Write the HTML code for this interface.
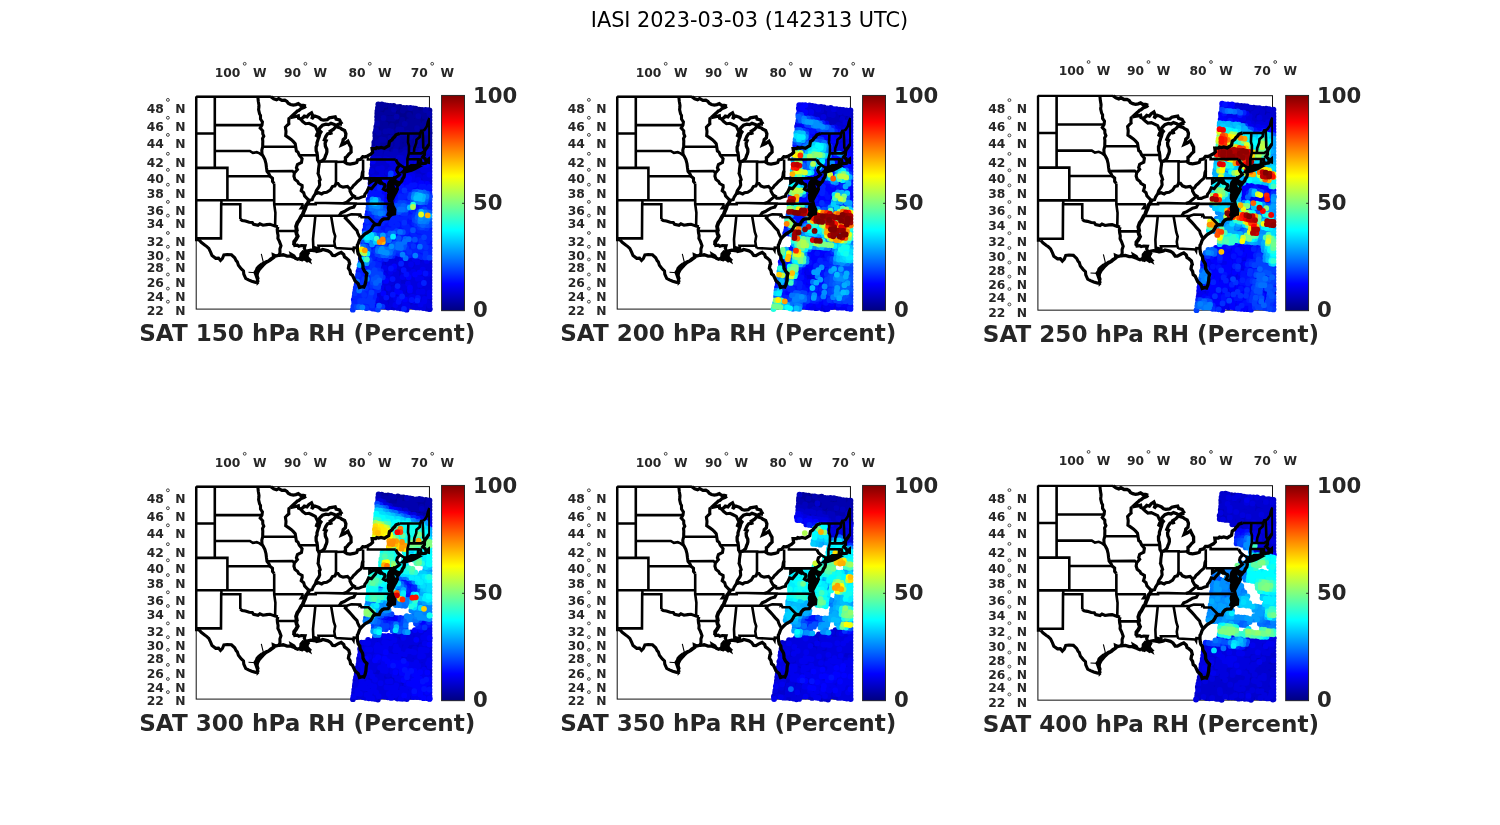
<!DOCTYPE html><html><head><meta charset="utf-8"><title>IASI 2023-03-03</title><style>html,body{margin:0;padding:0;background:#fff}svg{display:block}text{font-family:"DejaVu Sans","Liberation Sans",sans-serif}.b{font-weight:bold;fill:#262626}.d{fill:none;stroke:#262626;stroke-width:.85}</style></head><body>
<svg width="1500" height="825" viewBox="0 0 1500 825">
<defs><linearGradient id="jet" x1="0" y1="1" x2="0" y2="0">
<stop offset="0.0000" stop-color="#000080"/>
<stop offset="0.0312" stop-color="#00009f"/>
<stop offset="0.0625" stop-color="#0000bf"/>
<stop offset="0.0938" stop-color="#0000df"/>
<stop offset="0.1250" stop-color="#0000ff"/>
<stop offset="0.1562" stop-color="#0020ff"/>
<stop offset="0.1875" stop-color="#0040ff"/>
<stop offset="0.2188" stop-color="#0060ff"/>
<stop offset="0.2500" stop-color="#0080ff"/>
<stop offset="0.2812" stop-color="#009fff"/>
<stop offset="0.3125" stop-color="#00bfff"/>
<stop offset="0.3438" stop-color="#00dfff"/>
<stop offset="0.3750" stop-color="#00ffff"/>
<stop offset="0.4062" stop-color="#20ffdf"/>
<stop offset="0.4375" stop-color="#40ffbf"/>
<stop offset="0.4688" stop-color="#60ff9f"/>
<stop offset="0.5000" stop-color="#80ff80"/>
<stop offset="0.5312" stop-color="#9fff60"/>
<stop offset="0.5625" stop-color="#bfff40"/>
<stop offset="0.5938" stop-color="#dfff20"/>
<stop offset="0.6250" stop-color="#ffff00"/>
<stop offset="0.6562" stop-color="#ffdf00"/>
<stop offset="0.6875" stop-color="#ffbf00"/>
<stop offset="0.7188" stop-color="#ff9f00"/>
<stop offset="0.7500" stop-color="#ff8000"/>
<stop offset="0.7812" stop-color="#ff6000"/>
<stop offset="0.8125" stop-color="#ff4000"/>
<stop offset="0.8438" stop-color="#ff2000"/>
<stop offset="0.8750" stop-color="#ff0000"/>
<stop offset="0.9062" stop-color="#df0000"/>
<stop offset="0.9375" stop-color="#bf0000"/>
<stop offset="0.9688" stop-color="#9f0000"/>
<stop offset="1.0000" stop-color="#800000"/>
</linearGradient>
<clipPath id="cpm"><rect x="-1.3" y="-1.3" width="235.1" height="214.1"/></clipPath>
<g id="map" fill="none" stroke="#000" stroke-linejoin="miter" stroke-miterlimit="4" clip-path="url(#cpm)"><path d="M0.0 0.0 74.7 0.0M0.0 0.0 0.0 143.4 3.0 143.4M18.6 0.0 18.6 71.3M0.0 36.9 18.6 36.9M18.6 28.5 65.8 28.5M18.6 54.4 53.6 54.4 56.7 56.3 60.5 55.6 63.4 56.8 65.6 58.5 66.5 58.7M0.0 71.3 31.2 71.3 31.2 103.7M31.2 79.6 73.7 79.6M0.0 103.7 78.0 103.7M25.2 103.7 25.2 107.6 25.0 107.6 24.8 141.8 2.4 141.8 3.0 143.4M25.2 107.6 44.1 107.6 44.1 122.6M81.7 134.4 99.8 134.4M78.9 129.5 79.2 116.1 78.0 107.6 78.0 86.9M78.0 107.6 106.2 107.6 106.5 109.1 104.8 111.5 109.1 111.5M70.8 74.7 96.3 74.5 98.2 76.4M66.5 50.1 99.5 50.1M103.1 58.7 121.0 58.7M124.8 64.9 140.0 64.9 140.0 65.4 148.5 65.2M139.8 65.4 139.8 86.9M166.9 62.9 166.9 81.8M110.3 107.6 119.5 107.6 119.5 106.4 129.2 106.4 147.1 106.8 159.6 106.9 159.6 107.2 196.2 107.2M105.3 119.2 150.6 119.2M118.5 119.2 119.1 120.0 116.8 142.6 117.3 155.0M134.9 119.4 137.6 135.3 139.0 139.6 138.1 144.8 138.7 149.2 139.6 151.4M123.2 154.3 122.3 149.2 138.7 149.2M139.6 151.4 156.3 152.3 157.3 153.9 157.6 151.0 161.1 151.3M150.6 119.2 155.1 117.7 163.7 118.0 163.6 118.8 164.3 118.4 165.3 120.6 172.3 120.7 179.4 127.9M166.9 81.8 196.7 81.8M196.7 81.8 197.9 80.9 199.1 81.2 198.3 83.6 199.5 87.3 201.1 89.3 201.4 92.1 197.3 92.1 196.7 81.8M199.5 62.9 171.7 62.9 171.7 60.6M203.6 68.3 208.7 71.3M210.2 71.3 211.2 69.2 211.2 62.5 212.7 56.5 212.8 49.2 211.8 45.7 212.2 36.8M211.2 62.5 221.9 62.7 224.6 62.8 224.6 64.2 225.7 67.1M222.0 62.8 221.6 68.6M212.7 56.5 225.1 56.8 226.9 55.5 228.2 55.5M217.7 56.7 218.1 51.8 220.0 46.6 220.3 43.1 223.5 40.4 223.8 36.8M228.8 53.5 227.1 50.9 226.8 41.3 226.4 34.2M203.6 36.9 223.8 36.8 225.1 34.2 226.4 34.2 228.2 33.3 230.7 29.7 231.7 25.2 233.2 21.5M233.2 21.5 233.2 48.1M233.2 62.2 233.2 66.0" stroke-width="2.6"/><path d="M44.1 122.6 46.0 123.9 49.2 124.5 53.0 125.7 56.1 125.9 57.4 127.7 61.8 128.7 63.7 127.2 66.8 128.6 70.6 128.0 73.8 127.7 76.9 128.8 78.9 129.5 81.7 130.2M3.0 143.4 5.0 145.7 8.8 148.6 10.1 149.5 12.6 151.8 14.5 155.8 15.8 159.0 19.5 161.7 22.3 161.5 24.3 163.9 26.2 161.9 27.7 158.3 30.9 157.9 35.3 158.2 38.5 161.2 40.0 164.1 41.1 165.2 42.2 168.7 45.1 172.3 47.3 174.4 47.6 177.6 49.5 181.8 52.3 183.2 55.5 184.6 59.3 185.7 62.1 185.3M82.9 158.7 83.8 155.8 83.7 152.5 84.8 149.2 83.2 144.8 81.7 141.8 81.9 138.8 81.3 136.1 81.0 132.9 81.7 130.2M78.0 86.9 76.3 84.9 76.3 81.6 73.8 79.6 72.7 77.2 70.8 74.7 70.3 71.3 69.8 67.1 68.7 62.9 66.5 58.7M66.5 58.7 65.8 57.3 65.6 53.5 66.5 50.1 66.5 47.1 66.6 44.5 66.3 41.9 67.6 39.5 66.6 37.2 66.5 34.2 64.0 31.5 65.8 28.5 66.2 25.3 64.3 22.5 64.3 18.8 63.4 17.4 62.4 13.0 62.7 10.4 62.8 8.9 62.1 4.8 61.6 0.0M93.9 21.1 92.7 21.9 92.5 25.1 92.7 27.2 90.9 28.7 89.2 30.6 89.8 34.7 89.5 39.1 92.7 41.3 95.2 43.1 97.2 45.0 99.0 47.0 99.5 50.1 100.2 54.4 101.7 55.4 103.1 58.7 105.9 62.0 105.3 65.8 101.2 67.9 100.2 71.3 101.2 73.0 98.2 76.4 97.7 79.6 98.7 82.8 101.5 85.0 102.4 86.9 105.9 88.9 106.0 90.7 105.0 94.1 107.5 96.1 108.4 99.3 110.3 101.3 112.7 103.7M97.1 149.2 101.2 148.6 102.7 149.6 105.0 149.0 108.9 149.2 108.1 151.8 109.7 155.0M119.1 97.3 120.1 94.1 122.7 90.3 123.5 88.3 123.1 84.2 124.0 83.0 123.2 80.4 121.8 76.8 122.1 76.1 122.3 72.4 122.6 70.3 123.0 67.6 122.7 64.9M166.9 74.3 166.1 76.3 165.8 79.1 164.9 82.0 161.4 84.9 159.2 87.3 157.3 88.9 155.7 91.3 153.8 92.4 151.3 89.9 146.9 90.5 143.7 89.3 141.8 86.9 139.8 86.9 138.7 89.3 136.2 90.0 134.0 93.6 130.5 95.7 127.3 96.1 125.5 97.3 122.5 96.1 119.1 97.3 116.9 100.5 116.0 103.1 112.7 103.7M147.1 106.8 150.7 105.6 153.2 103.3 155.7 101.3 157.8 99.4 155.7 98.1 153.8 94.5 153.8 92.4M157.8 99.4 159.5 101.7 162.6 101.7 165.2 100.5 168.3 99.7 168.6 97.7 170.5 95.3 172.4 91.3 175.3 92.1 177.3 89.6 179.4 87.3 180.6 84.5 183.8 86.5 184.6 85.1M159.6 106.9 157.6 110.5 153.8 111.5 150.7 113.3 148.1 114.9 145.0 116.1 143.0 119.3M164.5 141.5 163.0 139.6 161.4 136.2 160.8 134.0 157.9 131.0 155.7 128.3 152.9 125.3 150.7 123.0 149.1 121.5 150.6 119.2M173.5 81.8 173.5 86.1 176.5 84.1 180.3 82.7 183.8 82.8 184.6 85.1 186.0 86.9 188.5 88.1 188.9 89.3 187.2 92.5 189.4 93.7 190.9 93.4 193.8 96.5M199.1 81.2 202.0 79.1 203.3 77.9 201.1 75.0 200.5 73.8 201.1 71.3 203.6 68.3 201.4 66.3 199.5 62.9M122.3 36.0 120.7 33.3 119.1 29.7 115.4 27.9 112.8 26.7 109.3 27.1 106.5 24.9 104.6 22.9" stroke-width="3.1"/><path d="M112.7 103.7 111.6 106.8 110.0 108.4 109.1 111.5 107.5 115.0 106.5 118.0 105.3 119.2 103.7 122.3 102.7 124.2 101.2 126.1 99.9 129.9 100.6 133.7 99.8 134.4 100.5 137.4 101.5 139.6 99.9 142.6 98.0 145.1 97.9 148.3 97.1 149.2" stroke-width="3.9"/><path d="M82.9 158.5 79.6 159.4 77.2 158.3 77.5 160.8 74.5 163.0 73.0 164.2 70.2 165.1 68.9 165.9 66.0 167.3M74.7 0.0 77.5 2.1 80.4 3.1 82.5 2.0 85.7 3.8 88.6 3.6 90.7 4.8 92.0 6.7 94.3 7.9 97.1 8.5 99.7 8.0 102.1 7.1 104.4 8.7 107.2 8.7 109.7 9.5M109.7 9.5 108.1 10.8 104.6 12.1 102.5 14.0 101.2 14.4 99.0 16.5 95.8 19.3 93.9 21.1M203.6 36.9 199.8 38.2 198.4 40.2 196.7 41.8 195.8 43.3 193.3 44.9 192.5 49.1 190.0 50.6 188.2 51.7 184.8 50.8 182.5 51.4 180.6 50.9 179.5 51.9 175.9 52.0 176.4 55.7 174.5 57.6 171.3 59.3 169.2 60.2 166.6 60.1 164.5 62.7 161.5 63.4 160.5 65.9 157.7 66.9 153.8 67.5 150.9 67.1 148.0 65.3M148.0 65.3 149.3 64.1 149.2 61.0 150.7 60.0 152.6 57.6 154.9 55.5 154.8 53.3 154.8 50.7 153.4 48.3 151.7 44.7 148.4 47.0 145.4 48.3 146.7 44.9 147.0 43.1 149.2 41.1 149.7 37.2 148.4 33.9 145.8 32.7 144.1 31.3 141.7 30.7 139.9 29.6 137.4 32.6 134.0 34.7 135.2 38.2 134.6 36.0 131.4 37.2 129.7 39.8 128.2 43.3 130.0 44.1 128.9 46.6 129.2 49.6 130.6 52.6 130.7 55.3 130.1 57.6 129.5 58.6 128.4 61.9 126.3 64.0 122.9 65.6 121.4 63.3 121.2 59.3 120.7 55.9 120.0 54.2 119.9 50.4 120.8 48.3 120.8 46.1 122.0 42.4 122.8 40.3 123.7 36.9 125.5 34.2 124.1 35.1 122.6 37.8 119.9 40.3 121.0 37.2 122.3 36.0M145.8 27.5 142.4 27.6 139.9 28.9 138.1 27.8 134.8 26.7 132.3 28.0 129.7 27.5 126.3 28.7 123.7 31.3 121.9 33.9 122.3 36.0M82.9 158.7 87.0 158.2 90.8 159.5 93.9 159.4 95.8 160.1 95.2 157.9 97.7 159.4 99.0 161.5 101.5 162.6 104.0 161.5 105.9 163.0 107.8 161.5 111.0 164.1 113.2 163.0 111.0 160.8 109.1 158.7 111.6 156.5 109.7 155.0 111.6 154.2 114.7 153.6 117.3 153.9 119.1 154.3 119.1 151.4 120.4 151.8 121.0 154.7 123.2 154.3 124.8 153.9 126.4 152.9 129.2 153.6 131.8 154.3 134.3 155.8 136.5 158.9 138.7 159.0 142.5 156.8 145.0 155.8 147.5 157.9 148.3 160.4 150.0 161.5 152.6 163.7 153.5 167.3 152.8 168.3 152.2 171.6 153.8 174.1 154.4 177.3 156.3 178.7 157.6 181.5 158.9 184.3 162.0 187.1 163.3 190.9 166.1 190.1 167.7 190.5 168.9 187.8 169.7 184.3 170.0 180.1 170.7 177.0 168.3 174.4 166.8 171.5 166.7 168.7 166.4 166.6 165.7 165.4 163.9 162.3 163.6 159.5 162.0 157.2 161.4 154.3 161.1 151.3 161.2 148.3 162.0 147.0 163.3 143.3 164.5 141.5 167.1 138.8 168.9 137.2 170.8 136.2 174.3 134.0 175.9 131.4 177.1 129.1 179.4 127.9 183.1 128.0 184.1 125.3 186.1 123.0 187.9 122.3 192.0 122.1 193.5 119.6 195.6 117.9 198.3 117.3 198.6 113.0 196.7 109.4 196.2 107.2 195.4 104.4 193.2 104.1 192.3 101.7 192.4 98.4 193.8 96.5M193.8 96.5 192.9 93.3 192.9 91.0 192.3 88.5 192.9 86.1 194.8 83.6 195.4 84.5 194.0 87.2 194.2 89.3 193.5 92.5 196.1 94.5 197.3 96.5 196.5 100.0 195.4 101.7 196.1 102.5 197.9 98.9 199.8 95.7 201.4 92.1M201.1 89.3 202.4 88.1 202.4 86.1 199.5 84.9 198.3 82.8M202.4 88.1 203.8 86.2 205.5 84.5 206.2 82.5 207.7 80.4 208.2 78.2 208.0 75.9 206.5 75.4 208.3 73.8 208.7 71.3M208.3 73.8 208.0 74.8 210.1 74.9 212.4 74.4 215.3 73.5 218.1 72.4 221.3 70.7 218.8 70.5 216.9 71.7 213.1 71.9 209.6 72.5 210.2 71.3 213.7 70.0 215.0 69.0 218.8 69.0 221.6 68.6 223.8 68.2 224.4 66.3 225.7 67.1 226.3 67.1 229.2 66.7 229.8 65.0 233.2 65.8 233.2 64.6 232.6 62.5 230.1 64.6 228.8 62.0 226.6 60.4 228.2 58.2 228.2 55.5 228.8 53.5 230.7 50.9 232.0 48.8 233.2 47.4M93.9 21.1 96.2 20.6 99.6 19.9 102.1 19.3 102.4 21.5 104.6 22.6 106.8 21.1 108.2 19.5 110.8 20.2 112.7 17.8 115.3 16.2 116.6 19.3 115.5 22.5 116.9 20.6 118.7 19.4 121.4 20.3 122.9 21.1 124.9 22.9 127.2 23.5 131.0 23.1 133.1 21.3 135.9 20.8 139.0 20.2 139.9 22.5 143.3 23.4 144.3 25.2 145.8 27.5M66.0 167.3 62.6 170.0 60.9 171.7 60.2 173.8 58.9 175.8 60.2 179.3 61.3 182.7 61.7 185.7 62.1 185.3M76.6 161.2 74.5 162.4 71.9 164.8 69.7 166.0 66.8 168.7 64.7 171.1 63.0 173.0 61.1 176.7 60.9 179.3 62.0 182.7" stroke-width="3.3"/><path d="M67.1 165.5 65.1 157.2M52.3 175.7 59.9 176.1" stroke-width="1.1"/><path d="M104.0 157.2 106.5 154.3 110.3 155.0 112.7 156.7 111.6 159.4 112.0 161.1 113.5 163.7 114.4 165.9 111.0 163.7 107.2 163.0 104.0 163.7 103.7 160.8 104.0 157.2Z" fill="#000" stroke-width="1.5"/><path d="M192.9 85.3 195.1 84.5 195.7 87.7 197.6 90.1 198.6 92.5 198.3 95.7 196.7 99.7 195.4 102.1 193.2 102.5 192.3 98.9 192.3 96.7 191.0 93.3 191.0 90.7 191.6 88.5 192.9 85.3Z" fill="#000" stroke-width="1.5"/><path d="M192.3 107.6 195.4 107.6 196.4 110.7 196.0 112.0 197.6 115.3 194.8 118.0 192.3 119.6 190.7 118.4 192.0 115.3 191.3 111.5 192.3 107.6Z" fill="#000" stroke-width="1.5"/></g>
</defs>
<text x="749.5" y="26.5" font-size="20.82" text-anchor="middle" fill="#000">IASI 2023-03-03 (142313 UTC)</text>
<g transform="translate(196.20,96.60) scale(1.0000,1.0000)"><rect x="0" y="0" width="233.25" height="212.50" fill="#fff" stroke="#111" stroke-width="1"/></g>
<g transform="translate(196.20,96.60) scale(1.0000)">
<g fill="none" stroke-width="5.8" stroke-linecap="round"><path d="M201.1 13.6h0M200.0 16.8h0M190.9 18.6h0M224.0 32.2h0M194.2 44.1h0" stroke="#000080"/><path d="M191.2 9.1h0M197.5 9.4h0M203.8 10.3h0M222.8 13.1h0M225.8 13.3h0M188.3 11.8h0M191.2 12.6h0M203.7 14.2h0M210.4 14.1h0M213.3 14.4h0M216.6 15.5h0M228.9 17.1h0M184.9 15.2h0M188.3 14.8h0M203.2 16.6h0M206.6 17.6h0M209.4 17.6h0M216.4 18.8h0M225.9 19.2h0M233.3 20.5h0M181.1 17.0h0M194.0 19.1h0M196.6 19.7h0M203.6 19.9h0M206.3 20.0h0M209.6 20.4h0M212.2 20.9h0M218.4 21.4h0M225.0 22.2h0M228.7 23.1h0M184.5 21.5h0M199.3 23.3h0M203.0 22.8h0M209.2 24.4h0M224.7 25.5h0M189.9 24.6h0M193.4 25.7h0M196.3 26.0h0M200.0 26.4h0M202.5 26.1h0M186.9 27.3h0M193.3 28.7h0M199.7 29.3h0M205.1 29.4h0M218.3 31.1h0M227.1 32.4h0M230.1 33.3h0M183.6 30.3h0M199.2 32.0h0M224.2 35.7h0M227.0 35.7h0M233.5 36.3h0M233.3 36.4h0M183.1 33.9h0M201.3 36.0h0M224.1 38.7h0M232.7 39.3h0M185.6 37.2h0M192.5 38.1h0M195.6 37.8h0M210.5 39.7h0M217.2 40.4h0M223.2 41.1h0M233.0 42.2h0M216.4 43.9h0M229.1 45.5h0M182.1 42.9h0M207.0 45.7h0M216.4 46.9h0M233.3 49.0h0M191.3 47.4h0M178.1 48.6h0M184.6 49.8h0M187.8 50.1h0M203.0 51.5h0M193.9 53.7h0" stroke="#00008f"/><path d="M182.1 7.7h0M185.6 7.9h0M188.6 8.6h0M194.3 9.4h0M201.0 10.6h0M207.5 11.4h0M210.5 11.2h0M217.1 11.9h0M219.5 12.1h0M232.4 13.5h0M233.3 13.8h0M181.7 11.3h0M185.0 11.3h0M194.7 12.4h0M206.6 14.0h0M219.6 16.0h0M222.5 16.2h0M225.9 16.4h0M232.5 17.1h0M181.2 14.5h0M190.9 15.6h0M193.7 15.7h0M197.0 15.8h0M213.0 18.4h0M219.0 18.7h0M228.3 19.6h0M231.5 20.2h0M184.4 17.7h0M187.7 18.6h0M215.4 21.4h0M221.7 21.9h0M231.1 23.1h0M180.9 20.2h0M190.0 21.3h0M193.4 21.9h0M197.0 22.1h0M206.1 23.1h0M212.7 24.5h0M215.2 24.6h0M218.2 25.3h0M221.7 25.7h0M228.3 26.7h0M231.4 26.9h0M233.3 27.0h0M181.0 23.5h0M183.9 24.0h0M186.5 24.0h0M205.5 26.4h0M212.4 27.8h0M215.1 28.0h0M218.6 27.8h0M221.6 29.0h0M224.8 29.2h0M227.6 29.0h0M231.1 29.5h0M233.3 30.2h0M183.5 27.7h0M189.4 27.7h0M195.7 29.1h0M202.2 29.6h0M209.0 30.4h0M211.7 31.1h0M214.8 31.4h0M233.3 33.1h0M180.1 30.1h0M186.8 30.8h0M189.5 31.2h0M192.1 31.5h0M195.4 31.4h0M208.3 33.5h0M211.7 33.4h0M214.6 33.9h0M217.4 34.8h0M220.8 34.9h0M186.5 33.7h0M198.1 35.2h0M217.1 38.1h0M220.4 38.0h0M226.4 38.7h0M229.9 39.0h0M233.3 39.7h0M179.0 36.4h0M188.9 37.0h0M198.0 38.1h0M201.7 38.7h0M204.1 39.2h0M208.0 40.0h0M219.7 41.4h0M226.8 42.1h0M229.8 41.9h0M233.3 43.0h0M179.1 39.3h0M182.3 40.3h0M185.2 39.9h0M188.6 40.4h0M191.3 40.6h0M197.7 41.5h0M204.2 42.2h0M207.2 42.4h0M210.2 42.7h0M213.8 43.6h0M226.1 45.4h0M232.5 46.3h0M233.3 45.8h0M179.2 42.9h0M191.6 43.9h0M198.0 45.3h0M203.6 45.4h0M210.1 46.1h0M213.7 47.2h0M220.0 47.3h0M232.0 48.5h0M178.1 45.7h0M184.6 46.3h0M188.0 46.9h0M197.2 47.9h0M203.8 48.9h0M206.2 49.5h0M210.2 49.6h0M213.2 50.2h0M215.7 50.3h0M219.2 51.0h0M222.6 51.3h0M190.2 50.7h0M194.1 50.8h0M197.0 51.3h0M206.1 52.5h0M213.1 53.0h0M228.0 55.1h0" stroke="#00009f"/><path d="M214.1 11.3h0M229.4 13.4h0M197.7 13.0h0M233.3 17.3h0M222.2 19.5h0M200.4 20.1h0M233.3 23.5h0M187.3 21.3h0M208.6 27.2h0M180.9 26.8h0M220.8 31.5h0M202.0 32.9h0M205.2 32.8h0M230.2 36.0h0M179.8 33.6h0M189.2 34.8h0M192.6 34.3h0M195.1 35.0h0M205.1 36.6h0M207.6 36.8h0M211.2 36.6h0M214.6 37.8h0M182.6 36.2h0M214.3 40.5h0M194.4 41.1h0M201.3 41.9h0M220.3 43.9h0M223.3 44.6h0M185.0 42.9h0M187.9 43.3h0M200.9 45.0h0M222.5 47.4h0M225.7 48.2h0M228.9 48.3h0M181.2 45.7h0M194.4 48.0h0M200.9 48.1h0M225.5 51.8h0M231.4 51.7h0M233.3 52.1h0M181.7 49.4h0M199.7 51.8h0M209.2 52.9h0M215.6 53.4h0M219.1 54.0h0M222.1 54.3h0M177.5 51.9h0M181.2 52.7h0M187.3 53.2h0M190.4 53.2h0M197.2 54.8h0M203.3 55.5h0M206.0 55.2h0M180.5 55.3h0M187.3 55.9h0M211.6 58.9h0M228.1 61.6h0M177.7 58.4h0M186.9 59.7h0" stroke="#0000af"/><path d="M228.8 51.9h0M224.7 54.2h0M231.2 55.3h0M184.3 52.6h0M199.3 54.7h0M208.9 56.3h0M212.0 56.3h0M215.1 56.6h0M219.0 56.6h0M222.0 57.3h0M225.2 57.9h0M231.1 57.9h0M233.3 58.4h0M177.6 55.2h0M183.7 55.8h0M190.4 57.1h0M192.9 57.5h0M196.6 57.9h0M199.3 57.7h0M202.5 58.7h0M205.8 58.5h0M208.8 58.7h0M215.5 59.5h0M218.7 59.8h0M221.2 60.5h0M224.2 60.7h0M180.6 58.3h0M183.8 59.1h0M189.6 59.4h0M193.4 59.9h0M196.0 60.5h0M199.0 61.2h0M208.6 62.0h0M211.4 62.2h0M218.0 63.0h0M186.4 62.5h0M211.7 66.0h0M227.5 67.8h0M183.1 65.7h0M214.3 68.7h0M191.7 70.0h0M207.9 71.4h0M229.5 76.9h0M192.6 98.2h0M191.8 101.7h0M199.8 163.3h0M186.0 165.3h0M216.9 171.6h0M229.3 173.5h0M207.9 186.4h0M190.5 197.3h0M217.6 207.4h0M233.3 212.5h0" stroke="#0000bf"/><path d="M233.3 55.2h0M227.7 58.4h0M231.1 61.7h0M233.3 62.1h0M202.8 61.1h0M205.6 61.5h0M221.5 64.1h0M224.2 63.6h0M227.0 63.9h0M230.3 64.3h0M233.3 64.9h0M176.7 61.6h0M180.5 62.2h0M183.1 62.2h0M189.3 62.6h0M195.4 63.8h0M201.7 64.3h0M204.9 64.8h0M208.2 65.7h0M214.0 65.5h0M217.8 66.8h0M223.4 67.0h0M233.0 67.8h0M180.2 65.3h0M186.0 65.9h0M188.7 66.5h0M192.0 67.0h0M198.2 67.1h0M204.4 67.6h0M208.0 68.5h0M217.1 69.5h0M230.3 71.2h0M176.5 67.8h0M179.2 68.4h0M183.0 68.3h0M185.3 68.8h0M188.8 69.5h0M195.4 70.1h0M204.2 70.9h0M211.2 71.9h0M216.9 72.8h0M220.6 72.7h0M223.2 73.1h0M232.5 74.9h0M176.3 71.5h0M179.6 71.2h0M188.7 72.4h0M191.6 72.7h0M197.7 73.5h0M207.2 75.0h0M213.1 75.4h0M219.5 76.1h0M223.4 76.1h0M226.0 77.3h0M179.3 74.4h0M181.8 75.4h0M188.5 75.5h0M200.3 76.9h0M203.9 78.0h0M225.6 79.9h0M175.2 76.9h0M178.1 77.7h0M181.5 78.5h0M187.7 78.4h0M190.6 79.2h0M225.5 83.1h0M228.5 84.1h0M233.3 84.4h0M175.3 80.9h0M190.4 82.8h0M200.1 83.2h0M196.5 86.1h0M192.3 95.7h0M198.5 96.0h0M195.6 99.3h0M198.6 99.3h0M195.1 102.4h0M191.9 105.1h0M195.0 104.9h0M190.9 107.5h0M194.6 111.4h0M221.3 163.1h0M224.7 163.5h0M233.3 164.1h0M209.2 164.1h0M223.9 166.4h0M233.3 167.5h0M189.9 165.2h0M195.7 166.0h0M201.8 166.6h0M217.6 169.1h0M189.0 168.4h0M232.7 173.7h0M185.8 171.0h0M201.2 172.7h0M203.8 173.9h0M210.2 174.1h0M197.0 175.7h0M203.7 176.2h0M225.9 179.5h0M233.3 180.3h0M202.7 180.2h0M228.6 182.9h0M233.3 183.5h0M190.4 181.1h0M206.0 183.1h0M209.1 183.5h0M211.7 183.8h0M221.3 185.0h0M230.7 186.4h0M198.8 185.8h0M205.1 186.4h0M227.3 188.6h0M195.7 188.1h0M198.5 188.9h0M223.4 191.8h0M188.3 190.5h0M195.1 191.2h0M204.1 192.3h0M210.2 193.8h0M188.2 194.0h0M190.8 194.6h0M197.9 194.8h0M210.5 196.8h0M213.2 196.8h0M215.8 197.2h0M222.3 197.8h0M228.5 198.6h0M231.9 199.2h0M200.1 198.5h0M231.8 202.6h0M233.3 202.5h0M180.7 199.3h0M193.1 200.6h0M224.6 204.5h0M233.3 206.0h0M190.2 204.2h0M193.3 204.7h0M215.2 206.4h0M221.0 207.2h0M230.4 208.8h0M179.5 205.9h0M186.1 206.2h0M192.5 207.6h0M214.6 209.5h0M230.3 212.0h0M233.5 212.3h0M195.2 210.5h0M197.8 210.9h0" stroke="#0000cf"/><path d="M214.5 63.3h0M199.0 64.5h0M220.7 66.8h0M233.3 68.0h0M195.6 66.7h0M201.8 67.9h0M220.9 70.0h0M224.0 70.3h0M226.4 70.4h0M232.8 70.9h0M233.3 71.4h0M198.0 70.9h0M201.2 71.1h0M213.6 72.0h0M226.9 73.4h0M229.1 73.7h0M233.3 74.8h0M182.0 72.2h0M185.7 71.6h0M194.5 72.7h0M201.5 73.6h0M204.7 74.1h0M210.8 75.0h0M216.6 76.3h0M231.9 77.3h0M175.5 74.4h0M185.2 75.0h0M191.1 75.5h0M207.5 77.8h0M219.8 79.7h0M222.9 79.8h0M228.8 80.8h0M231.6 80.5h0M233.3 81.1h0M185.2 78.9h0M197.0 79.8h0M200.6 80.4h0M203.8 81.0h0M206.9 80.6h0M219.0 82.2h0M231.7 83.7h0M177.8 80.8h0M184.9 81.1h0M187.4 81.6h0M193.9 83.1h0M196.9 83.4h0M203.5 84.2h0M206.0 84.3h0M219.0 85.8h0M233.3 87.4h0M190.2 85.9h0M193.4 85.9h0M202.8 86.6h0M206.3 87.0h0M192.8 89.4h0M189.3 91.9h0M192.9 91.9h0M196.3 92.8h0M195.5 96.0h0M189.0 101.3h0M198.5 102.1h0M198.0 105.4h0M188.6 107.2h0M194.9 108.1h0M199.4 160.2h0M203.0 160.3h0M205.8 161.0h0M212.4 161.3h0M215.0 162.2h0M228.3 163.5h0M193.0 162.8h0M195.8 163.3h0M202.5 163.7h0M211.5 164.4h0M214.7 165.5h0M217.6 165.1h0M227.6 166.7h0M230.8 166.6h0M192.5 166.0h0M199.3 166.7h0M208.7 167.9h0M211.8 168.2h0M221.2 168.8h0M223.8 169.5h0M226.9 169.8h0M229.7 170.1h0M233.3 170.0h0M233.3 170.3h0M186.0 167.9h0M192.5 168.6h0M195.0 169.4h0M201.9 170.0h0M204.4 170.3h0M207.8 170.4h0M210.5 170.7h0M213.8 171.4h0M219.8 172.2h0M223.7 172.7h0M233.3 173.8h0M191.2 172.4h0M213.7 174.7h0M219.8 175.6h0M226.0 176.4h0M233.3 176.7h0M187.8 174.6h0M191.4 175.5h0M200.1 176.3h0M207.2 176.8h0M216.0 178.5h0M222.4 178.9h0M228.7 180.1h0M231.8 180.0h0M190.4 178.3h0M194.0 178.3h0M196.7 179.5h0M200.3 179.4h0M209.9 180.9h0M215.4 181.3h0M218.8 181.3h0M230.8 183.0h0M199.6 182.9h0M202.2 182.4h0M214.7 184.8h0M218.3 184.6h0M224.1 185.9h0M233.3 186.4h0M192.4 184.8h0M195.5 185.8h0M201.7 186.1h0M214.4 187.3h0M217.5 187.7h0M220.4 188.5h0M230.0 189.8h0M233.3 189.6h0M186.4 187.5h0M189.0 187.5h0M192.3 187.8h0M204.6 189.8h0M207.9 189.8h0M210.9 189.9h0M217.1 191.3h0M220.0 191.5h0M226.4 191.8h0M229.6 192.3h0M232.5 193.2h0M233.3 192.9h0M197.5 191.7h0M207.2 193.3h0M216.5 194.2h0M220.1 194.5h0M228.8 196.1h0M232.5 195.6h0M185.2 194.0h0M194.3 194.8h0M206.6 196.3h0M219.3 197.5h0M225.9 198.7h0M181.7 196.1h0M184.3 196.7h0M194.1 197.9h0M202.9 198.6h0M209.8 199.4h0M212.9 200.6h0M224.7 202.1h0M184.3 199.8h0M187.0 200.4h0M196.6 201.6h0M205.9 202.6h0M231.2 205.9h0M183.1 202.9h0M186.6 204.0h0M196.1 204.9h0M198.7 205.2h0M205.5 206.2h0M211.4 206.3h0M227.4 208.2h0M233.3 209.0h0M183.1 205.9h0M189.2 207.4h0M195.8 207.4h0M201.4 208.8h0M204.8 208.5h0M217.2 210.2h0M220.1 210.8h0M223.4 210.9h0M227.0 211.4h0M188.6 209.9h0M191.9 210.9h0M201.7 211.3h0M204.6 211.8h0M210.4 213.1h0" stroke="#0000df"/><path d="M192.4 63.9h0M230.5 68.3h0M176.7 64.9h0M211.0 68.5h0M233.3 78.1h0M209.9 78.2h0M213.3 79.0h0M216.1 79.3h0M216.3 81.8h0M222.0 83.3h0M181.7 81.5h0M209.6 84.3h0M215.5 85.0h0M221.7 85.5h0M228.0 86.6h0M177.8 84.0h0M183.8 84.9h0M200.2 87.1h0M190.6 88.6h0M196.3 89.8h0M199.6 90.0h0M189.3 95.2h0M189.4 97.6h0M190.9 110.9h0M193.6 114.5h0M196.8 115.3h0M199.9 137.3h0M218.5 162.6h0M230.6 164.3h0M205.6 163.6h0M221.4 165.6h0M214.8 167.9h0M226.6 173.1h0M188.7 171.3h0M197.7 172.7h0M217.0 175.3h0M231.9 177.2h0M194.2 175.5h0M213.4 177.5h0M187.6 178.4h0M206.4 180.5h0M221.6 182.1h0M225.1 182.2h0M192.8 181.5h0M186.8 184.2h0M211.8 187.0h0M223.8 188.3h0M185.3 190.7h0M192.1 191.5h0M200.8 192.2h0M222.5 195.3h0M226.4 195.1h0M233.3 196.1h0M233.3 199.7h0M215.8 200.1h0M218.9 200.8h0M228.4 202.2h0M199.9 202.0h0M212.2 202.9h0M218.3 204.5h0M228.0 204.7h0M180.2 202.4h0M208.5 206.2h0M224.3 207.8h0M199.2 208.4h0M208.5 209.3h0M211.5 209.3h0" stroke="#0000ef"/><path d="M197.8 77.2h0M210.2 81.2h0M213.0 81.6h0M212.5 84.6h0M225.0 86.6h0M231.1 87.4h0M174.3 83.2h0M181.2 83.9h0M187.2 84.9h0M208.7 88.1h0M212.2 88.4h0M221.2 89.2h0M231.0 90.3h0M174.3 86.8h0M202.3 90.4h0M209.2 91.2h0M215.0 91.6h0M218.1 91.6h0M221.1 92.6h0M224.9 92.2h0M227.7 93.3h0M233.3 93.5h0M174.3 90.0h0M186.6 91.3h0M199.1 92.6h0M205.1 93.5h0M211.7 93.9h0M177.5 93.4h0M180.6 94.2h0M186.8 94.1h0M204.9 96.8h0M186.0 97.4h0M201.5 99.0h0M176.0 99.3h0M188.4 104.6h0M219.9 111.6h0M193.4 117.4h0M196.3 117.8h0M212.3 119.9h0M174.4 119.0h0M214.7 123.6h0M211.1 126.0h0M179.4 125.7h0M185.6 130.0h0M191.4 130.5h0M229.1 134.7h0M221.0 146.8h0M198.0 169.7h0M223.1 176.0h0M218.8 178.0h0M212.4 180.6h0M189.9 184.3h0M213.8 191.1h0M213.7 194.1h0M200.9 195.1h0M204.0 196.2h0M187.3 196.8h0M208.7 202.7h0M179.1 209.1h0M179.0 212.2h0" stroke="#0000ff"/><path d="M215.4 88.8h0M218.5 88.5h0M225.0 90.0h0M227.5 90.0h0M233.3 90.3h0M178.0 86.7h0M180.7 87.8h0M184.3 87.6h0M186.6 88.7h0M205.5 90.4h0M211.7 90.9h0M230.3 93.8h0M177.4 90.1h0M180.3 90.7h0M202.3 92.9h0M215.0 94.3h0M174.2 92.7h0M182.9 94.5h0M202.4 96.1h0M208.1 96.7h0M173.7 96.1h0M177.0 96.3h0M180.3 97.0h0M182.8 97.6h0M211.1 101.1h0M173.7 99.1h0M179.6 100.5h0M182.9 100.4h0M185.5 100.3h0M201.8 102.2h0M207.4 103.0h0M211.0 103.3h0M213.9 104.6h0M233.3 106.6h0M172.4 102.8h0M185.2 103.5h0M220.1 107.9h0M223.3 108.3h0M229.3 109.4h0M233.3 109.7h0M223.1 111.2h0M232.3 112.8h0M213.3 113.2h0M218.7 114.1h0M212.9 116.5h0M215.6 117.2h0M171.7 115.2h0M202.3 119.3h0M205.5 119.1h0M187.1 120.4h0M193.1 121.0h0M199.3 121.2h0M211.7 123.2h0M183.5 122.9h0M186.2 123.7h0M192.4 124.3h0M201.7 125.0h0M204.5 125.4h0M214.1 126.8h0M176.8 125.3h0M182.3 126.4h0M188.7 126.7h0M191.9 127.1h0M198.6 127.7h0M204.6 128.6h0M214.4 129.3h0M217.5 130.5h0M232.5 131.6h0M233.3 131.8h0M169.5 128.0h0M176.5 128.7h0M188.9 130.3h0M194.9 130.9h0M201.1 131.2h0M203.9 131.4h0M207.3 131.7h0M219.4 134.0h0M233.3 135.3h0M184.6 132.9h0M188.3 132.9h0M197.8 133.9h0M212.9 136.1h0M219.7 136.6h0M222.4 137.0h0M225.8 137.7h0M168.5 133.8h0M178.4 135.4h0M187.9 136.3h0M206.6 138.3h0M209.9 139.1h0M212.8 139.0h0M215.6 139.5h0M231.8 141.5h0M199.2 141.1h0M233.3 144.6h0M189.9 142.8h0M196.5 143.9h0M217.9 146.6h0M230.0 147.5h0M233.3 148.0h0M214.6 149.3h0M221.0 150.2h0M226.9 150.2h0M233.3 151.3h0M173.7 147.2h0M213.4 151.7h0M229.1 154.5h0M176.3 150.6h0M178.5 151.0h0M222.2 156.7h0M225.5 156.3h0M175.3 153.9h0M209.3 158.6h0M216.1 158.6h0M177.4 157.9h0M180.5 161.1h0M187.1 162.2h0M176.6 163.9h0M180.4 163.9h0M183.3 164.8h0M173.7 166.1h0M172.9 169.3h0M194.7 171.9h0M207.5 173.5h0M229.3 176.9h0M210.2 177.7h0M162.3 174.8h0M165.7 175.2h0M169.1 175.9h0M168.5 178.9h0M196.4 182.5h0M164.9 181.4h0M175.4 192.1h0M179.2 192.9h0M196.6 198.1h0M221.7 201.3h0M161.6 197.6h0M190.1 201.0h0M203.2 202.6h0M215.5 203.4h0M167.8 201.4h0M202.4 205.2h0M157.6 203.0h0" stroke="#0010ff"/><path d="M183.5 91.2h0M233.3 97.1h0M211.1 97.2h0M204.3 99.6h0M208.1 100.2h0M233.1 103.2h0M204.5 103.0h0M233.0 106.7h0M201.3 105.9h0M225.8 109.2h0M232.5 110.0h0M197.3 108.2h0M225.5 111.6h0M233.3 113.1h0M216.4 113.7h0M190.9 114.3h0M199.6 115.7h0M200.1 118.7h0M209.5 119.9h0M214.9 120.4h0M171.1 118.2h0M177.2 119.1h0M190.0 120.8h0M196.0 121.0h0M202.2 122.2h0M205.7 122.5h0M208.3 122.6h0M171.1 121.4h0M173.4 121.8h0M176.9 122.4h0M180.0 122.7h0M189.1 123.8h0M195.3 124.9h0M198.6 124.3h0M218.0 127.0h0M173.5 125.2h0M185.7 126.8h0M194.9 127.0h0M201.2 128.1h0M207.9 129.2h0M210.7 129.8h0M220.5 130.1h0M172.8 127.7h0M182.4 129.5h0M197.9 131.4h0M210.4 132.2h0M213.6 132.9h0M222.9 134.1h0M226.3 134.7h0M232.8 134.7h0M169.5 130.4h0M176.1 131.4h0M181.9 132.7h0M191.6 133.3h0M194.4 133.8h0M210.0 135.7h0M216.8 136.6h0M229.1 137.5h0M232.2 138.7h0M233.3 138.5h0M171.5 134.1h0M175.6 134.9h0M181.8 135.6h0M184.7 136.0h0M191.0 136.3h0M203.6 138.5h0M218.8 139.9h0M222.2 140.8h0M224.8 140.8h0M233.3 141.9h0M205.6 141.2h0M214.9 142.9h0M222.0 143.2h0M227.4 143.7h0M231.1 144.9h0M199.3 143.8h0M205.6 145.1h0M212.2 145.8h0M214.9 145.7h0M224.3 147.4h0M192.7 146.1h0M211.2 148.2h0M233.3 151.1h0M166.8 146.6h0M169.7 146.5h0M179.7 147.7h0M192.3 149.6h0M217.0 152.9h0M220.1 153.4h0M223.6 152.9h0M226.4 153.6h0M232.4 154.5h0M233.3 154.6h0M207.3 154.2h0M210.0 154.7h0M216.1 155.4h0M219.2 156.2h0M232.5 157.9h0M233.3 157.9h0M200.7 156.8h0M203.1 157.4h0M212.4 158.9h0M222.0 159.3h0M225.2 160.5h0M231.2 160.5h0M174.7 156.8h0M196.4 159.3h0M165.3 159.0h0M174.2 160.4h0M176.9 160.7h0M183.3 161.6h0M189.8 162.4h0M204.9 167.1h0M179.8 167.1h0M182.7 168.2h0M166.3 168.7h0M169.7 169.3h0M178.8 170.6h0M182.2 170.7h0M163.2 171.9h0M166.1 172.6h0M169.3 172.5h0M172.6 173.3h0M184.7 174.5h0M164.6 178.3h0M171.5 178.9h0M227.7 186.4h0M161.0 181.7h0M164.4 184.4h0M170.2 186.0h0M173.2 186.3h0M201.4 189.5h0M160.4 188.0h0M169.6 188.2h0M173.1 189.2h0M162.8 191.5h0M172.7 192.5h0M182.3 193.5h0M159.3 193.6h0M169.2 195.0h0M172.2 195.0h0M178.2 196.3h0M205.9 199.9h0M165.6 197.5h0M171.8 198.9h0M178.1 199.5h0M221.1 204.0h0M158.4 199.9h0M161.8 200.5h0M164.6 200.7h0M171.3 202.0h0M177.2 202.4h0M161.5 203.7h0M158.0 206.1h0M161.0 206.7h0M167.3 207.2h0M170.0 208.2h0M173.7 208.5h0M207.8 212.3h0M172.3 211.1h0M176.3 212.0h0" stroke="#0020ff"/><path d="M194.4 79.5h0M208.2 93.9h0M233.7 99.7h0M233.3 103.1h0M210.8 106.5h0M213.3 107.1h0M197.6 111.9h0M206.0 116.4h0M209.4 116.3h0M219.0 117.8h0M174.2 115.4h0M190.0 117.2h0M218.0 120.4h0M208.1 126.1h0M220.4 127.6h0M170.7 124.4h0M223.7 131.0h0M230.1 131.8h0M178.8 129.2h0M172.6 131.4h0M179.3 132.0h0M225.2 144.1h0M227.6 147.1h0M195.8 147.2h0M217.2 149.5h0M229.7 150.6h0M182.7 148.3h0M185.7 148.4h0M210.4 151.5h0M172.3 151.0h0M201.3 154.0h0M203.8 154.3h0M213.0 155.3h0M229.4 156.9h0M178.8 154.4h0M229.0 160.8h0M164.6 161.9h0M176.6 166.8h0M175.8 170.5h0M175.6 173.2h0M181.9 173.8h0M161.8 178.3h0M174.5 179.6h0M186.6 180.7h0M168.1 182.3h0M174.4 182.7h0M167.1 185.4h0M163.9 188.3h0M167.1 187.9h0M175.9 189.3h0M159.6 191.0h0M169.5 191.7h0M165.8 194.4h0M158.7 196.6h0M168.0 198.3h0M174.3 199.1h0M173.8 201.8h0M163.9 204.4h0M167.2 204.0h0M170.6 204.5h0M173.6 205.2h0M176.5 205.6h0M164.1 207.4h0M175.9 208.8h0M186.2 210.0h0M157.2 209.8h0M170.0 211.4h0M156.6 213.1h0" stroke="#0030ff"/><path d="M194.7 76.8h0M218.2 95.4h0M214.9 98.1h0M233.3 100.4h0M213.8 100.8h0M204.0 106.4h0M207.8 106.3h0M172.9 105.8h0M228.4 112.7h0M187.7 110.9h0M222.6 115.2h0M180.7 119.3h0M183.3 120.0h0M218.4 123.5h0M233.3 125.8h0M233.2 128.9h0M233.3 128.7h0M226.0 130.8h0M200.6 134.5h0M227.9 140.7h0M193.9 139.7h0M201.9 144.9h0M188.9 146.1h0M188.3 149.7h0M197.3 153.7h0M196.9 156.4h0M233.3 161.1h0M181.1 157.6h0M184.1 158.7h0M193.8 159.6h0M167.7 159.9h0M171.1 159.6h0M173.4 163.4h0M164.4 165.8h0M178.5 173.6h0M174.8 176.3h0M178.1 176.9h0M181.6 177.6h0M184.3 177.5h0M177.4 180.1h0M183.9 180.6h0M176.6 186.0h0M183.1 186.8h0M179.4 190.0h0M182.1 190.5h0M175.3 195.8h0M160.6 210.4h0M181.8 212.9h0" stroke="#0040ff"/><path d="M221.1 95.0h0M230.8 97.1h0M216.7 104.3h0M229.3 105.6h0M182.0 103.2h0M185.2 106.7h0M200.3 109.2h0M204.0 109.6h0M210.2 110.0h0M172.4 108.6h0M200.0 112.1h0M233.3 116.0h0M172.2 111.7h0M187.8 114.0h0M202.7 115.4h0M222.1 117.7h0M221.2 124.5h0M223.7 127.4h0M230.4 128.6h0M216.8 133.6h0M206.7 135.6h0M180.5 138.8h0M183.8 138.7h0M190.5 139.4h0M202.6 141.5h0M218.7 143.1h0M183.2 142.5h0M167.5 143.8h0M198.4 147.3h0M208.3 148.6h0M207.3 151.0h0M169.4 150.1h0M172.5 153.8h0M180.7 180.8h0M177.5 182.9h0M180.1 183.7h0M166.5 191.0h0" stroke="#0050ff"/><path d="M227.8 95.9h0M229.9 102.6h0M207.2 109.3h0M209.8 113.0h0M231.4 115.9h0M177.8 112.9h0M184.5 113.0h0M178.1 115.6h0M221.4 120.6h0M233.3 122.2h0M226.6 128.4h0M194.1 136.9h0M209.3 142.2h0M177.2 144.6h0M198.5 150.2h0M181.9 152.0h0M195.1 152.7h0M187.0 158.7h0M190.1 158.7h0M183.1 183.7h0M179.7 186.3h0M182.9 209.0h0M162.9 210.2h0" stroke="#0060ff"/><path d="M224.2 95.7h0M226.1 105.5h0M184.3 110.0h0M203.5 112.8h0M206.5 113.1h0M175.4 112.1h0M181.2 112.7h0M180.5 116.0h0M186.7 116.6h0M227.9 121.8h0M230.5 125.0h0M203.8 135.3h0M197.3 136.9h0M168.4 136.7h0M212.6 142.6h0M192.8 143.6h0M208.4 145.2h0M202.0 147.5h0M204.7 147.7h0M223.7 150.1h0M201.8 151.0h0M204.8 151.5h0M166.9 149.9h0M187.9 152.6h0M191.7 152.9h0M181.7 154.4h0M193.8 156.2h0M209.4 161.6h0M160.9 184.7h0M163.0 193.9h0" stroke="#0070ff"/><path d="M218.0 97.9h0M230.2 99.8h0M220.2 104.9h0M223.4 105.6h0M181.8 106.5h0M175.0 108.8h0M228.6 115.8h0M184.2 116.9h0M231.0 122.1h0M224.1 124.6h0M227.8 124.5h0M174.0 144.5h0M206.4 158.1h0M219.1 159.0h0M171.9 175.7h0M170.6 182.5h0M166.2 210.7h0" stroke="#0080ff"/><path d="M217.5 100.9h0M178.8 109.2h0M181.5 109.8h0M228.5 118.8h0M224.5 121.7h0M177.8 138.2h0M175.9 147.8h0M195.1 149.7h0M185.6 152.3h0M184.4 154.7h0M188.0 155.6h0M190.6 156.2h0M170.5 166.6h0" stroke="#008fff"/><path d="M176.3 102.8h0M186.7 138.9h0M167.5 166.0h0" stroke="#009fff"/><path d="M221.0 98.2h0M226.9 99.7h0M226.4 102.6h0M225.0 115.1h0M233.3 119.2h0M167.7 140.5h0M163.4 168.5h0" stroke="#00afff"/><path d="M223.9 99.1h0M220.0 101.6h0M223.2 102.0h0M179.4 103.2h0M176.1 106.0h0M213.6 110.8h0M177.2 141.5h0M170.9 143.4h0" stroke="#00bfff"/><path d="M179.1 106.5h0M171.4 137.6h0M179.7 145.3h0" stroke="#00cfff"/><path d="M175.1 138.4h0M174.2 140.6h0" stroke="#00dfff"/><path d="M196.9 140.1h0M170.7 141.0h0M171.2 157.1h0M167.2 162.7h0" stroke="#00efff"/><path d="M216.9 108.1h0" stroke="#20ffdf"/><path d="M180.4 142.0h0" stroke="#30ffcf"/><path d="M170.7 162.9h0" stroke="#40ffbf"/><path d="M165.0 156.3h0" stroke="#8fff70"/><path d="M216.8 110.4h0M168.3 156.9h0" stroke="#afff50"/><path d="M224.9 117.9h0" stroke="#dfff20"/><path d="M165.6 152.8h0" stroke="#ffef00"/><path d="M186.6 145.5h0" stroke="#ffbf00"/><path d="M231.5 118.7h0" stroke="#ffaf00"/><path d="M168.6 153.7h0" stroke="#ff9f00"/><path d="M183.4 145.5h0" stroke="#ff8f00"/><path d="M186.5 142.7h0" stroke="#ff8000"/></g>
</g>
<g transform="translate(196.20,96.60) scale(1.0000,1.0000)"><use href="#map"/></g>
<rect x="441.6" y="95.4" width="22.9" height="215.3" fill="url(#jet)" stroke="#1a1a1a" stroke-width="0.9"/>
<path d="M464.5 203.3h-2.4" stroke="#1a1a1a" stroke-width="0.9"/>
<text class="b" x="473.0" y="102.8" font-size="21.2">100</text>
<text class="b" x="473.0" y="209.9" font-size="21.2">50</text>
<text class="b" x="473.0" y="317.3" font-size="21.2">0</text>
<text class="b" x="240.4" y="76.7" font-size="12.3" text-anchor="end">100</text>
<circle class="d" cx="244.7" cy="63.8" r="1.4"/>
<text class="b" x="252.9" y="76.7" font-size="12.3">W</text>
<text class="b" x="301.1" y="76.7" font-size="12.3" text-anchor="end">90</text>
<circle class="d" cx="305.4" cy="63.8" r="1.4"/>
<text class="b" x="313.6" y="76.7" font-size="12.3">W</text>
<text class="b" x="365.5" y="76.7" font-size="12.3" text-anchor="end">80</text>
<circle class="d" cx="369.8" cy="63.8" r="1.4"/>
<text class="b" x="378.0" y="76.7" font-size="12.3">W</text>
<text class="b" x="427.9" y="76.7" font-size="12.3" text-anchor="end">70</text>
<circle class="d" cx="432.2" cy="63.8" r="1.4"/>
<text class="b" x="440.4" y="76.7" font-size="12.3">W</text>
<text class="b" x="163.8" y="112.7" font-size="12.3" text-anchor="end">48</text>
<circle class="d" cx="167.9" cy="99.9" r="1.45"/>
<text class="b" x="175.2" y="112.7" font-size="12.3">N</text>
<text class="b" x="163.8" y="130.6" font-size="12.3" text-anchor="end">46</text>
<circle class="d" cx="167.9" cy="117.8" r="1.45"/>
<text class="b" x="175.2" y="130.6" font-size="12.3">N</text>
<text class="b" x="163.8" y="147.7" font-size="12.3" text-anchor="end">44</text>
<circle class="d" cx="167.9" cy="134.9" r="1.45"/>
<text class="b" x="175.2" y="147.7" font-size="12.3">N</text>
<text class="b" x="163.8" y="166.6" font-size="12.3" text-anchor="end">42</text>
<circle class="d" cx="167.9" cy="153.8" r="1.45"/>
<text class="b" x="175.2" y="166.6" font-size="12.3">N</text>
<text class="b" x="163.8" y="182.7" font-size="12.3" text-anchor="end">40</text>
<circle class="d" cx="167.9" cy="169.9" r="1.45"/>
<text class="b" x="175.2" y="182.7" font-size="12.3">N</text>
<text class="b" x="163.8" y="197.5" font-size="12.3" text-anchor="end">38</text>
<circle class="d" cx="167.9" cy="184.7" r="1.45"/>
<text class="b" x="175.2" y="197.5" font-size="12.3">N</text>
<text class="b" x="163.8" y="214.7" font-size="12.3" text-anchor="end">36</text>
<circle class="d" cx="167.9" cy="201.9" r="1.45"/>
<text class="b" x="175.2" y="214.7" font-size="12.3">N</text>
<text class="b" x="163.8" y="228.4" font-size="12.3" text-anchor="end">34</text>
<circle class="d" cx="167.9" cy="215.6" r="1.45"/>
<text class="b" x="175.2" y="228.4" font-size="12.3">N</text>
<text class="b" x="163.8" y="245.8" font-size="12.3" text-anchor="end">32</text>
<circle class="d" cx="167.9" cy="233.0" r="1.45"/>
<text class="b" x="175.2" y="245.8" font-size="12.3">N</text>
<text class="b" x="163.8" y="259.6" font-size="12.3" text-anchor="end">30</text>
<circle class="d" cx="167.9" cy="246.8" r="1.45"/>
<text class="b" x="175.2" y="259.6" font-size="12.3">N</text>
<text class="b" x="163.8" y="272.3" font-size="12.3" text-anchor="end">28</text>
<circle class="d" cx="167.9" cy="259.5" r="1.45"/>
<text class="b" x="175.2" y="272.3" font-size="12.3">N</text>
<text class="b" x="163.8" y="287.3" font-size="12.3" text-anchor="end">26</text>
<circle class="d" cx="167.9" cy="274.5" r="1.45"/>
<text class="b" x="175.2" y="287.3" font-size="12.3">N</text>
<text class="b" x="163.8" y="301.4" font-size="12.3" text-anchor="end">24</text>
<circle class="d" cx="167.9" cy="288.6" r="1.45"/>
<text class="b" x="175.2" y="301.4" font-size="12.3">N</text>
<text class="b" x="163.8" y="314.5" font-size="12.3" text-anchor="end">22</text>
<circle class="d" cx="167.9" cy="301.7" r="1.45"/>
<text class="b" x="175.2" y="314.5" font-size="12.3">N</text>
<text class="b" x="139.2" y="340.9" font-size="23.1">SAT 150 hPa RH (Percent)</text>
<g transform="translate(617.20,96.60) scale(1.0000,1.0000)"><rect x="0" y="0" width="233.25" height="212.50" fill="#fff" stroke="#111" stroke-width="1"/></g>
<g transform="translate(617.20,96.60) scale(1.0000)">
<g fill="none" stroke-width="5.8" stroke-linecap="round"><path d="M210.1 14.2h0M225.5 15.9h0M222.3 19.3h0M228.1 19.5h0M231.6 20.3h0M222.0 22.2h0M228.0 23.0h0M212.1 24.1h0M215.5 27.6h0" stroke="#0000af"/><path d="M206.8 10.7h0M222.8 13.0h0M232.7 14.0h0M207.5 14.5h0M216.4 14.8h0M219.9 15.6h0M233.3 17.4h0M203.3 16.8h0M206.6 17.2h0M209.9 17.4h0M219.1 19.1h0M225.9 19.1h0M233.3 20.6h0M209.2 20.4h0M212.7 21.1h0M215.4 21.5h0M219.1 22.1h0M231.0 23.6h0M206.5 23.8h0M209.6 24.4h0M215.5 25.2h0M218.5 25.5h0M222.1 25.4h0M225.0 26.3h0M211.9 27.1h0M218.1 28.5h0M227.5 29.8h0M222.7 51.5h0" stroke="#0000bf"/><path d="M195.0 9.4h0M200.8 10.6h0M203.8 10.3h0M210.4 11.7h0M213.5 11.3h0M219.4 12.6h0M225.9 13.4h0M229.2 13.7h0M233.3 13.8h0M194.3 12.5h0M198.0 12.6h0M204.1 14.0h0M212.9 14.9h0M222.9 15.7h0M228.7 16.5h0M232.0 17.0h0M197.6 16.0h0M200.1 16.5h0M212.5 17.6h0M215.7 18.4h0M197.1 19.0h0M200.6 19.6h0M202.8 20.2h0M225.0 22.4h0M233.3 23.7h0M202.4 23.3h0M233.3 26.7h0M221.4 28.4h0M224.9 28.9h0M231.1 29.9h0M224.4 32.0h0M230.7 32.9h0M233.3 33.1h0M223.7 38.0h0M232.4 42.5h0M222.5 45.0h0M226.3 44.8h0M223.1 48.0h0M216.1 50.6h0M225.3 54.5h0M228.1 54.9h0M231.5 55.4h0M215.5 56.5h0M224.7 63.5h0M202.8 180.1h0M193.6 181.9h0M217.1 210.0h0" stroke="#0000cf"/><path d="M192.2 8.8h0M197.9 9.9h0M216.5 12.6h0M188.7 12.0h0M191.6 12.6h0M201.0 13.0h0M190.8 15.7h0M190.3 19.0h0M194.1 19.4h0M206.4 20.4h0M228.3 26.0h0M231.4 26.2h0M233.3 29.8h0M180.7 27.0h0M221.5 32.1h0M227.7 32.8h0M230.0 35.9h0M233.0 36.6h0M233.3 36.1h0M220.0 41.3h0M222.8 41.2h0M226.6 42.3h0M229.3 41.8h0M233.3 42.7h0M198.1 41.7h0M210.4 43.2h0M213.5 43.6h0M229.4 45.2h0M232.7 45.5h0M233.3 45.7h0M216.3 46.8h0M225.6 48.3h0M219.4 51.0h0M225.6 51.5h0M232.0 52.2h0M219.4 53.5h0M222.3 54.6h0M231.5 58.7h0M218.0 60.1h0M214.8 62.6h0M221.5 63.3h0M233.3 71.6h0M218.5 88.5h0M184.6 106.9h0M186.7 122.8h0M188.0 175.0h0M187.3 178.3h0M190.2 178.1h0M193.7 178.4h0M189.8 181.4h0M196.5 182.4h0M217.9 207.2h0M205.0 208.6h0M198.6 211.6h0M205.0 212.0h0M207.9 212.7h0" stroke="#0000df"/><path d="M182.0 8.5h0M185.1 8.6h0M181.6 11.6h0M182.1 14.0h0M184.7 14.3h0M194.0 15.3h0M209.1 26.9h0M183.9 27.1h0M217.8 30.9h0M179.9 29.9h0M183.1 30.4h0M186.0 31.0h0M189.3 30.8h0M227.5 35.3h0M192.5 35.2h0M198.9 35.5h0M208.3 36.5h0M217.0 37.7h0M220.7 38.4h0M226.6 38.3h0M229.7 39.6h0M232.8 39.7h0M194.7 38.7h0M197.8 38.7h0M201.5 39.4h0M204.4 39.8h0M216.9 41.1h0M195.2 41.3h0M207.2 42.9h0M219.5 44.7h0M213.7 47.1h0M219.2 47.7h0M229.1 48.4h0M232.2 48.7h0M233.3 48.8h0M228.6 51.5h0M233.3 52.1h0M215.8 53.8h0M233.3 55.3h0M178.4 51.9h0M227.2 61.0h0M230.4 61.6h0M233.3 61.9h0M227.7 64.8h0M233.3 65.1h0M186.5 63.1h0M198.8 64.1h0M217.1 73.0h0M204.0 77.4h0M216.6 78.6h0M194.7 79.4h0M175.2 80.5h0M177.9 80.8h0M181.7 81.7h0M199.7 83.2h0M225.1 86.4h0M174.7 83.8h0M231.5 90.0h0M233.3 90.6h0M203.0 89.9h0M208.4 90.9h0M217.9 91.9h0M227.4 92.6h0M231.0 93.3h0M217.5 95.0h0M233.3 96.9h0M192.4 95.5h0M214.2 97.6h0M233.4 100.1h0M233.3 100.1h0M198.6 99.4h0M201.6 99.7h0M213.7 101.2h0M186.1 100.7h0M213.9 103.9h0M226.4 106.1h0M182.6 103.8h0M222.9 108.1h0M186.1 126.2h0M198.1 153.1h0M200.6 154.2h0M193.8 156.6h0M196.8 156.7h0M206.2 158.2h0M215.6 158.8h0M202.8 160.3h0M205.7 160.8h0M195.3 166.3h0M188.6 171.2h0M191.4 171.8h0M191.1 175.6h0M193.9 175.6h0M197.0 178.6h0M187.1 180.8h0M189.6 184.5h0M188.7 187.3h0M192.4 188.0h0M195.8 188.9h0M179.2 190.1h0M172.3 195.4h0M211.5 206.8h0M195.3 208.1h0M198.3 208.2h0M208.2 209.1h0M211.7 209.4h0M214.7 210.4h0M220.7 211.1h0M223.8 211.0h0M226.3 211.0h0M229.9 211.7h0M192.1 210.8h0M194.7 211.1h0M201.0 211.2h0M210.4 212.4h0" stroke="#0000ef"/><path d="M188.1 8.5h0M185.1 11.2h0M188.1 15.5h0M187.3 18.6h0M187.0 27.9h0M192.4 31.4h0M195.7 32.2h0M220.8 34.9h0M201.5 36.0h0M204.8 35.8h0M211.5 37.0h0M214.6 37.1h0M233.3 39.6h0M192.1 38.3h0M207.8 39.7h0M210.4 39.8h0M213.8 40.3h0M216.9 43.6h0M181.6 49.4h0M181.1 52.2h0M233.3 58.7h0M214.7 59.3h0M221.5 60.7h0M224.5 61.1h0M211.3 62.2h0M218.0 63.4h0M230.3 65.0h0M183.0 62.7h0M189.2 63.4h0M192.3 63.1h0M217.2 66.4h0M220.9 66.9h0M223.8 67.4h0M227.5 67.7h0M233.4 68.3h0M233.3 68.5h0M201.5 67.8h0M207.6 68.3h0M217.7 69.5h0M220.7 69.6h0M223.7 70.7h0M227.0 71.1h0M230.0 70.8h0M232.5 71.2h0M207.6 72.1h0M233.3 74.9h0M198.0 73.3h0M207.4 75.1h0M216.5 76.2h0M233.3 77.7h0M197.9 77.0h0M200.4 76.7h0M190.6 79.1h0M200.6 80.1h0M204.0 80.6h0M206.5 80.9h0M233.3 83.9h0M184.1 81.1h0M187.4 81.5h0M191.2 81.9h0M193.7 83.0h0M197.0 82.8h0M206.3 84.2h0M227.8 86.7h0M181.1 84.4h0M186.8 85.2h0M190.1 85.5h0M193.3 85.4h0M196.7 86.0h0M199.8 86.9h0M202.9 87.3h0M205.9 87.0h0M209.1 87.5h0M212.5 87.7h0M221.3 88.8h0M186.9 88.6h0M190.0 88.6h0M195.9 89.5h0M199.9 89.4h0M212.4 91.3h0M214.8 91.7h0M233.3 93.6h0M189.7 91.6h0M202.8 92.9h0M208.8 93.6h0M211.3 94.1h0M215.0 94.4h0M195.4 96.1h0M201.7 95.9h0M210.9 97.9h0M189.3 97.9h0M192.7 98.1h0M195.6 99.2h0M204.5 100.1h0M207.6 100.0h0M232.9 103.1h0M233.3 103.3h0M182.5 100.9h0M188.5 101.6h0M195.0 101.7h0M201.6 102.3h0M205.0 103.1h0M207.4 103.5h0M210.3 104.1h0M185.9 104.2h0M188.4 104.5h0M191.3 104.7h0M198.1 105.2h0M201.1 105.7h0M207.5 106.7h0M213.9 107.2h0M188.2 107.7h0M191.2 107.8h0M194.3 108.3h0M197.5 111.6h0M177.5 119.0h0M186.3 120.4h0M170.2 121.5h0M183.4 123.2h0M179.8 125.4h0M179.2 129.3h0M182.4 129.0h0M169.5 131.3h0M175.8 131.8h0M194.3 153.6h0M203.5 154.2h0M206.9 154.8h0M210.2 154.9h0M191.2 155.9h0M203.0 157.4h0M193.2 159.0h0M196.3 159.4h0M200.1 160.5h0M209.5 161.7h0M193.3 162.8h0M195.9 162.7h0M199.1 162.8h0M211.5 164.7h0M164.8 162.0h0M167.2 162.7h0M198.6 166.8h0M163.5 165.2h0M188.9 168.6h0M192.2 168.5h0M194.8 169.0h0M201.4 169.5h0M208.0 170.5h0M169.4 169.2h0M184.9 170.9h0M194.3 172.6h0M206.9 173.6h0M169.3 172.8h0M184.5 174.3h0M203.5 176.8h0M184.6 177.8h0M181.1 180.1h0M199.7 182.8h0M205.8 183.1h0M183.1 184.1h0M187.0 183.8h0M192.7 185.1h0M202.0 186.5h0M205.7 186.6h0M160.5 184.7h0M170.1 185.5h0M186.0 187.3h0M198.4 188.5h0M188.1 190.8h0M191.6 191.4h0M159.8 190.7h0M190.8 194.9h0M168.8 194.8h0M167.9 198.3h0M171.9 198.4h0M193.8 201.3h0M206.3 203.0h0M202.3 205.3h0M205.8 205.2h0M214.6 207.1h0M223.9 207.5h0M227.2 208.0h0M230.9 208.6h0M233.3 209.3h0M189.8 207.5h0M192.8 207.2h0M201.4 208.4h0M189.3 210.4h0" stroke="#0000ff"/><path d="M200.1 23.0h0M198.5 32.0h0M224.3 35.8h0M195.4 34.9h0M192.0 40.8h0M191.5 43.6h0M178.0 48.7h0M212.7 53.0h0M228.0 58.2h0M229.7 68.0h0M185.9 66.2h0M210.7 68.6h0M214.7 69.6h0M198.4 70.3h0M211.0 72.2h0M232.7 74.7h0M207.0 77.9h0M197.5 79.8h0M203.1 84.1h0M209.3 84.4h0M221.9 86.0h0M233.3 87.2h0M177.5 83.5h0M184.5 84.2h0M215.7 88.2h0M180.6 87.0h0M193.2 88.6h0M221.6 92.2h0M224.3 92.5h0M193.2 92.1h0M196.1 92.7h0M199.1 92.9h0M199.1 96.4h0M208.3 97.3h0M210.7 100.5h0M198.3 102.4h0M233.3 106.5h0M194.4 105.6h0M210.1 107.0h0M233.3 109.8h0M182.2 106.8h0M197.6 108.5h0M201.2 109.1h0M204.0 109.7h0M203.2 112.0h0M180.0 119.8h0M183.2 119.5h0M173.6 121.6h0M177.0 121.7h0M180.3 122.5h0M182.4 126.5h0M171.8 133.9h0M168.0 136.9h0M171.6 137.0h0M205.7 141.4h0M213.7 152.2h0M175.7 150.5h0M213.1 155.2h0M172.4 153.3h0M175.5 153.5h0M200.0 156.8h0M210.0 158.5h0M212.8 158.8h0M190.5 159.5h0M205.5 163.8h0M208.6 163.9h0M192.4 165.9h0M201.5 167.1h0M170.0 166.2h0M173.4 167.1h0M211.3 171.0h0M198.3 172.9h0M204.0 173.9h0M182.1 174.4h0M206.3 177.4h0M169.1 175.4h0M180.8 177.0h0M206.3 180.5h0M167.9 178.5h0M184.3 180.9h0M170.4 181.9h0M176.7 183.0h0M180.6 183.5h0M202.0 189.6h0M205.0 189.9h0M160.5 187.5h0M176.4 189.8h0M185.5 190.3h0M200.7 192.8h0M169.0 191.8h0M178.7 193.3h0M182.0 193.4h0M184.9 193.7h0M188.4 193.7h0M198.0 195.3h0M201.1 195.3h0M204.2 195.6h0M165.4 194.5h0M190.7 197.6h0M199.8 198.6h0M203.7 199.2h0M209.9 200.0h0M165.7 198.2h0M208.6 203.3h0M231.0 205.4h0M164.7 200.6h0M199.2 204.8h0M208.8 206.2h0M221.4 207.9h0M232.6 211.7h0M233.3 212.3h0M186.0 209.9h0" stroke="#0010ff"/><path d="M181.2 17.9h0M196.4 22.5h0M205.5 26.3h0M215.2 31.1h0M218.0 34.7h0M189.6 34.7h0M201.2 41.9h0M184.2 49.9h0M184.3 52.4h0M212.5 56.2h0M214.3 72.4h0M213.1 84.5h0M225.3 89.1h0M184.0 88.1h0M205.7 90.0h0M205.4 93.7h0M189.5 94.7h0M204.9 96.7h0M173.1 99.8h0M192.3 102.0h0M226.4 108.6h0M229.2 108.8h0M207.2 109.5h0M210.4 110.2h0M194.5 110.9h0M215.6 117.4h0M176.5 128.5h0M169.0 133.9h0M212.3 162.0h0M202.9 163.9h0M204.8 167.2h0M208.4 167.4h0M211.2 167.7h0M214.4 168.1h0M166.8 166.2h0M198.8 169.3h0M163.8 168.7h0M166.1 169.1h0M210.5 173.9h0M165.7 172.5h0M209.9 180.2h0M208.6 187.2h0M179.3 186.4h0M182.8 186.8h0M211.2 190.7h0M167.2 188.4h0M173.0 188.7h0M182.2 190.4h0M198.2 191.7h0M204.7 192.5h0M207.1 193.4h0M166.3 191.5h0M172.8 192.6h0M175.4 192.6h0M194.8 194.6h0M233.3 199.1h0M175.6 195.7h0M212.4 200.1h0M202.6 202.1h0M214.9 204.2h0M167.9 201.0h0M170.6 201.3h0M193.3 203.7h0M196.4 204.2h0M186.6 207.0h0" stroke="#0020ff"/><path d="M193.8 21.8h0M181.2 24.1h0M186.5 34.0h0M204.3 42.7h0M210.6 46.6h0M212.5 49.7h0M208.5 61.7h0M208.1 65.5h0M211.2 66.1h0M189.5 66.3h0M185.1 72.2h0M201.0 73.8h0M204.4 74.6h0M210.4 75.3h0M213.2 75.3h0M204.6 106.4h0M216.7 110.6h0M190.8 110.9h0M189.4 126.7h0M196.5 140.2h0M216.0 155.3h0M214.7 165.0h0M217.5 168.4h0M220.2 169.4h0M230.6 169.8h0M233.3 170.8h0M214.4 171.3h0M182.4 170.4h0M233.3 177.0h0M209.5 177.5h0M212.6 177.3h0M231.6 179.8h0M211.8 183.9h0M168.0 181.7h0M233.3 190.0h0M167.6 185.5h0M176.7 186.0h0M214.1 190.5h0M233.2 193.3h0M170.3 189.0h0M210.3 193.7h0M162.9 191.4h0M209.9 196.2h0M216.3 197.1h0M232.1 199.6h0M193.5 198.0h0M233.3 202.6h0M199.5 202.2h0M212.3 203.6h0M224.9 204.9h0M171.0 204.6h0M176.8 208.4h0" stroke="#0030ff"/><path d="M184.0 18.2h0M189.7 28.2h0M193.2 28.9h0M201.8 32.3h0M207.8 33.5h0M211.6 34.1h0M194.8 44.3h0M178.1 45.8h0M184.7 46.7h0M187.7 46.9h0M218.5 56.9h0M187.4 56.2h0M189.1 69.6h0M194.5 73.1h0M232.4 77.6h0M227.4 96.1h0M209.5 113.1h0M216.5 113.7h0M189.2 123.5h0M207.9 126.3h0M219.1 140.0h0M199.5 140.6h0M211.8 145.1h0M215.2 162.4h0M227.0 169.8h0M232.8 170.4h0M220.5 172.1h0M226.9 173.2h0M229.4 173.4h0M233.2 173.6h0M233.3 173.7h0M216.3 175.4h0M220.0 175.5h0M212.9 180.5h0M209.3 183.4h0M211.4 187.3h0M217.3 191.4h0M213.3 194.1h0M232.0 196.2h0M233.3 196.2h0M213.6 197.0h0M184.9 196.3h0M187.5 196.9h0M227.8 202.0h0M231.5 202.1h0M190.1 201.1h0M218.9 203.8h0M221.6 204.4h0M228.1 204.7h0M233.3 205.7h0M174.0 202.4h0M190.2 204.2h0M173.9 205.4h0" stroke="#0040ff"/><path d="M184.0 20.9h0M190.7 21.7h0M211.3 30.7h0M205.4 32.6h0M214.6 34.0h0M180.2 33.3h0M189.3 37.4h0M188.5 43.8h0M201.2 44.8h0M204.4 45.2h0M180.5 61.7h0M204.7 67.7h0M204.9 70.8h0M188.1 72.3h0M219.8 76.1h0M206.5 113.1h0M219.4 114.2h0M171.3 118.2h0M185.6 129.3h0M185.0 136.3h0M183.8 138.7h0M193.0 140.5h0M187.7 155.5h0M174.3 160.2h0M233.3 167.3h0M223.8 169.1h0M225.7 176.0h0M232.3 176.9h0M216.1 178.1h0M233.3 180.0h0M215.2 181.0h0M233.3 183.1h0M215.0 183.9h0M218.5 184.7h0M224.8 186.0h0M233.3 186.8h0M214.6 187.2h0M220.8 188.3h0M233.3 192.8h0M217.2 193.9h0M225.5 198.1h0M228.9 198.9h0M178.6 196.3h0M181.0 196.6h0M218.7 200.6h0M225.4 201.7h0M183.0 206.5h0M167.4 208.0h0" stroke="#0050ff"/><path d="M181.2 20.1h0M183.7 23.9h0M183.0 33.5h0M198.0 44.8h0M187.1 53.1h0M195.5 64.2h0M185.8 68.5h0M229.1 73.7h0M191.5 73.3h0M233.3 80.8h0M177.7 87.5h0M230.2 99.3h0M229.8 102.6h0M203.3 141.3h0M191.6 152.8h0M174.0 163.0h0M176.6 167.2h0M185.9 168.0h0M223.0 175.8h0M226.0 178.8h0M231.2 182.8h0M227.7 186.0h0M218.1 187.5h0M224.2 188.3h0M230.4 189.7h0M223.2 191.5h0M226.3 191.7h0M229.6 192.3h0M223.2 194.7h0M158.9 199.9h0M161.7 200.9h0" stroke="#0060ff"/><path d="M202.7 26.7h0M209.0 30.7h0M207.0 46.0h0M181.9 45.9h0M191.2 47.2h0M187.7 49.8h0M177.0 61.9h0M192.3 69.3h0M186.5 98.2h0M224.7 121.0h0M173.0 130.7h0M187.2 136.5h0M233.3 145.0h0M198.4 150.5h0M217.2 153.0h0M218.4 165.8h0M227.3 166.7h0M230.2 166.9h0M228.1 183.2h0M221.0 185.1h0M195.7 185.3h0M174.7 198.7h0M178.2 199.4h0M186.8 200.7h0M183.8 203.3h0M187.0 203.0h0M177.0 205.2h0M180.2 205.8h0M173.4 207.9h0" stroke="#0070ff"/><path d="M186.9 21.8h0M196.5 29.0h0M209.7 52.6h0M209.2 56.0h0M224.5 58.1h0M211.8 59.0h0M192.2 66.1h0M187.6 78.7h0M231.3 84.4h0M218.8 85.9h0M186.4 91.4h0M219.3 108.1h0M232.4 109.6h0M176.0 125.4h0M232.4 135.4h0M175.4 135.1h0M209.5 141.7h0M233.3 148.0h0M207.1 151.3h0M211.2 151.4h0M189.5 162.0h0M221.5 165.6h0M222.8 178.8h0M171.7 176.0h0M200.4 179.7h0M218.6 181.6h0M161.8 181.4h0M164.5 181.5h0M159.3 194.0h0M206.2 199.8h0M215.9 200.6h0M180.7 199.6h0M177.7 202.9h0M180.2 202.3h0M179.5 209.1h0M182.6 209.7h0M175.7 212.2h0" stroke="#0080ff"/><path d="M187.1 24.8h0M196.5 25.5h0M199.4 26.0h0M198.8 29.2h0M202.5 29.1h0M205.4 30.2h0M188.6 40.4h0M178.4 42.9h0M209.6 49.7h0M190.2 53.6h0M214.9 66.1h0M209.4 81.2h0M220.7 95.7h0M216.6 104.6h0M174.2 118.4h0M190.2 120.4h0M188.6 129.6h0M203.3 137.6h0M187.2 139.4h0M190.2 140.1h0M208.6 145.5h0M195.6 150.3h0M219.3 159.3h0M187.3 158.3h0M224.9 166.7h0M189.3 165.2h0M204.4 170.7h0M222.0 181.8h0M225.2 182.5h0M171.0 179.0h0M207.4 189.9h0M207.1 196.0h0M197.1 198.6h0M184.5 200.2h0" stroke="#008fff"/><path d="M190.3 25.3h0M193.5 25.6h0M190.7 50.9h0M206.3 55.8h0M222.0 57.0h0M216.0 85.1h0M220.0 101.8h0M223.7 105.4h0M229.4 106.2h0M232.5 106.3h0M213.3 110.7h0M188.2 110.3h0M200.6 112.6h0M192.4 127.4h0M222.7 137.2h0M200.0 137.7h0M201.3 150.6h0M220.2 152.9h0M175.0 157.1h0M218.8 162.1h0M223.7 172.5h0M201.0 173.6h0M213.9 174.5h0M196.9 175.6h0M200.1 176.0h0M203.1 183.1h0M230.3 186.6h0M220.0 191.3h0M163.7 187.9h0M219.5 194.4h0M219.3 197.8h0M222.9 198.1h0M196.5 201.3h0M182.0 212.2h0" stroke="#009fff"/><path d="M179.1 36.5h0M185.6 43.6h0M202.4 61.7h0M201.8 64.1h0M176.2 64.2h0M232.2 80.4h0M231.3 87.1h0M228.4 89.9h0M224.7 96.1h0M223.7 98.6h0M220.4 104.7h0M222.2 111.9h0M178.1 109.9h0M201.7 128.1h0M214.7 146.1h0M217.5 146.7h0M221.4 146.7h0M176.7 147.7h0M178.9 151.1h0M219.7 156.1h0M168.9 153.0h0M183.1 167.8h0M216.9 172.3h0M229.4 176.8h0M228.6 180.0h0M162.2 174.7h0M199.1 186.1h0M227.2 188.6h0M229.4 195.7h0M221.9 201.6h0M170.1 208.3h0" stroke="#00afff"/><path d="M182.2 36.4h0M185.8 36.7h0M193.9 47.9h0M190.1 56.9h0M205.4 61.9h0M220.2 73.5h0M219.5 82.9h0M228.7 83.3h0M184.0 90.7h0M176.2 99.3h0M233.3 113.0h0M184.8 132.7h0M227.5 147.3h0M230.7 147.4h0M221.0 149.6h0M233.5 151.6h0M233.3 151.1h0M204.4 150.7h0M233.3 157.7h0M221.9 159.3h0M221.7 163.0h0M228.2 163.9h0M219.7 178.1h0M165.2 175.5h0M174.2 183.2h0M164.6 184.5h0M195.2 191.4h0M226.1 195.8h0M164.0 207.2h0M179.3 211.8h0" stroke="#00bfff"/><path d="M197.5 47.7h0M206.7 49.4h0M193.5 50.5h0M206.3 52.7h0M202.9 55.0h0M199.0 67.3h0M194.9 70.3h0M223.5 72.9h0M194.4 76.0h0M210.5 77.9h0M174.0 89.4h0M177.3 90.4h0M230.0 96.5h0M216.2 107.5h0M219.3 111.3h0M231.8 112.3h0M172.4 108.7h0M190.3 136.1h0M197.5 137.4h0M206.8 138.6h0M174.8 137.9h0M225.6 159.5h0M225.2 162.9h0M233.3 164.0h0M178.5 177.1h0M162.5 194.4h0M157.9 206.5h0M166.1 210.4h0" stroke="#00cfff"/><path d="M179.2 39.3h0M181.7 42.8h0M193.2 53.9h0M209.0 59.1h0M175.5 74.0h0M213.2 81.7h0M217.3 98.1h0M175.1 109.6h0M221.6 124.6h0M204.0 135.4h0M194.0 136.8h0M224.5 147.0h0M223.7 149.8h0M232.6 154.8h0M233.3 154.7h0M222.4 156.5h0M231.8 157.3h0M184.8 155.1h0M228.0 160.6h0M230.8 163.5h0M165.2 159.7h0M179.4 167.0h0M159.0 196.7h0" stroke="#00dfff"/><path d="M182.4 40.2h0M185.7 40.5h0M203.9 49.1h0M197.1 51.5h0M200.5 51.5h0M205.1 64.9h0M201.8 70.6h0M226.2 74.2h0M185.2 78.6h0M225.4 83.6h0M199.7 115.1h0M201.4 131.0h0M233.3 135.2h0M217.2 149.5h0M188.1 152.8h0M231.4 160.8h0M233.3 160.7h0M169.0 156.8h0M177.3 164.1h0M161.8 197.1h0" stroke="#00efff"/><path d="M200.7 48.6h0M203.5 51.5h0M200.3 55.2h0M180.7 55.3h0M174.7 86.6h0M180.5 90.6h0M179.2 106.7h0M195.2 127.4h0M195.0 131.0h0M197.5 131.0h0M203.9 131.9h0M191.7 133.4h0M201.1 134.2h0M226.4 153.6h0M229.4 153.9h0M182.4 151.9h0M225.9 156.5h0M168.3 160.0h0M179.7 164.5h0M172.5 169.8h0M170.0 210.7h0M172.9 211.7h0" stroke="#00ffff"/><path d="M197.0 54.5h0M193.3 56.9h0M186.7 59.6h0M199.2 61.2h0M191.7 76.4h0M194.7 133.9h0M231.3 144.3h0M183.1 141.8h0M192.6 143.3h0M226.7 150.2h0M229.8 150.5h0M192.4 150.1h0M223.6 153.1h0M228.8 157.1h0" stroke="#10ffef"/><path d="M223.1 77.0h0M229.4 77.6h0M178.2 78.1h0M186.3 95.0h0M232.7 132.4h0M233.3 132.0h0M233.3 141.8h0M180.9 138.2h0M205.5 144.4h0M176.4 144.3h0M162.7 171.5h0M177.6 179.6h0M156.3 212.4h0" stroke="#20ffdf"/><path d="M219.9 79.5h0M197.3 115.0h0M179.8 148.4h0M161.0 206.9h0" stroke="#30ffcf"/><path d="M189.4 60.2h0M182.6 71.9h0M217.7 101.7h0M181.4 109.7h0M178.2 112.3h0M169.9 124.1h0M198.0 127.8h0M190.1 142.7h0M192.8 146.2h0M195.2 146.6h0M186.4 161.5h0M173.6 186.3h0" stroke="#40ffbf"/><path d="M205.4 58.6h0M222.2 82.4h0M173.6 93.0h0M182.6 97.5h0M225.5 111.8h0M184.7 109.9h0M213.4 114.0h0M207.1 132.6h0M207.4 135.4h0M233.3 138.3h0M180.1 145.2h0M186.2 164.9h0M172.7 173.0h0M164.2 203.8h0" stroke="#50ffaf"/><path d="M212.5 142.2h0M185.0 151.8h0M165.2 156.5h0M177.6 160.2h0M176.0 169.8h0M178.6 173.2h0" stroke="#60ff9f"/><path d="M196.8 57.5h0M182.1 78.1h0M226.9 99.7h0M174.6 111.8h0M192.6 123.8h0M186.3 142.3h0M188.8 145.7h0M204.9 147.8h0M165.5 153.3h0M178.7 170.6h0M156.9 209.5h0M160.3 210.3h0M163.3 210.6h0" stroke="#70ff8f"/><path d="M196.0 60.5h0M180.0 64.7h0M226.4 77.3h0M173.8 95.8h0M173.4 128.6h0M227.6 144.2h0M201.7 147.9h0M207.7 147.9h0M211.0 148.4h0M214.1 148.6h0M180.2 160.8h0M183.5 161.1h0M183.2 164.6h0M175.3 172.9h0" stroke="#80ff80"/><path d="M199.7 58.0h0M202.6 58.4h0M182.6 65.8h0M226.2 103.0h0M229.2 112.7h0M222.5 115.1h0M218.4 123.7h0M182.2 148.8h0M158.5 203.7h0" stroke="#8fff70"/><path d="M192.5 59.9h0M176.9 96.8h0M180.2 96.8h0M172.2 111.8h0M173.4 125.4h0M204.4 128.5h0M231.9 141.5h0M183.1 145.1h0M189.1 148.8h0M184.3 158.2h0" stroke="#9fff60"/><path d="M178.1 55.4h0M195.9 67.3h0M183.7 93.7h0M220.4 98.8h0M193.2 121.2h0M186.5 145.7h0M199.0 146.8h0M186.1 148.8h0" stroke="#afff50"/><path d="M184.9 75.2h0M222.7 79.5h0M226.1 79.7h0M229.0 80.8h0M177.4 93.3h0M179.9 93.7h0M223.2 102.2h0M196.1 118.1h0M165.3 178.7h0" stroke="#bfff40"/><path d="M183.5 56.3h0M187.8 75.8h0M213.0 78.1h0M193.1 117.3h0M207.3 129.4h0M179.1 132.0h0M178.2 157.5h0M174.3 179.8h0" stroke="#cfff30"/><path d="M181.7 74.8h0M194.2 114.4h0M231.9 137.9h0M209.8 139.2h0M181.2 157.9h0" stroke="#dfff20"/><path d="M178.9 74.9h0M233.3 115.8h0M224.2 143.9h0M171.7 156.6h0" stroke="#efff10"/><path d="M177.4 58.3h0M202.7 115.9h0" stroke="#ffff00"/><path d="M180.3 58.6h0M181.2 112.6h0M161.0 203.4h0" stroke="#ffef00"/><path d="M214.8 142.2h0M181.2 154.8h0" stroke="#ffdf00"/><path d="M224.0 128.2h0M220.0 130.7h0M229.9 131.6h0M161.9 178.0h0" stroke="#ffcf00"/><path d="M179.1 102.8h0M195.6 124.4h0M213.2 136.5h0M171.2 160.0h0M170.5 162.6h0M175.0 176.5h0" stroke="#ffbf00"/><path d="M175.2 77.5h0M179.5 100.1h0M226.6 127.8h0M210.0 132.7h0M209.6 135.9h0M221.9 143.5h0" stroke="#ffaf00"/><path d="M218.7 117.2h0M233.5 129.0h0M218.9 143.5h0M167.6 204.7h0" stroke="#ff9f00"/><path d="M221.0 127.8h0" stroke="#ff8f00"/><path d="M169.5 127.2h0M229.7 134.9h0M181.5 132.3h0" stroke="#ff8000"/><path d="M225.6 115.1h0M206.0 116.1h0M233.3 128.7h0" stroke="#ff7000"/><path d="M216.0 81.9h0M221.5 117.5h0M228.2 141.5h0M180.1 141.9h0" stroke="#ff6000"/><path d="M190.7 116.9h0" stroke="#ff5000"/><path d="M183.2 58.8h0M209.7 116.2h0M211.0 129.5h0M178.8 154.1h0" stroke="#ff3000"/><path d="M176.5 71.1h0M196.4 121.7h0" stroke="#ff2000"/><path d="M179.4 71.4h0M231.4 116.1h0M218.0 127.1h0" stroke="#ff1000"/><path d="M190.8 114.2h0M199.7 118.6h0" stroke="#ff0000"/><path d="M215.1 123.3h0" stroke="#ef0000"/><path d="M182.2 69.0h0M173.4 102.1h0M223.9 130.5h0M226.3 131.1h0M195.6 143.5h0" stroke="#df0000"/><path d="M176.4 68.0h0M228.7 115.7h0M212.7 117.0h0M214.3 129.9h0M191.4 130.2h0" stroke="#cf0000"/><path d="M179.8 68.0h0M175.9 102.4h0" stroke="#bf0000"/><path d="M233.3 119.2h0M186.9 117.1h0M213.0 138.7h0M225.1 141.0h0" stroke="#af0000"/><path d="M230.8 119.1h0M174.9 115.2h0M183.9 116.4h0M202.4 119.2h0M227.5 121.7h0M205.9 122.4h0M209.0 122.4h0M233.3 125.8h0M199.0 124.3h0M210.8 125.8h0M222.5 134.1h0M177.9 135.5h0M177.4 138.4h0M177.2 141.4h0" stroke="#9f0000"/><path d="M172.1 105.3h0M184.6 113.8h0M187.0 113.9h0M227.8 119.1h0M171.8 115.2h0M208.9 119.6h0M212.4 120.3h0M215.3 119.9h0M218.2 120.9h0M233.3 122.3h0M199.3 121.7h0M201.8 121.7h0M227.2 124.7h0M214.6 126.3h0M217.0 130.5h0M219.4 133.7h0M225.8 134.4h0M187.8 132.7h0M216.0 136.0h0M219.0 136.9h0M216.0 139.7h0" stroke="#8f0000"/><path d="M175.4 105.8h0M225.3 118.3h0M177.7 116.1h0M180.7 116.4h0M205.6 119.5h0M221.8 121.4h0M230.5 122.0h0M212.0 123.4h0M223.8 124.1h0M230.4 125.0h0M201.8 124.9h0M205.0 125.3h0M229.6 128.0h0M213.7 132.7h0M216.9 133.1h0M197.4 134.3h0M226.1 138.0h0M228.5 137.9h0M181.3 135.9h0M222.5 139.9h0M199.3 144.1h0M202.7 144.3h0" stroke="#800000"/></g>
</g>
<g transform="translate(617.20,96.60) scale(1.0000,1.0000)"><use href="#map"/></g>
<rect x="862.6" y="95.4" width="22.9" height="215.3" fill="url(#jet)" stroke="#1a1a1a" stroke-width="0.9"/>
<path d="M885.5 203.3h-2.4" stroke="#1a1a1a" stroke-width="0.9"/>
<text class="b" x="894.0" y="102.8" font-size="21.2">100</text>
<text class="b" x="894.0" y="209.9" font-size="21.2">50</text>
<text class="b" x="894.0" y="317.3" font-size="21.2">0</text>
<text class="b" x="661.4" y="76.7" font-size="12.3" text-anchor="end">100</text>
<circle class="d" cx="665.7" cy="63.8" r="1.4"/>
<text class="b" x="673.9" y="76.7" font-size="12.3">W</text>
<text class="b" x="722.1" y="76.7" font-size="12.3" text-anchor="end">90</text>
<circle class="d" cx="726.4" cy="63.8" r="1.4"/>
<text class="b" x="734.6" y="76.7" font-size="12.3">W</text>
<text class="b" x="786.5" y="76.7" font-size="12.3" text-anchor="end">80</text>
<circle class="d" cx="790.8" cy="63.8" r="1.4"/>
<text class="b" x="799.0" y="76.7" font-size="12.3">W</text>
<text class="b" x="848.9" y="76.7" font-size="12.3" text-anchor="end">70</text>
<circle class="d" cx="853.2" cy="63.8" r="1.4"/>
<text class="b" x="861.4" y="76.7" font-size="12.3">W</text>
<text class="b" x="584.8" y="112.7" font-size="12.3" text-anchor="end">48</text>
<circle class="d" cx="588.9" cy="99.9" r="1.45"/>
<text class="b" x="596.2" y="112.7" font-size="12.3">N</text>
<text class="b" x="584.8" y="130.6" font-size="12.3" text-anchor="end">46</text>
<circle class="d" cx="588.9" cy="117.8" r="1.45"/>
<text class="b" x="596.2" y="130.6" font-size="12.3">N</text>
<text class="b" x="584.8" y="147.7" font-size="12.3" text-anchor="end">44</text>
<circle class="d" cx="588.9" cy="134.9" r="1.45"/>
<text class="b" x="596.2" y="147.7" font-size="12.3">N</text>
<text class="b" x="584.8" y="166.6" font-size="12.3" text-anchor="end">42</text>
<circle class="d" cx="588.9" cy="153.8" r="1.45"/>
<text class="b" x="596.2" y="166.6" font-size="12.3">N</text>
<text class="b" x="584.8" y="182.7" font-size="12.3" text-anchor="end">40</text>
<circle class="d" cx="588.9" cy="169.9" r="1.45"/>
<text class="b" x="596.2" y="182.7" font-size="12.3">N</text>
<text class="b" x="584.8" y="197.5" font-size="12.3" text-anchor="end">38</text>
<circle class="d" cx="588.9" cy="184.7" r="1.45"/>
<text class="b" x="596.2" y="197.5" font-size="12.3">N</text>
<text class="b" x="584.8" y="214.7" font-size="12.3" text-anchor="end">36</text>
<circle class="d" cx="588.9" cy="201.9" r="1.45"/>
<text class="b" x="596.2" y="214.7" font-size="12.3">N</text>
<text class="b" x="584.8" y="228.4" font-size="12.3" text-anchor="end">34</text>
<circle class="d" cx="588.9" cy="215.6" r="1.45"/>
<text class="b" x="596.2" y="228.4" font-size="12.3">N</text>
<text class="b" x="584.8" y="245.8" font-size="12.3" text-anchor="end">32</text>
<circle class="d" cx="588.9" cy="233.0" r="1.45"/>
<text class="b" x="596.2" y="245.8" font-size="12.3">N</text>
<text class="b" x="584.8" y="259.6" font-size="12.3" text-anchor="end">30</text>
<circle class="d" cx="588.9" cy="246.8" r="1.45"/>
<text class="b" x="596.2" y="259.6" font-size="12.3">N</text>
<text class="b" x="584.8" y="272.3" font-size="12.3" text-anchor="end">28</text>
<circle class="d" cx="588.9" cy="259.5" r="1.45"/>
<text class="b" x="596.2" y="272.3" font-size="12.3">N</text>
<text class="b" x="584.8" y="287.3" font-size="12.3" text-anchor="end">26</text>
<circle class="d" cx="588.9" cy="274.5" r="1.45"/>
<text class="b" x="596.2" y="287.3" font-size="12.3">N</text>
<text class="b" x="584.8" y="301.4" font-size="12.3" text-anchor="end">24</text>
<circle class="d" cx="588.9" cy="288.6" r="1.45"/>
<text class="b" x="596.2" y="301.4" font-size="12.3">N</text>
<text class="b" x="584.8" y="314.5" font-size="12.3" text-anchor="end">22</text>
<circle class="d" cx="588.9" cy="301.7" r="1.45"/>
<text class="b" x="596.2" y="314.5" font-size="12.3">N</text>
<text class="b" x="560.2" y="340.9" font-size="23.1">SAT 200 hPa RH (Percent)</text>
<g transform="translate(1037.90,95.70) scale(1.0058,1.0092)"><rect x="0" y="0" width="233.25" height="212.50" fill="#fff" stroke="#111" stroke-width="1"/></g>
<g transform="translate(1038.80,95.70) scale(1.0058)">
<g fill="none" stroke-width="5.8" stroke-linecap="round"><path d="M226.2 15.9h0M209.9 17.2h0M219.2 18.6h0M225.1 19.8h0" stroke="#0000af"/><path d="M201.3 10.2h0M204.4 10.3h0M213.7 12.0h0M216.6 12.3h0M223.1 13.1h0M226.0 12.8h0M207.1 13.6h0M209.7 14.5h0M213.7 14.8h0M219.1 15.7h0M229.0 16.8h0M231.7 16.9h0M216.0 18.1h0M233.3 20.6h0M206.8 20.9h0M215.7 21.7h0M228.3 23.2h0M225.2 25.8h0" stroke="#0000bf"/><path d="M194.9 9.6h0M197.5 9.7h0M207.1 10.6h0M210.5 11.8h0M219.4 12.3h0M229.0 13.3h0M232.1 14.3h0M233.3 13.9h0M201.1 13.1h0M203.4 13.3h0M216.3 15.4h0M222.3 16.1h0M233.3 17.5h0M213.3 17.8h0M221.9 19.3h0M228.1 20.2h0M232.0 20.2h0M212.2 20.9h0M221.7 22.3h0M224.8 22.2h0M231.0 23.3h0M212.2 24.0h0M215.4 25.1h0M218.6 25.5h0M221.2 25.9h0M231.5 26.1h0M233.3 26.9h0M203.0 26.6h0M205.9 27.1h0M215.0 27.4h0M227.7 28.9h0M233.3 30.2h0M191.8 169.2h0M233.3 196.1h0M224.8 201.6h0M159.4 197.3h0M196.2 204.5h0" stroke="#0000cf"/><path d="M188.2 11.4h0M194.1 12.7h0M197.2 13.1h0M188.1 18.1h0M190.6 18.9h0M193.7 19.1h0M196.7 19.7h0M203.7 19.7h0M209.6 20.3h0M219.4 21.8h0M233.3 23.7h0M205.6 23.2h0M209.2 24.0h0M228.0 26.2h0M212.1 27.6h0M218.0 28.3h0M221.1 28.1h0M224.4 28.9h0M214.6 30.7h0M227.6 32.0h0M233.3 33.2h0M228.1 92.9h0M210.9 104.2h0M213.8 104.3h0M220.5 104.8h0M198.3 150.7h0M191.3 153.1h0M203.7 153.9h0M197.0 160.1h0M174.5 160.6h0M202.8 164.1h0M205.4 163.5h0M183.5 164.1h0M170.1 169.0h0M201.0 173.4h0M203.9 173.6h0M169.4 172.5h0M197.0 175.7h0M196.7 179.4h0M230.8 183.2h0M196.6 181.9h0M180.5 183.2h0M189.6 184.8h0M195.8 188.1h0M188.7 190.4h0M188.5 194.1h0M162.4 194.4h0M165.2 194.4h0M181.7 196.7h0M165.0 198.0h0M189.8 200.5h0M161.4 200.4h0M218.2 206.9h0M186.2 207.1h0M188.5 210.4h0" stroke="#0000df"/><path d="M182.4 11.5h0M184.7 11.4h0M206.6 17.8h0M181.1 17.7h0M184.6 20.6h0M187.5 21.6h0M190.8 21.7h0M193.2 21.6h0M196.7 22.1h0M199.9 22.4h0M203.2 22.9h0M186.6 24.7h0M199.9 25.7h0M208.4 27.2h0M208.5 30.3h0M211.6 30.8h0M218.0 31.1h0M221.0 32.2h0M223.7 31.7h0M233.3 36.3h0M215.6 88.5h0M218.8 88.3h0M221.3 88.9h0M208.5 90.8h0M212.1 90.7h0M218.1 91.9h0M221.8 92.7h0M225.0 92.3h0M202.6 93.5h0M205.4 93.2h0M230.4 97.1h0M201.6 96.2h0M202.0 99.5h0M205.2 100.0h0M211.5 100.7h0M214.2 101.1h0M217.5 101.2h0M220.9 101.7h0M224.1 102.2h0M207.2 103.8h0M226.0 106.0h0M229.7 106.0h0M222.5 111.8h0M199.2 147.6h0M201.6 147.7h0M210.8 149.1h0M213.9 149.0h0M182.6 148.9h0M201.6 150.5h0M204.4 151.0h0M207.6 151.2h0M210.6 151.6h0M210.5 155.2h0M187.7 155.1h0M191.0 156.0h0M206.3 158.2h0M181.3 158.3h0M184.7 158.3h0M190.9 159.2h0M202.9 160.7h0M206.4 160.4h0M177.5 160.7h0M189.7 161.9h0M192.8 162.8h0M167.6 162.8h0M170.9 163.2h0M186.4 165.0h0M192.5 165.4h0M198.6 166.8h0M202.3 167.3h0M170.3 166.7h0M173.1 166.9h0M179.3 167.4h0M183.2 168.0h0M185.9 168.0h0M201.9 169.6h0M204.6 170.0h0M166.5 168.6h0M176.0 169.9h0M192.0 172.1h0M194.3 172.8h0M220.0 175.7h0M175.1 173.1h0M191.4 175.6h0M225.4 179.2h0M171.4 176.2h0M187.7 177.5h0M190.6 177.8h0M193.5 179.0h0M200.2 179.5h0M215.1 181.1h0M174.5 179.6h0M181.1 180.8h0M186.7 181.1h0M189.7 181.1h0M199.5 182.7h0M206.2 183.2h0M170.5 181.9h0M173.6 182.3h0M233.3 190.1h0M170.6 185.4h0M179.9 186.3h0M186.1 186.9h0M201.6 188.8h0M170.0 188.5h0M179.2 189.8h0M194.4 191.5h0M204.0 192.6h0M222.5 195.1h0M226.3 195.5h0M165.9 191.2h0M175.9 192.1h0M181.4 193.0h0M191.6 194.4h0M194.5 194.3h0M159.4 194.0h0M169.0 195.2h0M175.2 196.2h0M191.0 197.6h0M196.9 198.8h0M162.4 197.4h0M168.0 198.2h0M178.2 199.1h0M158.9 200.0h0M171.0 202.1h0M174.5 201.9h0M177.1 201.9h0M180.4 203.1h0M189.0 206.9h0M195.2 207.9h0M198.4 208.0h0M205.2 209.0h0M176.5 208.9h0M179.8 209.3h0M183.0 209.5h0M185.4 209.6h0M195.3 211.0h0M207.5 212.2h0M182.4 213.0h0" stroke="#0000ef"/><path d="M182.3 7.9h0M188.1 8.7h0M192.1 8.7h0M191.3 12.7h0M181.3 20.5h0M180.8 23.6h0M184.1 24.3h0M193.4 24.8h0M196.5 25.5h0M231.1 29.5h0M230.2 33.2h0M217.7 34.5h0M220.5 34.8h0M227.1 35.3h0M230.4 36.2h0M232.9 36.5h0M213.7 36.9h0M206.2 86.9h0M209.3 87.4h0M212.4 88.3h0M224.8 89.8h0M227.5 89.6h0M202.7 89.8h0M206.1 90.8h0M230.6 93.1h0M233.3 93.9h0M208.8 94.4h0M227.8 96.4h0M205.2 96.3h0M224.3 99.3h0M229.6 102.4h0M201.5 102.6h0M205.0 103.2h0M217.1 104.7h0M223.4 105.7h0M232.2 106.4h0M201.2 105.9h0M200.0 112.1h0M204.9 148.2h0M208.0 148.3h0M217.8 149.1h0M186.2 148.6h0M191.9 149.1h0M194.7 150.3h0M176.1 151.4h0M179.0 151.3h0M182.0 151.2h0M185.3 152.1h0M187.9 152.2h0M194.9 152.9h0M200.4 153.6h0M207.2 154.1h0M213.1 155.2h0M185.0 154.9h0M194.1 156.3h0M197.6 157.0h0M203.1 157.8h0M209.8 157.6h0M212.8 158.2h0M187.5 158.8h0M199.4 160.6h0M209.3 161.4h0M212.4 161.6h0M184.0 161.1h0M186.8 161.6h0M196.0 163.3h0M224.5 166.4h0M164.6 162.4h0M173.7 163.3h0M176.6 163.4h0M189.8 165.5h0M195.8 165.7h0M205.5 167.2h0M167.5 166.4h0M176.7 167.4h0M189.3 168.8h0M207.3 170.2h0M210.6 170.8h0M217.0 171.3h0M163.3 168.2h0M182.0 171.1h0M185.0 170.9h0M188.6 171.2h0M172.2 173.2h0M178.5 173.6h0M184.6 174.7h0M188.3 175.1h0M194.6 175.5h0M200.4 176.1h0M207.2 176.6h0M174.6 176.1h0M178.2 176.9h0M181.6 177.2h0M171.3 179.5h0M177.7 179.6h0M176.6 183.2h0M183.5 183.9h0M193.2 184.5h0M198.9 185.5h0M176.9 186.3h0M182.7 187.0h0M189.3 187.8h0M198.8 189.1h0M204.6 190.1h0M211.2 190.8h0M160.3 187.5h0M173.1 188.7h0M176.5 189.4h0M182.1 189.9h0M185.9 190.8h0M191.8 191.6h0M198.5 192.4h0M159.7 190.7h0M168.8 191.6h0M172.3 192.5h0M200.5 195.4h0M204.0 195.7h0M225.8 198.9h0M171.9 195.0h0M178.2 196.2h0M184.8 197.0h0M203.4 198.9h0M219.2 200.4h0M171.1 198.0h0M180.7 199.8h0M187.5 200.0h0M193.2 201.4h0M202.3 201.7h0M205.4 203.0h0M224.6 204.8h0M164.8 200.4h0M186.2 203.7h0M193.1 204.3h0M199.2 205.2h0M202.6 205.0h0M211.5 206.9h0M174.0 204.8h0M176.5 205.5h0M180.1 205.4h0M192.3 207.6h0M207.8 208.9h0M192.2 210.1h0M201.1 211.9h0M204.3 212.1h0" stroke="#0000ff"/><path d="M185.1 8.7h0M184.4 17.6h0M199.9 19.2h0M190.1 24.9h0M214.5 34.2h0M223.7 34.9h0M220.9 63.3h0M215.2 92.0h0M224.1 95.9h0M230.1 99.3h0M210.3 113.7h0M215.7 114.0h0M195.9 146.9h0M220.4 149.9h0M188.6 149.4h0M216.9 152.1h0M197.5 153.3h0M216.6 156.2h0M178.6 154.7h0M200.1 156.5h0M193.8 159.5h0M215.7 161.9h0M171.5 160.2h0M198.9 163.8h0M209.0 164.4h0M179.9 163.8h0M230.1 170.6h0M214.3 171.1h0M173.1 169.9h0M179.0 170.4h0M207.0 173.4h0M203.1 176.6h0M184.7 177.9h0M202.9 179.6h0M206.6 180.4h0M209.4 180.4h0M201.8 185.8h0M205.4 186.1h0M211.7 186.8h0M208.3 189.6h0M223.1 191.6h0M166.3 188.7h0M200.9 191.9h0M210.6 193.8h0M163.5 190.9h0M210.0 196.5h0M222.1 198.2h0M209.7 199.7h0M183.8 200.3h0M196.5 201.3h0M200.1 201.3h0M218.8 204.1h0M167.9 201.8h0M184.0 203.3h0M205.2 205.9h0M208.0 206.0h0M211.1 210.0h0M211.0 212.7h0M175.7 211.9h0" stroke="#0010ff"/><path d="M203.7 16.9h0M217.0 37.3h0M208.7 96.8h0M210.7 106.8h0M219.4 114.5h0M213.7 152.3h0M220.2 153.3h0M219.2 156.3h0M222.5 156.7h0M215.8 158.7h0M178.3 157.5h0M164.9 158.7h0M180.1 161.0h0M211.5 165.2h0M214.8 164.8h0M207.8 167.8h0M233.3 170.5h0M163.5 165.3h0M195.0 169.5h0M197.9 172.4h0M213.4 175.0h0M163.3 171.7h0M212.8 178.1h0M228.9 180.1h0M212.5 180.8h0M183.7 180.7h0M202.5 183.4h0M209.0 184.1h0M227.2 186.1h0M186.0 183.9h0M208.0 186.5h0M173.4 185.4h0M192.0 187.9h0M163.1 187.9h0M213.9 194.0h0M185.1 193.5h0M206.8 196.5h0M187.7 197.6h0M209.2 203.4h0M233.3 205.6h0M233.3 208.8h0M158.4 203.1h0M201.7 208.7h0M233.2 212.5h0M172.9 208.4h0M198.0 211.6h0" stroke="#0020ff"/><path d="M205.3 30.1h0M218.2 94.7h0M233.3 97.0h0M209.9 110.4h0M207.0 113.3h0M212.7 113.7h0M204.6 132.0h0M218.8 158.7h0M221.8 160.0h0M222.0 162.9h0M168.0 159.4h0M227.8 166.3h0M211.7 167.5h0M217.3 168.5h0M232.8 170.3h0M198.1 169.7h0M233.0 173.9h0M210.3 174.1h0M217.0 175.0h0M231.8 177.3h0M233.3 177.0h0M166.4 172.3h0M181.3 173.8h0M209.7 177.1h0M233.3 180.2h0M169.0 175.9h0M212.4 184.4h0M233.3 186.7h0M195.8 185.6h0M215.0 187.7h0M161.0 184.5h0M233.3 192.9h0M207.0 193.1h0M178.7 193.2h0M197.6 195.0h0M213.2 196.5h0M216.3 196.9h0M193.5 197.6h0M200.5 198.8h0M206.0 199.0h0M212.2 200.3h0M233.3 202.4h0M175.1 199.3h0M211.8 203.7h0M231.1 205.1h0M221.1 207.1h0M230.1 209.1h0M182.7 206.5h0M214.8 210.4h0M223.7 210.8h0M227.1 211.5h0M233.3 212.1h0M172.9 211.9h0M178.9 212.4h0" stroke="#0030ff"/><path d="M182.2 13.9h0M211.1 33.5h0M232.8 39.3h0M221.3 95.7h0M233.0 103.3h0M226.0 109.2h0M200.6 134.4h0M218.6 162.7h0M218.4 165.7h0M220.9 165.7h0M214.4 168.6h0M220.5 169.4h0M223.4 169.1h0M226.8 169.7h0M223.6 172.7h0M226.6 172.4h0M229.5 173.0h0M233.3 173.7h0M222.7 176.0h0M233.3 183.2h0M193.1 182.3h0M215.0 184.9h0M231.2 185.9h0M226.7 188.9h0M213.8 191.2h0M230.0 193.0h0M233.3 192.5h0M231.9 196.5h0M219.6 197.5h0M229.1 198.5h0M233.3 199.7h0M228.6 201.8h0M231.1 202.6h0M214.9 203.7h0M227.5 205.0h0M189.3 203.8h0M214.6 206.8h0M226.9 207.9h0M160.8 203.4h0M167.3 204.1h0M170.0 204.8h0M217.7 210.2h0M220.1 210.7h0M229.6 212.1h0M156.8 213.2h0" stroke="#0040ff"/><path d="M185.0 15.1h0M197.6 15.7h0M200.3 16.9h0M208.6 33.3h0M223.7 38.3h0M233.3 39.4h0M229.3 109.4h0M215.8 116.8h0M218.4 117.4h0M200.9 131.4h0M197.7 134.1h0M225.6 175.8h0M228.9 176.6h0M216.2 178.3h0M228.5 182.9h0M168.5 178.9h0M218.4 184.6h0M224.6 185.9h0M230.0 189.9h0M167.0 185.1h0M217.4 190.7h0M220.2 191.6h0M227.0 191.9h0M216.4 194.1h0M219.8 194.8h0M229.6 196.0h0M231.6 199.3h0M215.7 200.8h0M221.5 201.3h0M158.0 206.7h0" stroke="#0050ff"/><path d="M187.8 75.2h0M207.8 100.8h0M204.0 135.3h0M168.6 153.3h0M172.5 153.2h0M174.9 154.3h0M165.9 156.3h0M174.4 157.3h0M219.8 172.4h0M218.9 178.4h0M222.4 178.5h0M232.0 180.4h0M162.3 174.5h0M219.2 182.0h0M221.8 182.2h0M221.4 185.1h0M161.5 181.4h0M218.2 188.0h0M221.1 204.5h0M223.8 208.3h0M164.5 204.2h0M157.6 209.2h0" stroke="#0060ff"/><path d="M187.7 15.2h0M194.4 15.9h0M185.3 75.2h0M211.5 94.5h0M211.0 97.8h0M233.3 100.4h0M222.2 118.2h0M221.1 120.9h0M207.0 131.9h0M225.2 182.0h0M164.8 178.7h0M220.9 188.4h0M224.3 188.4h0M163.6 207.1h0M167.2 207.9h0M160.3 209.7h0M163.8 210.6h0" stroke="#0070ff"/><path d="M190.6 15.3h0M232.4 48.7h0M233.3 106.3h0M232.8 109.7h0M180.6 116.2h0M177.0 122.2h0M182.9 126.2h0M189.4 126.3h0M179.5 128.6h0M194.8 130.6h0M194.7 134.0h0M206.6 135.3h0M222.6 137.6h0M225.6 137.3h0M202.9 137.9h0M171.4 156.5h0M165.3 175.7h0M162.1 178.6h0M164.5 181.8h0M163.7 184.4h0M160.5 206.9h0M170.3 207.8h0M166.4 210.5h0M169.4 210.7h0" stroke="#0080ff"/><path d="M233.3 46.1h0M231.7 52.5h0M233.3 52.0h0M231.3 58.5h0M233.3 58.9h0M233.7 100.4h0M204.1 106.4h0M222.8 108.2h0M216.6 111.0h0M231.6 112.4h0M233.3 112.7h0M225.4 115.5h0M233.3 115.8h0M233.3 119.0h0M177.9 115.8h0M224.5 121.4h0M180.7 119.3h0M183.7 119.7h0M183.3 122.4h0M186.5 123.2h0M185.5 126.6h0M195.5 127.3h0M201.2 128.3h0M220.1 130.2h0M182.3 129.2h0M185.6 129.1h0M197.6 130.7h0M220.2 133.6h0M222.9 133.8h0M225.9 134.6h0M175.8 132.0h0M178.6 132.0h0M188.1 133.5h0M219.1 137.0h0M175.3 134.7h0M188.1 136.2h0M218.7 143.2h0M221.5 143.1h0M218.3 145.8h0M221.1 146.4h0M223.7 153.6h0M225.3 160.0h0M168.4 156.0h0M225.3 163.3h0M167.5 181.5h0" stroke="#008fff"/><path d="M202.8 30.0h0M193.1 31.9h0M201.8 32.8h0M208.0 36.1h0M232.4 42.9h0M233.3 42.7h0M231.9 45.7h0M233.3 48.8h0M233.3 55.3h0M231.1 61.5h0M233.3 61.6h0M217.9 63.4h0M214.2 65.6h0M220.4 67.1h0M226.7 67.9h0M186.2 65.5h0M202.0 68.0h0M201.1 71.1h0M175.6 74.0h0M200.4 76.7h0M178.4 77.6h0M190.9 79.0h0M193.8 83.1h0M196.8 82.7h0M203.5 84.1h0M227.8 87.1h0M193.2 92.1h0M189.1 97.8h0M192.2 98.8h0M233.3 103.2h0M198.5 102.8h0M194.3 104.8h0M198.4 105.4h0M233.3 109.9h0M191.2 108.0h0M229.1 111.9h0M172.2 108.7h0M228.9 115.2h0M231.6 116.1h0M199.9 115.7h0M183.9 116.9h0M227.6 121.6h0M233.3 122.4h0M221.0 124.2h0M180.3 122.7h0M189.4 123.7h0M179.3 125.3h0M229.0 135.2h0M191.0 136.8h0M197.3 137.3h0M219.0 140.2h0M222.5 139.8h0M205.3 145.2h0M208.7 145.3h0M214.8 146.1h0M223.3 150.1h0M226.1 156.7h0" stroke="#009fff"/><path d="M183.6 27.7h0M189.4 27.9h0M192.7 28.7h0M198.8 28.8h0M196.2 32.4h0M205.1 32.9h0M201.7 35.4h0M205.0 36.0h0M210.6 37.3h0M191.2 47.1h0M231.0 55.3h0M224.4 63.7h0M227.8 64.6h0M233.3 65.1h0M223.5 66.9h0M233.3 68.0h0M176.9 64.9h0M179.9 65.1h0M217.1 69.1h0M198.5 70.5h0M217.1 72.4h0M232.8 74.6h0M185.4 71.8h0M191.6 73.1h0M201.4 73.5h0M214.0 75.2h0M203.8 77.4h0M175.0 77.2h0M203.4 80.6h0M207.1 80.9h0M175.5 80.9h0M177.9 80.4h0M184.8 82.0h0M190.9 82.5h0M199.7 83.7h0M187.5 84.6h0M190.5 85.5h0M196.9 85.8h0M199.2 89.9h0M196.2 92.2h0M198.9 93.3h0M192.8 95.4h0M195.4 96.0h0M199.1 96.3h0M214.2 98.0h0M195.6 98.4h0M186.0 101.1h0M191.7 101.8h0M185.2 103.6h0M191.8 104.6h0M185.0 107.6h0M187.9 107.4h0M190.6 110.7h0M198.2 127.5h0M233.3 132.0h0M188.6 130.1h0M191.5 130.6h0M185.4 132.9h0M191.2 133.9h0M194.3 136.9h0M200.1 137.5h0M224.7 143.6h0M211.7 145.7h0M223.8 146.5h0M228.1 160.3h0" stroke="#00afff"/><path d="M179.9 27.4h0M187.2 28.0h0M195.8 28.5h0M179.8 29.6h0M186.7 31.3h0M189.8 31.6h0M229.5 39.3h0M216.5 40.5h0M229.9 42.0h0M214.8 62.9h0M230.3 67.5h0M232.9 68.6h0M214.0 68.7h0M220.0 69.8h0M223.1 70.3h0M229.4 71.2h0M176.4 67.8h0M194.9 69.9h0M214.3 72.7h0M233.3 74.5h0M188.5 72.5h0M198.1 73.2h0M184.8 78.6h0M188.3 79.2h0M194.7 79.9h0M200.2 80.2h0M209.8 81.2h0M187.6 82.2h0M206.7 83.9h0M221.6 85.7h0M224.9 86.4h0M193.7 85.4h0M199.4 86.1h0M203.4 86.6h0M189.4 92.1h0M214.5 95.2h0M198.9 99.0h0M188.9 101.2h0M195.5 102.4h0M182.3 103.1h0M188.7 104.2h0M182.1 106.4h0M194.8 108.1h0M213.6 110.8h0M187.4 110.8h0M194.0 111.4h0M197.5 111.3h0M192.8 123.7h0M220.4 127.5h0M232.3 132.3h0M232.6 135.5h0M233.3 138.4h0M226.7 153.3h0M228.7 157.0h0M228.2 163.6h0M231.1 166.8h0" stroke="#00bfff"/><path d="M183.0 30.2h0M198.5 32.1h0M210.6 40.2h0M213.9 40.9h0M217.2 43.6h0M212.9 47.2h0M229.0 51.6h0M212.6 52.6h0M227.6 61.1h0M230.1 64.2h0M227.1 70.9h0M233.3 71.5h0M176.3 70.9h0M194.6 73.4h0M178.3 83.7h0M190.2 89.0h0M193.5 88.6h0M196.6 89.6h0M189.1 95.1h0M173.9 96.5h0M175.8 108.7h0M178.9 109.3h0M181.5 109.9h0M175.1 111.9h0M178.2 112.3h0M171.6 134.2h0M183.8 138.7h0M199.5 140.6h0M179.9 147.6h0" stroke="#00cfff"/><path d="M198.4 35.8h0M220.8 38.5h0M227.1 38.8h0M204.7 39.1h0M219.4 44.7h0M194.6 47.7h0M216.3 50.7h0M218.8 50.7h0M215.7 53.3h0M228.1 54.4h0M217.9 66.1h0M189.2 65.9h0M232.7 71.7h0M216.1 79.2h0M213.0 84.4h0M215.6 85.4h0M219.0 85.2h0M175.1 83.2h0M181.1 84.4h0M184.3 84.8h0M180.5 87.7h0M187.4 87.8h0M174.2 89.9h0M180.5 90.3h0M174.1 93.1h0M184.7 110.4h0M181.6 112.8h0M183.9 113.4h0M224.2 125.1h0M192.2 127.4h0M205.0 128.5h0M233.3 135.3h0M232.2 137.8h0M215.0 142.5h0M199.2 144.3h0M227.3 150.3h0M231.9 161.1h0M233.3 167.1h0" stroke="#00dfff"/><path d="M191.8 34.7h0M185.8 36.6h0M220.4 41.4h0M222.9 41.2h0M226.1 42.0h0M207.8 42.5h0M213.6 43.8h0M228.8 45.2h0M194.8 44.8h0M209.9 49.7h0M203.9 74.7h0M216.8 76.2h0M213.0 81.8h0M215.8 81.7h0M219.5 82.8h0M231.4 87.3h0M231.1 90.1h0M174.3 86.3h0M177.1 87.5h0M177.3 90.3h0M207.7 106.7h0M196.9 115.4h0M202.8 115.6h0M223.4 130.7h0M229.8 132.0h0M169.1 133.9h0M187.1 139.0h0M232.3 157.7h0M233.3 160.8h0" stroke="#00efff"/><path d="M186.3 33.7h0M189.2 34.2h0M195.4 35.4h0M201.0 38.9h0M207.5 39.9h0M210.5 43.6h0M226.4 44.9h0M198.0 44.5h0M210.5 46.5h0M216.4 46.9h0M219.6 47.9h0M228.9 48.4h0M212.5 50.1h0M191.1 75.7h0M233.3 84.2h0M209.4 84.3h0M233.3 87.3h0M183.6 88.1h0M186.2 91.8h0M213.0 116.6h0M224.9 118.0h0M226.3 131.6h0M196.2 140.2h0M212.0 142.8h0M229.8 153.9h0M233.3 154.7h0M233.3 157.5h0" stroke="#00ffff"/><path d="M198.5 38.4h0M207.0 45.7h0M196.8 48.3h0M192.2 66.9h0M188.4 69.7h0M231.9 84.1h0M186.6 94.4h0M176.5 96.7h0M216.7 107.3h0M219.6 108.0h0M230.9 122.4h0M199.1 125.1h0M190.2 139.4h0M230.2 150.9h0M231.2 164.1h0" stroke="#10ffef"/><path d="M189.0 37.0h0M200.1 47.9h0M203.1 49.1h0M191.7 69.8h0M183.8 90.8h0M182.9 100.4h0M178.9 106.2h0M197.7 108.2h0M209.5 116.0h0M233.3 141.9h0M232.4 154.3h0" stroke="#20ffdf"/><path d="M219.3 54.3h0M221.7 60.6h0M224.8 60.4h0M182.8 65.2h0M185.3 68.7h0M220.2 73.0h0M197.7 79.5h0M196.0 124.0h0M201.4 125.2h0M228.4 138.2h0M193.6 140.4h0M231.1 144.7h0M183.2 142.4h0M190.3 142.5h0M193.0 143.3h0M196.0 143.6h0M230.6 147.3h0M183.1 145.3h0M189.6 146.2h0M192.3 146.0h0M233.3 164.3h0" stroke="#30ffcf"/><path d="M182.7 37.1h0M198.4 42.2h0M200.6 45.7h0M178.7 48.8h0M224.8 54.1h0M178.0 52.0h0M227.6 58.2h0M176.6 61.5h0M201.9 64.2h0M179.2 71.1h0M233.3 90.3h0M185.6 98.1h0M228.2 118.6h0M217.6 126.6h0M176.8 125.2h0M215.8 139.6h0M186.7 142.7h0" stroke="#40ffbf"/><path d="M191.4 44.2h0M225.5 47.8h0M225.3 51.5h0M215.3 60.1h0M181.8 77.9h0M207.9 129.4h0M184.9 136.2h0M225.6 141.0h0M186.4 145.3h0M233.3 151.6h0" stroke="#50ffaf"/><path d="M223.0 44.4h0M187.9 49.7h0M222.5 54.6h0M215.0 56.5h0M169.6 130.6h0M181.7 132.5h0M206.5 138.9h0M205.5 141.5h0M233.3 144.6h0M233.0 151.3h0" stroke="#60ff9f"/><path d="M221.3 57.3h0M224.9 57.7h0M177.2 93.7h0M182.9 94.3h0M218.7 120.8h0M218.4 123.5h0M213.0 139.4h0M231.3 141.8h0M233.3 147.9h0M179.9 144.4h0" stroke="#70ff8f"/><path d="M179.5 40.0h0M209.8 52.8h0M218.9 57.2h0M198.7 64.1h0M180.1 93.8h0M182.5 97.8h0M204.0 109.7h0M207.4 109.7h0M172.1 130.8h0M209.2 139.2h0M209.2 142.4h0M227.6 146.9h0" stroke="#80ff80"/><path d="M195.3 38.6h0M203.8 45.4h0M194.3 76.8h0M222.2 82.6h0M180.2 96.5h0M226.1 111.8h0" stroke="#8fff70"/><path d="M194.0 50.5h0M180.2 62.2h0M173.1 99.1h0M172.8 106.0h0M175.8 106.5h0M206.7 116.4h0M181.2 138.7h0" stroke="#9fff60"/><path d="M192.0 38.2h0M222.5 47.4h0M218.7 59.8h0M206.6 77.9h0M176.3 128.0h0M228.7 140.9h0" stroke="#afff50"/><path d="M178.5 45.4h0M222.3 51.3h0M191.1 50.8h0M179.2 74.7h0M186.3 120.2h0" stroke="#bfff40"/><path d="M197.5 76.5h0M219.4 79.2h0M217.8 98.0h0M205.4 125.3h0M203.2 141.2h0" stroke="#cfff30"/><path d="M179.4 36.0h0M178.8 43.1h0M188.4 46.8h0M206.9 49.0h0M204.1 70.7h0M181.0 80.7h0M197.0 118.4h0M209.8 135.5h0M228.2 144.7h0" stroke="#dfff20"/><path d="M191.6 41.1h0M212.2 62.7h0M189.3 63.3h0M192.5 63.8h0M229.2 74.4h0M182.8 71.7h0M233.3 78.1h0M179.5 100.0h0M203.3 112.7h0M195.6 120.8h0M223.3 127.4h0M170.3 124.7h0" stroke="#efff10"/><path d="M195.3 41.4h0M182.2 74.6h0M220.3 98.8h0M211.1 129.1h0M180.1 141.3h0M202.3 144.7h0" stroke="#ffff00"/><path d="M188.9 40.5h0M223.5 73.3h0M226.0 73.5h0" stroke="#ffef00"/><path d="M212.5 56.2h0M212.4 59.2h0M207.8 126.3h0M210.9 132.1h0" stroke="#ffdf00"/><path d="M196.8 51.1h0M206.1 52.4h0M195.3 63.4h0M216.6 130.1h0" stroke="#ffcf00"/><path d="M210.0 77.8h0M187.2 114.2h0M199.9 118.4h0M173.6 125.3h0M181.5 155.2h0" stroke="#ffbf00"/><path d="M183.1 62.3h0M213.2 78.3h0M228.7 84.1h0M200.5 108.9h0" stroke="#ffaf00"/><path d="M204.6 42.7h0M195.5 67.1h0M215.2 119.8h0M172.9 128.5h0" stroke="#ff9f00"/><path d="M233.3 80.8h0M169.8 128.1h0" stroke="#ff8f00"/><path d="M200.6 42.0h0M187.9 43.9h0M180.8 52.9h0" stroke="#ff8000"/><path d="M185.4 39.8h0M219.8 76.0h0" stroke="#ff7000"/><path d="M181.3 49.1h0M205.1 65.3h0M210.4 75.5h0M225.1 83.4h0M213.3 106.8h0" stroke="#ff6000"/><path d="M184.8 49.7h0M203.2 52.4h0M199.1 121.3h0M178.4 134.6h0M177.5 138.4h0" stroke="#ff5000"/><path d="M182.7 40.1h0M231.9 78.1h0M211.0 126.7h0M181.4 135.4h0" stroke="#ff4000"/><path d="M184.5 46.7h0M199.7 52.0h0M177.7 54.8h0M193.0 120.6h0M214.3 127.0h0" stroke="#ff3000"/><path d="M184.8 43.5h0M186.7 62.3h0M226.6 99.2h0M179.3 103.5h0M190.3 113.8h0M193.6 114.5h0M202.0 121.8h0" stroke="#ff2000"/><path d="M181.5 42.7h0M181.5 45.9h0M177.0 58.7h0M232.5 80.4h0M227.1 102.9h0M175.9 99.7h0M202.9 118.5h0" stroke="#ff1000"/><path d="M179.7 33.3h0M205.1 68.1h0M222.8 114.6h0M205.7 122.4h0M213.8 130.2h0" stroke="#ff0000"/><path d="M183.2 34.0h0M205.2 61.6h0M183.0 68.3h0M231.0 118.6h0" stroke="#ef0000"/><path d="M209.2 55.9h0M180.0 67.9h0M206.9 74.5h0" stroke="#df0000"/><path d="M212.5 119.8h0M208.6 123.1h0M216.3 136.7h0" stroke="#cf0000"/><path d="M198.7 66.8h0M222.6 76.1h0M222.7 80.0h0M211.4 123.5h0" stroke="#bf0000"/><path d="M190.1 53.8h0M193.9 53.7h0M196.7 54.5h0M187.2 56.6h0M193.6 57.1h0M196.3 57.5h0M202.9 57.9h0M208.7 58.9h0M180.8 58.8h0M199.6 60.6h0M225.9 80.5h0M219.4 111.3h0M215.0 123.7h0M214.0 133.2h0M217.1 133.0h0M212.9 136.4h0" stroke="#af0000"/><path d="M183.9 53.2h0M187.3 53.4h0M199.8 55.0h0M180.5 55.8h0M206.2 58.8h0M187.0 59.3h0M195.7 60.2h0M208.3 62.3h0M208.7 65.4h0M211.1 65.7h0M208.3 68.9h0M210.8 68.5h0M207.8 71.9h0M229.4 77.4h0M172.6 102.5h0M176.2 103.3h0M206.4 118.9h0M190.0 120.2h0M227.1 124.7h0M230.7 125.6h0M233.3 125.5h0M226.8 127.7h0M230.5 128.5h0" stroke="#9f0000"/><path d="M203.1 54.9h0M206.2 55.7h0M183.4 56.5h0M189.8 56.2h0M199.8 57.7h0M183.1 59.4h0M189.8 59.7h0M192.5 60.5h0M202.6 61.7h0M211.0 72.1h0M229.1 80.3h0M233.0 128.7h0M233.3 128.6h0" stroke="#8f0000"/><path d="M225.6 76.5h0M187.5 116.9h0M190.0 117.6h0M193.8 118.2h0M209.2 119.8h0" stroke="#800000"/></g>
</g>
<g transform="translate(1037.90,95.70) scale(1.0058,1.0092)"><use href="#map"/></g>
<rect x="1285.7" y="95.4" width="22.9" height="215.3" fill="url(#jet)" stroke="#1a1a1a" stroke-width="0.9"/>
<path d="M1308.6 203.3h-2.4" stroke="#1a1a1a" stroke-width="0.9"/>
<text class="b" x="1317.1" y="102.8" font-size="21.2">100</text>
<text class="b" x="1317.1" y="209.9" font-size="21.2">50</text>
<text class="b" x="1317.1" y="317.3" font-size="21.2">0</text>
<text class="b" x="1084.3" y="74.9" font-size="12.3" text-anchor="end">100</text>
<circle class="d" cx="1088.6" cy="62.0" r="1.4"/>
<text class="b" x="1096.8" y="74.9" font-size="12.3">W</text>
<text class="b" x="1144.2" y="74.9" font-size="12.3" text-anchor="end">90</text>
<circle class="d" cx="1148.5" cy="62.0" r="1.4"/>
<text class="b" x="1156.7" y="74.9" font-size="12.3">W</text>
<text class="b" x="1206.7" y="74.9" font-size="12.3" text-anchor="end">80</text>
<circle class="d" cx="1211.0" cy="62.0" r="1.4"/>
<text class="b" x="1219.2" y="74.9" font-size="12.3">W</text>
<text class="b" x="1270.9" y="74.9" font-size="12.3" text-anchor="end">70</text>
<circle class="d" cx="1275.2" cy="62.0" r="1.4"/>
<text class="b" x="1283.4" y="74.9" font-size="12.3">W</text>
<text class="b" x="1005.3" y="112.9" font-size="12.3" text-anchor="end">48</text>
<circle class="d" cx="1009.4" cy="100.1" r="1.45"/>
<text class="b" x="1016.7" y="112.9" font-size="12.3">N</text>
<text class="b" x="1005.3" y="130.7" font-size="12.3" text-anchor="end">46</text>
<circle class="d" cx="1009.4" cy="117.9" r="1.45"/>
<text class="b" x="1016.7" y="130.7" font-size="12.3">N</text>
<text class="b" x="1005.3" y="148.2" font-size="12.3" text-anchor="end">44</text>
<circle class="d" cx="1009.4" cy="135.4" r="1.45"/>
<text class="b" x="1016.7" y="148.2" font-size="12.3">N</text>
<text class="b" x="1005.3" y="166.7" font-size="12.3" text-anchor="end">42</text>
<circle class="d" cx="1009.4" cy="153.9" r="1.45"/>
<text class="b" x="1016.7" y="166.7" font-size="12.3">N</text>
<text class="b" x="1005.3" y="183.1" font-size="12.3" text-anchor="end">40</text>
<circle class="d" cx="1009.4" cy="170.3" r="1.45"/>
<text class="b" x="1016.7" y="183.1" font-size="12.3">N</text>
<text class="b" x="1005.3" y="198.2" font-size="12.3" text-anchor="end">38</text>
<circle class="d" cx="1009.4" cy="185.4" r="1.45"/>
<text class="b" x="1016.7" y="198.2" font-size="12.3">N</text>
<text class="b" x="1005.3" y="214.8" font-size="12.3" text-anchor="end">36</text>
<circle class="d" cx="1009.4" cy="202.0" r="1.45"/>
<text class="b" x="1016.7" y="214.8" font-size="12.3">N</text>
<text class="b" x="1005.3" y="229.6" font-size="12.3" text-anchor="end">34</text>
<circle class="d" cx="1009.4" cy="216.8" r="1.45"/>
<text class="b" x="1016.7" y="229.6" font-size="12.3">N</text>
<text class="b" x="1005.3" y="246.0" font-size="12.3" text-anchor="end">32</text>
<circle class="d" cx="1009.4" cy="233.2" r="1.45"/>
<text class="b" x="1016.7" y="246.0" font-size="12.3">N</text>
<text class="b" x="1005.3" y="260.8" font-size="12.3" text-anchor="end">30</text>
<circle class="d" cx="1009.4" cy="248.0" r="1.45"/>
<text class="b" x="1016.7" y="260.8" font-size="12.3">N</text>
<text class="b" x="1005.3" y="275.3" font-size="12.3" text-anchor="end">28</text>
<circle class="d" cx="1009.4" cy="262.5" r="1.45"/>
<text class="b" x="1016.7" y="275.3" font-size="12.3">N</text>
<text class="b" x="1005.3" y="289.4" font-size="12.3" text-anchor="end">26</text>
<circle class="d" cx="1009.4" cy="276.6" r="1.45"/>
<text class="b" x="1016.7" y="289.4" font-size="12.3">N</text>
<text class="b" x="1005.3" y="301.8" font-size="12.3" text-anchor="end">24</text>
<circle class="d" cx="1009.4" cy="289.0" r="1.45"/>
<text class="b" x="1016.7" y="301.8" font-size="12.3">N</text>
<text class="b" x="1005.3" y="317.2" font-size="12.3" text-anchor="end">22</text>
<circle class="d" cx="1009.4" cy="304.4" r="1.45"/>
<text class="b" x="1016.7" y="317.2" font-size="12.3">N</text>
<text class="b" x="982.8" y="341.9" font-size="23.1">SAT 250 hPa RH (Percent)</text>
<g transform="translate(196.20,486.60) scale(1.0000,1.0000)"><rect x="0" y="0" width="233.25" height="212.50" fill="#fff" stroke="#111" stroke-width="1"/></g>
<g transform="translate(196.20,486.60) scale(1.0000)">
<g fill="none" stroke-width="5.8" stroke-linecap="round"><path d="M224.4 25.7h0" stroke="#000080"/><path d="M191.8 8.8h0M207.2 10.8h0M197.9 13.2h0M200.8 13.7h0M206.9 14.2h0M219.5 15.5h0M228.5 19.4h0M212.7 21.5h0M222.1 25.6h0" stroke="#00008f"/><path d="M185.5 8.1h0M188.9 9.1h0M201.6 9.8h0M204.6 10.7h0M216.3 12.4h0M229.7 13.4h0M194.0 12.6h0M209.8 14.8h0M222.4 15.8h0M225.9 16.0h0M228.5 16.7h0M190.9 15.2h0M193.8 15.7h0M197.4 16.0h0M200.8 16.7h0M222.3 18.8h0M206.1 20.5h0M233.3 23.5h0M215.6 24.4h0M218.7 25.4h0M227.6 25.7h0M230.8 26.5h0M227.3 29.0h0" stroke="#00009f"/><path d="M182.4 7.9h0M194.8 9.3h0M197.7 10.3h0M213.8 11.9h0M220.3 12.9h0M223.1 12.4h0M225.6 12.8h0M232.2 14.3h0M233.3 13.9h0M184.7 11.6h0M188.6 11.5h0M191.1 12.2h0M203.5 13.8h0M212.9 14.5h0M216.7 15.7h0M231.7 17.2h0M233.3 17.4h0M203.3 16.9h0M207.1 17.3h0M209.9 17.2h0M212.9 18.0h0M216.0 18.3h0M219.3 18.8h0M225.4 20.0h0M231.2 20.3h0M233.3 20.2h0M197.4 19.5h0M200.1 19.8h0M203.7 19.7h0M209.7 20.9h0M215.7 21.8h0M219.4 21.8h0M222.4 22.5h0M228.7 23.3h0M231.9 23.9h0M212.2 24.4h0M224.6 28.7h0M230.4 30.0h0M230.3 32.7h0" stroke="#0000af"/><path d="M210.6 11.3h0M182.0 11.1h0M225.5 22.2h0M206.0 23.7h0M221.2 28.8h0M227.8 32.5h0M231.1 144.3h0M217.4 171.9h0M169.6 169.9h0M179.9 186.4h0M206.1 199.1h0" stroke="#0000bf"/><path d="M182.0 14.3h0M187.4 15.3h0M193.8 19.2h0M209.3 23.7h0M215.5 28.2h0M233.3 30.3h0M233.3 33.2h0M232.8 36.5h0M197.5 131.0h0M221.7 143.5h0M228.1 143.8h0M198.8 147.4h0M217.3 149.7h0M223.3 149.8h0M200.9 151.1h0M204.4 151.3h0M229.8 153.7h0M233.3 154.5h0M178.7 150.8h0M185.3 152.0h0M203.5 153.8h0M222.4 156.9h0M225.8 157.1h0M181.5 155.0h0M200.4 157.0h0M206.4 158.0h0M213.0 158.1h0M216.0 158.4h0M218.8 159.5h0M222.1 159.3h0M233.3 160.9h0M187.4 158.5h0M193.1 159.5h0M206.2 161.1h0M212.5 162.0h0M215.8 161.5h0M164.5 158.8h0M167.8 159.8h0M196.1 165.8h0M214.9 168.3h0M232.9 170.3h0M166.7 165.8h0M204.7 170.0h0M207.9 170.2h0M210.5 170.6h0M166.2 168.7h0M226.2 175.9h0M162.8 172.1h0M219.3 178.8h0M228.6 179.1h0M231.5 179.8h0M165.3 175.7h0M168.2 176.0h0M190.8 178.5h0M231.3 183.1h0M233.3 183.4h0M233.3 186.4h0M170.9 182.8h0M180.2 183.2h0M183.1 184.3h0M192.3 184.6h0M161.2 184.6h0M176.8 185.9h0M182.8 187.2h0M188.8 187.6h0M195.0 188.9h0M163.7 188.1h0M172.9 189.4h0M188.9 191.2h0M191.7 190.8h0M194.8 191.6h0M198.0 192.1h0M172.9 191.9h0M175.4 192.2h0M197.2 195.3h0M203.9 195.7h0M206.7 195.9h0M159.2 193.8h0M190.7 197.7h0M171.2 198.1h0M202.3 202.3h0M158.6 199.7h0M174.3 202.2h0M208.5 206.5h0M170.5 204.7h0M214.6 210.3h0M157.8 206.4h0M197.9 210.8h0M181.7 212.9h0M156.7 212.6h0" stroke="#0000cf"/><path d="M184.6 14.6h0M187.6 18.2h0M190.7 18.6h0M203.1 23.2h0M233.3 27.0h0M212.2 27.0h0M217.8 28.0h0M224.7 31.6h0M233.3 36.3h0M187.9 133.2h0M231.7 141.3h0M233.3 141.9h0M215.0 145.9h0M218.3 146.0h0M220.8 146.8h0M224.6 147.5h0M227.0 147.2h0M201.4 148.0h0M204.8 147.6h0M210.9 148.9h0M214.2 148.9h0M221.1 150.2h0M185.5 149.2h0M198.3 150.0h0M210.6 151.7h0M214.0 152.6h0M217.0 153.0h0M222.9 153.2h0M226.4 153.2h0M233.1 154.1h0M182.2 151.9h0M188.5 151.9h0M191.0 152.5h0M194.3 152.7h0M201.0 154.1h0M206.6 155.0h0M210.6 155.2h0M213.4 155.8h0M216.6 155.2h0M219.6 156.0h0M231.6 157.8h0M171.9 153.2h0M175.7 154.5h0M178.1 154.0h0M184.7 155.6h0M196.9 156.3h0M203.7 157.1h0M210.1 158.1h0M225.3 159.9h0M228.8 160.0h0M231.6 161.1h0M165.4 156.0h0M175.2 157.6h0M178.0 157.3h0M184.6 158.3h0M196.3 160.1h0M202.9 160.4h0M208.9 161.2h0M218.7 162.0h0M221.8 163.2h0M233.3 164.0h0M170.7 160.3h0M174.3 160.6h0M177.1 160.9h0M192.6 162.8h0M196.2 162.8h0M205.5 164.2h0M208.9 164.9h0M221.6 166.0h0M227.8 166.9h0M230.6 167.0h0M233.3 167.2h0M163.9 162.3h0M167.5 162.5h0M177.0 163.6h0M192.5 165.2h0M199.3 166.1h0M201.6 166.9h0M211.1 168.3h0M217.5 168.3h0M220.5 169.1h0M229.9 170.6h0M233.3 170.6h0M164.3 165.2h0M170.0 166.2h0M173.1 166.7h0M176.4 166.6h0M179.4 167.4h0M182.6 167.7h0M186.0 168.5h0M213.8 171.1h0M220.0 172.1h0M223.7 172.9h0M226.8 172.9h0M229.5 173.7h0M233.3 173.7h0M176.3 170.6h0M210.5 174.6h0M213.1 174.2h0M216.3 174.7h0M222.4 176.2h0M229.5 176.5h0M233.3 177.0h0M166.2 171.9h0M172.2 172.9h0M175.8 173.6h0M184.6 174.4h0M225.9 179.3h0M162.8 175.4h0M172.2 176.0h0M175.2 176.3h0M178.0 176.7h0M181.6 177.3h0M184.7 178.0h0M224.7 182.2h0M162.3 177.8h0M171.0 178.8h0M174.0 179.8h0M177.9 179.7h0M180.5 180.6h0M186.8 181.4h0M193.6 181.9h0M161.2 181.3h0M164.1 181.2h0M173.7 182.7h0M177.4 183.3h0M202.0 185.8h0M233.3 190.0h0M164.2 184.9h0M186.0 187.1h0M191.9 188.2h0M202.1 189.3h0M160.5 187.4h0M170.3 189.1h0M179.4 190.1h0M182.7 190.6h0M185.1 190.8h0M213.1 194.3h0M159.8 190.7h0M163.4 190.9h0M166.1 191.2h0M169.0 192.1h0M181.6 193.3h0M184.5 193.5h0M187.7 194.5h0M200.5 195.8h0M162.5 193.8h0M169.1 195.2h0M175.4 195.6h0M178.0 195.8h0M181.5 196.1h0M187.5 197.3h0M193.6 197.8h0M197.0 198.6h0M203.3 199.3h0M209.4 199.9h0M158.9 197.4h0M162.3 197.7h0M180.5 199.8h0M184.0 199.8h0M187.1 200.4h0M212.0 203.5h0M161.3 200.6h0M180.8 203.0h0M183.8 202.8h0M186.4 203.2h0M189.7 204.2h0M193.1 204.2h0M220.9 207.4h0M158.1 203.1h0M163.8 203.7h0M167.3 204.1h0M176.9 206.0h0M183.4 205.8h0M186.0 206.4h0M189.1 206.6h0M195.3 207.8h0M201.8 208.9h0M166.7 207.2h0M176.0 208.8h0M179.0 209.3h0M185.4 209.7h0M188.5 210.0h0M191.6 210.7h0M201.3 211.9h0M207.2 212.1h0M210.6 212.4h0M160.3 210.4h0M163.0 209.9h0M166.6 210.5h0M169.3 211.2h0M179.1 212.3h0" stroke="#0000df"/><path d="M199.8 23.1h0M213.9 107.8h0M191.5 130.1h0M194.9 131.0h0M229.1 134.6h0M191.2 133.3h0M197.2 134.2h0M200.6 134.1h0M233.3 144.6h0M230.2 147.8h0M233.3 147.9h0M207.6 148.5h0M226.9 150.8h0M230.3 151.0h0M233.3 151.3h0M188.6 149.6h0M192.2 149.3h0M194.6 150.1h0M207.1 151.2h0M198.2 153.6h0M228.6 156.9h0M188.0 155.5h0M190.5 156.1h0M194.1 156.7h0M168.2 156.0h0M171.9 156.5h0M181.4 158.3h0M190.1 158.7h0M199.8 159.9h0M224.6 163.0h0M227.8 163.4h0M230.7 163.7h0M180.1 160.7h0M184.1 161.4h0M186.9 161.6h0M189.5 161.7h0M199.1 163.8h0M202.0 163.4h0M211.9 164.6h0M215.2 165.0h0M218.0 165.8h0M224.0 166.4h0M170.9 162.8h0M174.0 163.0h0M180.5 164.1h0M183.2 164.2h0M186.7 164.8h0M204.7 167.2h0M208.6 168.0h0M223.8 169.9h0M226.9 169.4h0M189.2 168.3h0M192.2 169.0h0M194.9 169.5h0M198.7 170.0h0M201.7 170.2h0M233.2 173.9h0M163.7 168.5h0M172.9 170.1h0M179.5 170.2h0M185.5 171.7h0M191.4 172.2h0M194.6 172.4h0M198.2 173.0h0M200.5 173.4h0M204.5 173.7h0M220.1 175.7h0M232.0 176.7h0M181.6 173.8h0M187.5 175.0h0M194.2 176.0h0M212.6 177.5h0M216.3 178.3h0M221.9 179.1h0M233.3 180.0h0M187.4 178.0h0M209.2 180.1h0M212.7 181.3h0M215.3 181.2h0M218.3 181.6h0M221.4 182.0h0M227.8 183.1h0M164.8 178.2h0M168.5 178.9h0M183.9 181.0h0M189.8 181.5h0M196.2 182.2h0M199.9 182.3h0M203.1 183.1h0M221.6 185.1h0M227.7 185.6h0M167.4 181.7h0M186.5 183.9h0M189.8 184.4h0M195.9 185.0h0M214.2 187.5h0M224.3 188.4h0M227.2 189.4h0M230.8 189.5h0M167.0 185.0h0M170.0 185.5h0M173.9 185.7h0M198.1 188.4h0M205.1 190.0h0M207.7 189.8h0M213.6 190.5h0M217.2 191.4h0M226.2 192.7h0M232.5 193.0h0M166.2 188.4h0M176.0 189.6h0M200.9 191.9h0M203.9 193.2h0M210.7 193.3h0M223.2 195.0h0M233.3 196.1h0M178.8 193.2h0M191.6 194.7h0M194.5 194.6h0M210.4 196.9h0M218.9 198.1h0M232.0 199.0h0M233.3 199.5h0M165.5 194.3h0M172.0 195.8h0M184.4 196.6h0M200.1 198.7h0M212.4 200.0h0M216.3 200.8h0M231.7 202.5h0M165.2 197.6h0M168.8 197.8h0M174.7 198.9h0M178.1 199.7h0M190.2 200.7h0M193.1 201.2h0M196.3 201.1h0M199.4 201.7h0M206.0 202.1h0M208.7 203.2h0M215.6 203.5h0M221.4 204.0h0M227.5 205.0h0M233.3 205.7h0M164.3 200.7h0M167.8 201.2h0M170.9 201.7h0M177.6 202.1h0M195.7 204.8h0M198.7 204.8h0M201.9 205.9h0M205.0 205.8h0M211.9 206.6h0M214.3 206.5h0M227.4 207.8h0M229.9 208.8h0M233.3 209.2h0M161.1 203.7h0M174.1 205.4h0M179.9 205.9h0M192.7 207.3h0M199.0 208.4h0M205.4 209.1h0M211.4 209.9h0M217.4 210.5h0M220.8 210.4h0M223.9 210.7h0M230.4 211.5h0M233.3 212.3h0M161.1 206.5h0M163.9 207.2h0M170.4 208.2h0M173.3 208.2h0M182.5 209.5h0M194.9 211.3h0M204.7 212.1h0M157.2 209.7h0M172.6 211.7h0M175.9 211.9h0" stroke="#0000ef"/><path d="M193.3 21.7h0M197.2 22.8h0M233.1 39.5h0M233.3 39.6h0M211.8 97.3h0M214.3 97.6h0M214.2 100.7h0M200.7 131.5h0M226.6 134.8h0M185.4 132.7h0M194.3 134.3h0M222.8 137.6h0M225.6 138.0h0M228.6 137.6h0M233.3 138.5h0M218.7 143.5h0M224.6 143.6h0M233.5 151.3h0M220.1 153.2h0M233.3 157.9h0M189.6 165.6h0M182.0 170.5h0M188.4 172.1h0M169.7 172.3h0M178.8 173.7h0M191.4 174.9h0M197.0 175.8h0M200.3 176.3h0M204.1 176.4h0M206.7 177.4h0M210.0 177.3h0M193.4 178.3h0M200.2 179.1h0M203.4 179.7h0M205.8 180.2h0M205.4 183.0h0M211.6 183.7h0M218.2 184.4h0M224.0 185.5h0M231.2 185.8h0M199.3 185.6h0M205.7 186.3h0M208.5 187.2h0M218.0 187.6h0M220.6 188.7h0M220.4 191.2h0M223.6 192.0h0M233.3 192.9h0M207.4 193.5h0M217.2 194.2h0M220.0 194.8h0M229.0 195.7h0M232.0 196.0h0M212.8 196.9h0M216.3 197.8h0M222.8 198.5h0M225.8 198.6h0M228.4 198.4h0M219.0 200.6h0M222.2 201.0h0M225.0 202.0h0M224.3 205.2h0M231.0 205.3h0M218.2 206.8h0M224.0 207.9h0M208.0 208.8h0M227.3 211.6h0M233.5 211.8h0" stroke="#0000ff"/><path d="M209.4 27.6h0M221.2 32.1h0M205.7 94.0h0M208.6 94.2h0M212.0 94.1h0M217.7 98.1h0M211.4 100.7h0M213.7 104.1h0M216.5 104.1h0M210.8 106.8h0M210.6 110.2h0M212.9 110.4h0M189.0 129.5h0M231.7 137.9h0M190.6 136.1h0M225.7 140.8h0M207.5 174.3h0M196.9 179.0h0M208.6 183.3h0M215.0 184.3h0M211.5 187.1h0M210.8 190.6h0M230.0 193.0h0M226.5 194.9h0M227.9 202.4h0M233.3 202.9h0M218.1 204.6h0" stroke="#0010ff"/><path d="M184.4 18.3h0M205.7 27.0h0M214.7 31.1h0M217.6 31.0h0M227.2 35.5h0M207.8 97.3h0M217.5 101.5h0M220.7 101.9h0M210.7 103.9h0M220.2 104.5h0M204.2 131.4h0M233.3 135.4h0M203.8 135.0h0M187.5 135.9h0M194.2 136.8h0M221.9 139.8h0M193.9 140.6h0M202.9 141.2h0" stroke="#0020ff"/><path d="M202.8 26.7h0M215.2 94.8h0M221.1 98.8h0M204.5 103.5h0M207.5 131.8h0M232.8 135.5h0M182.1 131.8h0M196.9 137.1h0M206.3 138.4h0M228.4 140.9h0M184.4 138.9h0M189.7 142.7h0" stroke="#0030ff"/><path d="M181.0 17.1h0M190.0 21.4h0M223.4 34.9h0M185.8 101.1h0M195.3 127.6h0M223.0 133.9h0M207.1 135.4h0M219.7 136.8h0M184.3 135.6h0M203.3 138.5h0M177.5 138.5h0M187.6 139.2h0M190.7 139.3h0M196.7 140.2h0M209.4 141.9h0M177.5 141.7h0M186.4 142.4h0M196.5 144.1h0" stroke="#0040ff"/><path d="M208.8 29.8h0M214.9 66.4h0M208.2 100.5h0M201.1 102.4h0M223.4 105.2h0M192.3 127.0h0M185.3 129.1h0M169.8 131.3h0M180.6 138.3h0M206.4 141.7h0M205.3 144.3h0" stroke="#0050ff"/><path d="M187.0 21.2h0M196.3 25.6h0M211.8 31.0h0M220.6 35.3h0M202.8 89.8h0M206.2 90.3h0M202.2 93.0h0M205.3 97.0h0M223.6 101.7h0M183.1 100.9h0M189.5 127.0h0M210.1 132.8h0M209.8 135.3h0M181.7 135.3h0M202.5 144.8h0" stroke="#0060ff"/><path d="M199.5 26.2h0M205.3 29.4h0M208.5 90.5h0M213.2 113.4h0M206.1 116.3h0M209.7 116.6h0M230.9 118.6h0M171.9 115.2h0M177.3 115.8h0M184.3 116.5h0M205.8 119.0h0M209.0 119.2h0M218.0 127.0h0M229.8 128.1h0M182.5 125.8h0M186.2 126.4h0M217.4 130.1h0M179.5 129.1h0M181.9 128.7h0M216.9 132.9h0M220.2 133.5h0M178.6 132.3h0M178.1 135.0h0M199.8 137.5h0M209.5 138.8h0M180.3 142.1h0" stroke="#0070ff"/><path d="M181.2 20.2h0M184.3 21.4h0M193.5 25.2h0M217.2 34.1h0M230.0 38.7h0M212.4 91.6h0M218.1 95.2h0M204.9 100.0h0M198.7 102.0h0M223.2 108.6h0M197.3 111.6h0M200.4 111.8h0M210.1 113.4h0M225.6 114.9h0M188.0 114.1h0M199.5 115.2h0M202.7 115.4h0M212.5 116.8h0M222.2 118.1h0M225.2 118.3h0M227.8 118.2h0M233.3 119.1h0M174.1 115.8h0M180.9 116.0h0M187.2 117.4h0M199.6 118.4h0M202.8 118.6h0M231.1 122.5h0M233.3 122.2h0M171.1 118.4h0M173.9 118.5h0M186.7 120.5h0M189.9 120.3h0M215.2 123.9h0M217.6 124.2h0M220.7 124.0h0M224.1 125.0h0M227.3 124.8h0M230.5 124.9h0M233.3 125.6h0M186.2 123.2h0M226.9 128.3h0M210.6 129.6h0M214.2 130.2h0M220.0 130.0h0M232.9 132.4h0M213.2 133.0h0M172.3 131.7h0M169.2 134.5h0M172.0 134.7h0M175.3 134.7h0M208.8 145.4h0M179.0 148.4h0" stroke="#0080ff"/><path d="M214.4 34.0h0M232.5 42.2h0M217.7 66.8h0M232.0 84.0h0M233.3 84.1h0M202.0 99.6h0M195.2 104.9h0M222.6 114.3h0M196.9 115.3h0M190.0 117.6h0M183.8 120.2h0M183.5 122.6h0M189.7 124.0h0M192.4 123.5h0M220.8 127.8h0M223.7 127.7h0M179.9 125.2h0M223.5 131.2h0M226.7 131.3h0M230.1 131.8h0M233.3 132.1h0M175.7 131.6h0M182.4 148.3h0" stroke="#008fff"/><path d="M190.1 24.7h0M199.2 29.4h0M202.6 30.0h0M229.8 36.4h0M233.3 42.7h0M232.5 45.9h0M229.0 83.5h0M195.5 102.2h0M225.7 108.7h0M228.3 115.8h0M190.7 113.7h0M221.9 121.5h0M211.6 145.6h0M177.0 144.6h0" stroke="#009fff"/><path d="M187.0 24.3h0M208.4 33.5h0M233.3 45.8h0M233.3 49.2h0M199.1 89.6h0M199.1 92.8h0M207.3 103.4h0M226.3 105.5h0M229.9 105.9h0M181.9 103.8h0M185.6 104.3h0M203.9 105.7h0M194.7 108.0h0M232.0 115.4h0" stroke="#00afff"/><path d="M196.4 28.8h0M211.8 65.5h0M232.1 81.2h0M233.3 80.7h0M231.0 87.5h0M233.3 87.5h0M199.6 86.8h0M223.9 99.3h0M230.1 99.6h0M198.2 99.4h0M226.9 102.7h0M233.3 106.6h0M215.9 114.1h0M233.3 115.8h0M179.9 122.4h0M200.2 140.6h0M183.1 142.7h0" stroke="#00bfff"/><path d="M180.9 23.5h0M184.1 24.1h0M190.3 28.4h0M192.4 28.1h0M198.8 32.0h0M205.6 32.7h0M231.7 48.9h0M225.0 86.5h0M227.8 86.5h0M206.1 87.7h0M221.7 89.5h0M227.0 96.3h0M230.8 96.2h0M195.5 95.8h0M233.3 100.0h0M229.5 102.6h0M233.3 103.6h0M233.0 106.0h0M203.5 109.3h0M222.7 111.6h0M225.5 111.9h0M193.8 111.1h0M184.7 113.8h0M170.4 121.1h0" stroke="#00cfff"/><path d="M184.0 27.0h0M186.7 27.6h0M201.9 32.3h0M211.9 34.1h0M205.3 35.8h0M230.0 41.9h0M232.2 52.6h0M233.3 52.3h0M215.1 63.0h0M218.4 63.4h0M220.8 63.8h0M230.4 64.4h0M217.7 69.1h0M224.0 70.4h0M233.3 71.5h0M229.3 74.6h0M233.3 74.9h0M228.8 77.7h0M209.8 78.4h0M229.4 80.4h0M200.1 79.9h0M199.8 83.0h0M208.7 87.4h0M212.4 88.2h0M215.5 88.8h0M218.5 89.0h0M224.7 90.0h0M193.0 89.1h0M218.4 91.5h0M224.7 93.0h0M227.4 93.6h0M221.5 95.5h0M233.3 97.1h0M202.1 96.8h0M226.7 99.1h0M233.2 100.6h0M232.9 102.9h0M189.2 100.8h0M191.6 104.9h0M217.2 107.8h0M181.5 106.7h0M185.1 106.8h0M191.8 107.5h0M206.8 109.5h0M215.9 117.3h0M218.0 121.0h0M224.5 121.4h0M176.9 119.3h0M176.6 122.3h0M176.5 128.8h0M199.3 143.7h0M179.9 144.7h0" stroke="#00dfff"/><path d="M190.0 30.8h0M192.9 31.9h0M195.6 32.0h0M195.5 35.0h0M213.6 40.6h0M226.1 45.3h0M207.2 45.7h0M203.1 48.6h0M213.0 52.6h0M227.6 61.4h0M230.6 61.8h0M233.3 61.8h0M211.7 63.0h0M223.9 63.9h0M227.5 64.0h0M233.3 65.0h0M192.8 63.4h0M196.0 63.5h0M199.1 64.3h0M227.0 67.4h0M230.2 67.5h0M233.3 68.1h0M198.2 67.2h0M210.6 68.9h0M214.0 68.8h0M226.3 70.6h0M230.2 70.9h0M210.6 72.3h0M217.2 72.9h0M226.4 73.4h0M203.9 77.5h0M207.4 78.0h0M206.7 81.2h0M210.2 81.3h0M190.3 82.7h0M193.9 83.1h0M197.1 83.4h0M203.0 83.7h0M205.9 84.6h0M175.1 83.8h0M184.0 84.4h0M187.7 84.7h0M193.7 86.2h0M196.9 86.7h0M228.3 90.1h0M186.9 88.0h0M196.3 88.9h0M215.3 91.1h0M221.1 91.9h0M230.8 93.8h0M224.4 95.6h0M198.8 95.5h0M188.9 98.0h0M192.0 98.2h0M195.6 99.0h0M191.6 101.7h0M188.7 104.7h0M207.1 106.6h0M229.6 109.1h0M233.3 109.8h0M172.8 105.5h0M175.7 106.4h0M188.1 107.1h0M228.7 112.0h0M231.8 113.2h0M233.3 112.6h0M190.7 111.3h0M180.5 119.0h0" stroke="#00efff"/><path d="M180.1 27.1h0M180.0 29.7h0M183.6 30.6h0M186.5 31.0h0M186.3 33.9h0M198.6 35.8h0M201.6 35.4h0M207.6 36.8h0M210.9 36.7h0M220.6 38.1h0M223.6 37.9h0M226.4 39.0h0M195.5 38.0h0M198.7 38.8h0M201.2 39.1h0M205.0 39.0h0M207.3 39.5h0M220.2 40.7h0M222.8 41.1h0M194.8 41.6h0M219.9 44.5h0M229.3 45.6h0M194.6 44.0h0M213.2 46.5h0M219.7 47.5h0M228.7 49.0h0M197.6 48.4h0M210.1 49.8h0M212.8 50.1h0M215.8 50.7h0M218.9 50.3h0M225.6 51.6h0M203.2 51.8h0M205.9 52.5h0M209.2 55.6h0M220.4 67.1h0M232.8 68.5h0M186.4 66.0h0M220.7 70.2h0M233.0 71.6h0M232.9 74.3h0M198.1 73.4h0M207.6 74.8h0M232.3 77.4h0M233.3 77.9h0M200.8 76.6h0M203.3 80.9h0M187.5 81.9h0M212.2 85.3h0M177.4 83.8h0M181.4 84.3h0M190.3 85.3h0M203.1 86.5h0M174.9 86.6h0M180.7 88.0h0M183.8 88.3h0M190.1 88.8h0M233.3 93.6h0M183.3 90.6h0M189.5 91.7h0M192.6 92.3h0M195.9 92.3h0M189.3 95.3h0M193.0 95.2h0M186.4 97.6h0M172.6 102.9h0M179.4 103.1h0M220.0 108.1h0M232.6 109.9h0M178.8 106.5h0M172.3 109.1h0M233.3 128.8h0M182.9 145.6h0" stroke="#00ffff"/><path d="M189.5 34.7h0M192.0 35.1h0M214.4 37.7h0M217.2 38.1h0M211.1 39.8h0M217.1 40.7h0M226.0 42.2h0M197.8 41.3h0M206.9 42.9h0M210.1 42.8h0M213.2 43.8h0M217.0 44.3h0M197.7 44.8h0M210.1 46.3h0M216.1 47.1h0M225.4 48.4h0M200.7 48.0h0M228.9 51.6h0M209.5 52.9h0M228.7 54.5h0M208.4 65.7h0M223.6 67.0h0M198.2 70.2h0M184.8 75.7h0M184.8 78.6h0M194.3 79.9h0M209.3 84.8h0M231.5 90.5h0M177.4 87.2h0M186.8 91.2h0M186.0 94.2h0M182.9 97.0h0M172.8 99.5h0M176.7 99.3h0M179.5 100.0h0M175.6 103.2h0M171.7 111.9h0M218.5 117.9h0M233.5 128.9h0" stroke="#10ffef"/><path d="M223.2 44.6h0M222.2 51.4h0M227.6 58.3h0M224.3 60.4h0M192.5 67.0h0M195.7 66.9h0M207.9 71.8h0M188.7 72.6h0M191.4 73.0h0M225.9 76.8h0M219.0 85.8h0M233.3 90.4h0M174.5 90.0h0M180.7 90.5h0M187.7 110.8h0M181.7 113.6h0M215.0 119.8h0" stroke="#20ffdf"/><path d="M179.6 32.9h0M182.6 33.5h0M216.0 53.4h0M219.3 53.4h0M212.5 59.3h0M189.5 66.5h0M186.2 68.8h0M191.6 69.5h0M195.0 70.0h0M219.7 73.3h0M185.2 72.4h0M194.9 76.1h0M212.5 81.5h0M173.6 92.7h0M183.4 94.4h0M197.7 105.3h0M219.0 114.2h0M174.9 112.5h0M173.3 122.2h0" stroke="#30ffcf"/><path d="M192.3 37.4h0M221.6 60.6h0M194.4 73.2h0M215.6 85.3h0M176.9 90.5h0M177.3 93.0h0M173.9 96.5h0M179.3 97.1h0M175.8 109.1h0M178.7 109.5h0M181.7 109.6h0M185.1 110.6h0M176.8 125.1h0" stroke="#40ffbf"/><path d="M188.9 37.0h0M200.8 41.8h0M224.7 54.5h0M212.6 56.6h0M218.3 60.4h0M199.5 60.7h0M188.7 69.8h0M222.9 73.5h0M220.2 76.5h0M216.2 82.2h0M180.0 93.9h0M178.0 112.4h0" stroke="#50ffaf"/><path d="M206.7 49.0h0M200.2 51.2h0M176.5 96.5h0" stroke="#60ff9f"/><path d="M223.1 47.9h0M231.3 54.8h0M203.1 55.0h0M224.6 57.5h0M230.6 58.5h0M215.4 59.6h0M222.8 76.4h0" stroke="#70ff8f"/><path d="M233.3 55.2h0M215.5 56.1h0M218.6 57.1h0M222.0 57.1h0M233.3 58.9h0M197.2 77.0h0M173.1 124.7h0M170.2 127.2h0M173.2 127.8h0" stroke="#80ff80"/><path d="M170.2 124.9h0" stroke="#8fff70"/><path d="M179.4 36.1h0M185.4 37.5h0M196.7 51.0h0M197.6 79.4h0" stroke="#9fff60"/><path d="M191.2 41.1h0" stroke="#afff50"/><path d="M182.5 37.2h0M196.0 60.5h0" stroke="#bfff40"/><path d="M188.5 40.5h0M191.5 47.7h0M178.5 49.3h0M181.4 49.0h0M188.0 49.8h0" stroke="#dfff20"/><path d="M191.7 43.8h0M188.1 46.5h0M194.1 47.8h0M184.6 49.6h0M188.3 75.8h0" stroke="#efff10"/><path d="M182.7 39.9h0M190.3 50.1h0M193.5 50.7h0M202.3 57.8h0M191.0 75.5h0" stroke="#ffff00"/><path d="M185.0 40.1h0M185.0 43.6h0M187.9 43.6h0M185.1 47.0h0M208.6 62.5h0" stroke="#ffef00"/><path d="M179.3 39.6h0M181.9 43.4h0M192.6 60.2h0M202.8 61.7h0M203.8 112.2h0" stroke="#ffdf00"/><path d="M178.7 42.8h0M179.0 45.8h0M227.8 122.2h0" stroke="#ffcf00"/><path d="M181.6 46.4h0M199.7 57.6h0" stroke="#ffbf00"/><path d="M187.8 78.6h0" stroke="#ffaf00"/><path d="M222.4 54.1h0M193.1 54.5h0M200.0 54.5h0M205.9 58.8h0M208.6 59.0h0M205.4 62.1h0" stroke="#ff9f00"/><path d="M196.8 54.5h0M205.8 55.4h0M193.4 57.1h0M196.2 57.4h0" stroke="#ff8f00"/><path d="M204.2 42.1h0" stroke="#ff8000"/><path d="M190.8 79.2h0" stroke="#ff7000"/><path d="M200.6 106.2h0" stroke="#ff6000"/><path d="M204.2 45.5h0" stroke="#ff4000"/><path d="M206.3 112.9h0" stroke="#ff3000"/><path d="M216.2 111.1h0M219.6 110.7h0" stroke="#ff1000"/><path d="M201.2 45.6h0" stroke="#ff0000"/><path d="M198.1 109.0h0M200.8 108.7h0" stroke="#df0000"/></g>
</g>
<g transform="translate(196.20,486.60) scale(1.0000,1.0000)"><use href="#map"/></g>
<rect x="441.6" y="485.4" width="22.9" height="215.3" fill="url(#jet)" stroke="#1a1a1a" stroke-width="0.9"/>
<path d="M464.5 593.3h-2.4" stroke="#1a1a1a" stroke-width="0.9"/>
<text class="b" x="473.0" y="492.8" font-size="21.2">100</text>
<text class="b" x="473.0" y="599.9" font-size="21.2">50</text>
<text class="b" x="473.0" y="707.3" font-size="21.2">0</text>
<text class="b" x="240.4" y="466.6" font-size="12.3" text-anchor="end">100</text>
<circle class="d" cx="244.7" cy="453.8" r="1.4"/>
<text class="b" x="252.9" y="466.6" font-size="12.3">W</text>
<text class="b" x="301.1" y="466.6" font-size="12.3" text-anchor="end">90</text>
<circle class="d" cx="305.4" cy="453.8" r="1.4"/>
<text class="b" x="313.6" y="466.6" font-size="12.3">W</text>
<text class="b" x="365.5" y="466.6" font-size="12.3" text-anchor="end">80</text>
<circle class="d" cx="369.8" cy="453.8" r="1.4"/>
<text class="b" x="378.0" y="466.6" font-size="12.3">W</text>
<text class="b" x="427.9" y="466.6" font-size="12.3" text-anchor="end">70</text>
<circle class="d" cx="432.2" cy="453.8" r="1.4"/>
<text class="b" x="440.4" y="466.6" font-size="12.3">W</text>
<text class="b" x="163.8" y="503.1" font-size="12.3" text-anchor="end">48</text>
<circle class="d" cx="167.9" cy="490.3" r="1.45"/>
<text class="b" x="175.2" y="503.1" font-size="12.3">N</text>
<text class="b" x="163.8" y="521.0" font-size="12.3" text-anchor="end">46</text>
<circle class="d" cx="167.9" cy="508.2" r="1.45"/>
<text class="b" x="175.2" y="521.0" font-size="12.3">N</text>
<text class="b" x="163.8" y="538.1" font-size="12.3" text-anchor="end">44</text>
<circle class="d" cx="167.9" cy="525.3" r="1.45"/>
<text class="b" x="175.2" y="538.1" font-size="12.3">N</text>
<text class="b" x="163.8" y="557.0" font-size="12.3" text-anchor="end">42</text>
<circle class="d" cx="167.9" cy="544.2" r="1.45"/>
<text class="b" x="175.2" y="557.0" font-size="12.3">N</text>
<text class="b" x="163.8" y="573.1" font-size="12.3" text-anchor="end">40</text>
<circle class="d" cx="167.9" cy="560.3" r="1.45"/>
<text class="b" x="175.2" y="573.1" font-size="12.3">N</text>
<text class="b" x="163.8" y="587.9" font-size="12.3" text-anchor="end">38</text>
<circle class="d" cx="167.9" cy="575.1" r="1.45"/>
<text class="b" x="175.2" y="587.9" font-size="12.3">N</text>
<text class="b" x="163.8" y="605.1" font-size="12.3" text-anchor="end">36</text>
<circle class="d" cx="167.9" cy="592.3" r="1.45"/>
<text class="b" x="175.2" y="605.1" font-size="12.3">N</text>
<text class="b" x="163.8" y="618.8" font-size="12.3" text-anchor="end">34</text>
<circle class="d" cx="167.9" cy="606.0" r="1.45"/>
<text class="b" x="175.2" y="618.8" font-size="12.3">N</text>
<text class="b" x="163.8" y="636.2" font-size="12.3" text-anchor="end">32</text>
<circle class="d" cx="167.9" cy="623.4" r="1.45"/>
<text class="b" x="175.2" y="636.2" font-size="12.3">N</text>
<text class="b" x="163.8" y="650.0" font-size="12.3" text-anchor="end">30</text>
<circle class="d" cx="167.9" cy="637.2" r="1.45"/>
<text class="b" x="175.2" y="650.0" font-size="12.3">N</text>
<text class="b" x="163.8" y="662.7" font-size="12.3" text-anchor="end">28</text>
<circle class="d" cx="167.9" cy="649.9" r="1.45"/>
<text class="b" x="175.2" y="662.7" font-size="12.3">N</text>
<text class="b" x="163.8" y="677.7" font-size="12.3" text-anchor="end">26</text>
<circle class="d" cx="167.9" cy="664.9" r="1.45"/>
<text class="b" x="175.2" y="677.7" font-size="12.3">N</text>
<text class="b" x="163.8" y="691.8" font-size="12.3" text-anchor="end">24</text>
<circle class="d" cx="167.9" cy="679.0" r="1.45"/>
<text class="b" x="175.2" y="691.8" font-size="12.3">N</text>
<text class="b" x="163.8" y="704.9" font-size="12.3" text-anchor="end">22</text>
<circle class="d" cx="167.9" cy="692.1" r="1.45"/>
<text class="b" x="175.2" y="704.9" font-size="12.3">N</text>
<text class="b" x="139.2" y="730.9" font-size="23.1">SAT 300 hPa RH (Percent)</text>
<g transform="translate(617.20,486.60) scale(1.0000,1.0000)"><rect x="0" y="0" width="233.25" height="212.50" fill="#fff" stroke="#111" stroke-width="1"/></g>
<g transform="translate(617.20,486.60) scale(1.0000)">
<g fill="none" stroke-width="5.8" stroke-linecap="round"><path d="M191.4 9.1h0M194.9 9.8h0M219.5 12.2h0M216.5 15.5h0M190.7 15.3h0M203.3 16.8h0" stroke="#00008f"/><path d="M185.9 8.3h0M188.6 8.8h0M200.7 10.5h0M204.4 10.1h0M229.2 13.7h0M232.3 14.1h0M181.8 11.6h0M185.6 11.9h0M188.5 11.7h0M194.1 12.9h0M197.5 13.4h0M213.2 14.4h0M219.3 15.2h0M228.7 16.3h0M233.3 17.1h0M187.6 15.2h0M193.9 15.6h0M197.8 16.5h0M197.5 19.7h0M200.2 19.6h0M202.9 19.6h0M209.7 20.6h0M215.6 21.2h0M221.8 22.3h0M231.1 22.9h0M206.3 24.0h0M208.7 24.1h0M218.2 25.1h0M228.3 26.6h0M233.3 33.4h0" stroke="#00009f"/><path d="M197.5 9.7h0M207.8 11.4h0M210.6 11.5h0M213.2 11.2h0M216.7 11.6h0M222.5 12.8h0M226.0 13.5h0M233.3 14.0h0M191.1 12.1h0M200.6 13.8h0M204.2 13.3h0M206.7 14.5h0M210.1 15.0h0M222.5 16.4h0M226.0 16.0h0M231.6 17.4h0M181.7 14.2h0M184.5 14.9h0M207.1 17.4h0M209.4 18.1h0M212.7 17.8h0M216.4 18.2h0M219.0 18.3h0M221.9 19.2h0M225.2 19.6h0M228.5 19.8h0M232.2 20.2h0M233.3 20.5h0M181.7 17.1h0M184.1 18.2h0M190.4 18.8h0M194.3 18.6h0M206.8 20.2h0M213.0 21.3h0M228.1 23.4h0M233.3 23.5h0M190.3 22.1h0M194.0 22.2h0M212.3 24.5h0M215.3 25.2h0M221.9 25.8h0M225.1 26.0h0M233.3 27.0h0M209.2 26.7h0M218.0 28.4h0M221.4 28.7h0M224.9 28.7h0M227.2 29.1h0M193.2 28.8h0M214.8 30.8h0M220.5 34.7h0M233.3 36.1h0" stroke="#0000af"/><path d="M182.3 8.1h0M187.9 17.9h0M219.1 21.5h0M225.5 22.8h0M181.0 20.2h0M183.9 20.8h0M187.4 21.0h0M196.9 22.5h0M199.5 22.4h0M202.5 23.6h0M187.1 24.6h0M199.9 26.2h0M205.8 26.7h0M212.3 27.0h0M215.2 27.8h0M231.0 29.4h0M233.3 29.8h0M196.4 28.6h0M199.3 28.9h0M211.5 30.3h0M217.7 31.3h0M224.0 32.4h0M227.8 32.4h0M230.0 32.4h0M214.2 33.6h0M217.6 34.7h0M227.0 35.7h0M225.4 48.1h0M212.9 50.2h0M215.9 50.2h0M228.3 51.7h0M233.3 52.1h0M224.6 144.0h0M232.5 154.2h0M200.7 154.2h0M216.6 156.2h0M197.2 159.9h0M230.5 169.9h0M170.6 182.5h0M171.8 194.9h0M168.8 197.7h0M215.0 206.8h0M173.5 205.4h0M163.8 207.2h0M204.1 212.3h0" stroke="#0000bf"/><path d="M200.2 16.9h0M230.9 26.7h0M181.1 23.7h0M184.2 24.5h0M190.0 24.9h0M193.4 24.8h0M196.5 26.1h0M202.5 26.6h0M186.5 27.8h0M189.5 27.9h0M202.0 29.5h0M205.8 30.2h0M208.8 30.7h0M221.2 31.7h0M211.1 33.7h0M223.7 35.5h0M230.4 35.9h0M233.6 36.8h0M217.2 38.1h0M220.8 37.9h0M213.8 40.8h0M217.4 40.5h0M220.5 41.7h0M223.3 41.6h0M226.1 42.0h0M229.5 42.4h0M232.2 43.1h0M233.3 42.8h0M213.9 43.1h0M220.0 44.2h0M225.7 45.3h0M232.1 45.5h0M233.3 45.9h0M216.6 46.9h0M222.6 48.1h0M229.1 48.1h0M233.3 49.4h0M232.0 52.0h0M231.8 55.4h0M233.3 55.4h0M218.3 143.6h0M221.2 143.6h0M218.3 146.4h0M230.8 147.9h0M201.7 147.9h0M214.7 148.6h0M217.9 149.1h0M220.7 150.1h0M227.0 150.4h0M233.3 151.1h0M191.8 149.5h0M198.1 150.6h0M201.2 150.6h0M207.4 151.6h0M185.5 152.1h0M204.4 153.7h0M232.1 157.5h0M171.8 153.5h0M181.7 155.0h0M193.6 156.6h0M197.6 157.0h0M219.1 159.0h0M225.3 159.5h0M231.7 160.7h0M165.0 156.4h0M168.2 156.9h0M178.4 157.5h0M190.5 158.6h0M200.2 159.7h0M209.6 161.1h0M170.7 160.0h0M180.4 160.9h0M199.2 163.4h0M205.7 164.1h0M208.5 164.4h0M227.3 166.8h0M230.2 167.5h0M233.3 167.5h0M167.9 163.0h0M174.1 163.0h0M227.4 169.8h0M167.0 165.4h0M173.5 167.0h0M182.3 168.0h0M195.3 169.2h0M208.2 170.5h0M213.7 171.7h0M223.2 172.8h0M163.2 168.9h0M173.0 169.8h0M176.0 170.0h0M184.9 171.5h0M201.4 173.3h0M207.4 173.6h0M178.1 174.1h0M213.5 177.6h0M162.1 175.0h0M171.7 176.1h0M174.5 176.4h0M178.1 177.3h0M187.7 178.4h0M191.1 178.7h0M168.0 178.7h0M170.8 179.5h0M180.9 180.3h0M183.6 181.1h0M166.9 184.7h0M185.9 187.5h0M163.6 187.9h0M166.5 188.7h0M160.0 190.6h0M163.1 191.5h0M169.1 192.2h0M172.5 192.0h0M159.7 194.1h0M168.8 194.8h0M178.0 196.2h0M181.6 196.6h0M184.5 196.6h0M187.4 196.9h0M177.9 199.7h0M184.0 200.5h0M215.7 203.2h0M167.4 200.8h0M184.0 202.7h0M196.4 204.4h0M227.6 208.2h0M161.3 203.8h0M164.2 204.2h0M167.1 204.7h0M176.3 205.4h0M183.2 206.0h0M198.6 208.2h0M202.0 208.8h0M214.8 209.6h0M217.7 210.2h0M220.8 211.2h0M157.9 206.4h0M160.4 206.9h0M167.5 207.6h0M179.7 209.4h0M192.2 210.2h0M194.9 211.3h0M207.9 212.2h0M210.8 213.0h0M156.7 209.9h0M169.4 211.1h0M172.6 211.4h0" stroke="#0000cf"/><path d="M183.5 27.7h0M186.7 30.3h0M189.1 31.1h0M195.5 31.5h0M198.4 32.4h0M202.0 32.8h0M205.3 33.3h0M208.7 33.6h0M201.9 36.1h0M211.6 37.4h0M223.2 38.3h0M226.8 39.0h0M229.8 38.7h0M233.3 39.1h0M216.4 43.7h0M222.8 44.8h0M228.8 45.5h0M212.9 46.5h0M219.1 47.8h0M231.7 49.2h0M219.2 50.6h0M214.8 145.6h0M221.5 146.9h0M227.8 146.9h0M233.3 147.9h0M205.3 147.5h0M207.8 148.2h0M223.9 149.8h0M229.5 150.7h0M194.7 150.1h0M204.5 151.5h0M210.4 151.9h0M213.6 152.5h0M216.8 152.9h0M220.3 152.9h0M223.7 153.2h0M226.6 153.8h0M233.3 154.5h0M178.7 151.2h0M181.9 151.9h0M191.8 152.3h0M194.4 153.0h0M197.9 153.6h0M207.2 154.6h0M210.1 154.9h0M213.2 155.5h0M222.6 156.8h0M229.5 156.8h0M233.3 157.8h0M175.5 153.6h0M178.1 154.5h0M184.4 155.4h0M188.0 155.8h0M190.6 155.8h0M203.5 157.4h0M215.6 158.4h0M222.5 159.3h0M228.2 160.3h0M233.3 161.1h0M174.9 157.5h0M180.6 157.6h0M184.5 158.5h0M187.5 158.3h0M202.9 160.1h0M205.8 160.5h0M212.3 161.8h0M215.9 162.4h0M218.7 162.4h0M224.7 163.4h0M227.7 163.4h0M231.0 163.8h0M233.3 164.0h0M164.9 159.2h0M167.6 159.9h0M174.4 160.2h0M183.7 161.2h0M187.1 161.8h0M189.5 162.1h0M193.5 162.1h0M196.3 163.4h0M202.3 163.5h0M211.9 165.0h0M214.5 164.7h0M217.9 165.3h0M221.5 165.8h0M224.7 166.2h0M164.3 162.2h0M170.8 162.7h0M177.1 163.9h0M182.7 165.0h0M186.6 165.0h0M192.5 165.9h0M196.2 166.5h0M198.4 166.7h0M201.9 167.1h0M205.0 167.1h0M208.2 167.2h0M214.0 167.9h0M217.9 168.8h0M220.8 168.7h0M233.2 170.6h0M233.3 170.7h0M163.6 165.9h0M179.5 167.6h0M185.5 168.2h0M188.7 168.3h0M191.7 168.7h0M198.2 169.7h0M204.7 170.3h0M211.1 170.8h0M219.8 172.5h0M226.4 173.1h0M229.7 173.8h0M233.3 173.7h0M166.2 168.8h0M170.0 168.9h0M178.7 171.0h0M182.5 171.2h0M197.9 173.1h0M204.0 173.9h0M210.7 174.5h0M226.0 175.9h0M166.2 172.2h0M169.4 172.6h0M172.5 173.3h0M175.7 173.0h0M181.6 174.3h0M191.5 175.2h0M194.3 175.4h0M197.1 176.3h0M200.1 176.7h0M207.1 176.6h0M216.5 177.7h0M219.4 178.1h0M229.0 179.9h0M231.8 179.6h0M233.3 180.2h0M165.4 175.3h0M168.4 175.9h0M181.3 176.8h0M184.1 177.4h0M197.3 178.6h0M200.0 179.5h0M203.3 179.9h0M206.3 180.6h0M208.9 180.5h0M162.2 178.6h0M165.4 178.4h0M193.5 181.6h0M208.7 183.5h0M215.4 184.5h0M227.5 185.8h0M233.3 186.5h0M164.9 181.5h0M180.2 183.4h0M182.9 184.3h0M190.0 185.1h0M193.2 184.8h0M205.4 186.8h0M161.2 184.4h0M164.5 184.4h0M170.1 185.8h0M176.3 186.1h0M179.8 186.4h0M183.1 187.5h0M195.8 188.0h0M219.9 191.3h0M233.3 193.2h0M160.5 187.5h0M169.6 189.1h0M173.3 189.4h0M182.0 190.4h0M188.3 191.3h0M191.5 190.9h0M204.1 192.3h0M207.4 192.9h0M220.0 195.1h0M232.7 195.9h0M166.2 191.4h0M191.5 194.1h0M197.2 195.6h0M215.9 197.9h0M219.8 197.6h0M228.9 198.5h0M232.1 198.8h0M233.3 199.6h0M163.0 194.3h0M166.2 194.7h0M174.8 196.0h0M190.9 197.8h0M194.3 197.8h0M203.4 199.5h0M212.6 199.7h0M218.9 201.2h0M228.1 201.6h0M231.0 202.3h0M159.4 197.1h0M162.0 197.3h0M171.4 198.7h0M174.9 198.9h0M181.3 199.4h0M203.0 202.4h0M224.3 204.7h0M227.9 205.4h0M233.3 205.9h0M161.8 200.2h0M164.3 200.9h0M170.9 201.6h0M177.6 202.4h0M180.4 202.6h0M186.4 203.2h0M190.1 203.9h0M202.2 205.2h0M208.3 206.2h0M211.6 206.3h0M217.9 207.6h0M224.6 208.4h0M230.6 208.9h0M233.3 208.9h0M158.2 203.7h0M170.6 205.3h0M186.1 207.1h0M189.0 207.4h0M192.0 207.5h0M205.2 209.0h0M211.3 209.7h0M223.5 211.2h0M226.9 211.5h0M229.6 212.0h0M233.5 212.4h0M233.3 212.1h0M170.6 207.8h0M173.5 207.9h0M176.2 208.9h0M182.5 209.2h0M185.6 209.8h0M160.7 209.7h0M166.4 211.1h0M176.2 211.9h0M179.2 212.7h0M181.9 212.3h0" stroke="#0000df"/><path d="M180.8 27.1h0M179.6 30.3h0M183.3 30.2h0M192.1 31.9h0M186.2 34.4h0M195.9 35.0h0M205.0 36.4h0M214.2 37.6h0M233.3 39.7h0M189.1 37.8h0M210.8 39.9h0M210.6 46.8h0M228.4 54.6h0M230.8 58.4h0M191.3 133.3h0M200.5 134.1h0M224.5 147.0h0M211.6 148.8h0M232.9 151.4h0M186.2 149.0h0M189.0 149.1h0M229.4 153.6h0M188.4 152.0h0M220.1 156.6h0M226.0 157.0h0M199.9 156.8h0M206.2 158.0h0M209.5 158.1h0M212.5 158.5h0M171.7 156.7h0M193.2 159.2h0M222.1 162.6h0M177.2 160.3h0M180.5 164.3h0M189.0 165.6h0M211.2 168.2h0M223.5 169.2h0M170.1 166.1h0M176.4 167.2h0M201.8 169.8h0M217.2 171.6h0M233.2 173.6h0M188.2 171.3h0M191.6 172.1h0M194.3 172.6h0M213.2 174.3h0M216.1 175.0h0M219.5 175.1h0M222.6 175.3h0M228.9 176.2h0M232.3 177.2h0M233.3 176.7h0M163.3 172.2h0M184.6 174.4h0M187.8 175.0h0M203.8 176.2h0M209.9 177.0h0M221.9 178.9h0M194.1 179.0h0M212.9 180.4h0M215.2 181.6h0M221.4 182.3h0M228.2 183.0h0M231.6 182.6h0M233.3 183.1h0M174.2 179.7h0M177.6 179.8h0M186.6 180.7h0M189.9 181.4h0M196.1 182.3h0M199.2 182.6h0M202.4 183.3h0M212.2 184.2h0M217.8 185.1h0M221.1 184.9h0M224.4 186.0h0M231.2 186.8h0M161.1 181.5h0M168.0 181.9h0M174.2 182.7h0M177.4 182.6h0M186.1 183.9h0M199.2 186.2h0M201.8 185.7h0M208.6 187.3h0M211.4 187.1h0M214.2 187.3h0M223.6 188.5h0M230.3 189.5h0M173.9 185.9h0M189.4 187.7h0M191.9 188.6h0M198.7 188.8h0M201.2 188.9h0M223.1 191.6h0M226.8 192.1h0M229.7 192.7h0M232.7 192.8h0M175.8 189.4h0M179.7 189.6h0M195.0 191.5h0M198.0 192.0h0M201.5 192.4h0M216.8 194.2h0M225.7 195.7h0M229.0 196.1h0M233.3 196.4h0M175.3 192.3h0M179.1 193.2h0M203.6 196.2h0M207.0 196.7h0M210.4 196.8h0M212.7 197.2h0M222.2 198.3h0M225.9 199.0h0M197.4 198.7h0M199.9 199.1h0M209.3 199.8h0M216.1 200.6h0M221.8 201.0h0M225.2 201.4h0M165.0 197.7h0M187.1 200.0h0M190.5 200.3h0M199.9 201.7h0M208.9 202.6h0M212.1 203.8h0M221.7 204.4h0M230.8 205.7h0M158.6 199.7h0M192.8 204.1h0M199.4 205.2h0M205.3 205.7h0M221.0 207.5h0M180.2 205.7h0M195.9 208.1h0M207.8 209.5h0M188.4 210.0h0M198.7 211.0h0M201.1 211.3h0M163.6 210.5h0M156.9 212.4h0" stroke="#0000ef"/><path d="M180.2 33.4h0M189.1 34.4h0M192.7 35.0h0M198.7 35.1h0M207.7 36.9h0M195.1 38.7h0M212.9 53.3h0M197.5 131.3h0M187.9 132.8h0M194.2 133.4h0M233.3 144.9h0M226.0 179.4h0M219.2 181.2h0M225.2 182.4h0M205.4 183.0h0M196.3 185.0h0M218.2 187.5h0M220.6 188.2h0M226.8 188.7h0M233.3 189.8h0M204.4 189.8h0M207.6 189.5h0M210.7 190.6h0M217.2 190.8h0M185.2 190.6h0M210.6 193.6h0M213.6 193.5h0M222.8 194.9h0M182.3 193.7h0M188.3 194.4h0M200.1 195.5h0M206.7 199.3h0M233.3 202.6h0M193.0 201.1h0M196.3 201.7h0M206.1 202.5h0M218.0 203.8h0" stroke="#0000ff"/><path d="M182.6 33.5h0M197.8 38.3h0M210.9 42.8h0M191.8 130.2h0M195.3 131.2h0M197.1 134.6h0M231.4 144.9h0M214.1 190.9h0M185.2 194.0h0M194.7 194.6h0" stroke="#0010ff"/><path d="M192.2 38.3h0M227.6 58.0h0M191.1 136.8h0M193.8 137.3h0M190.8 139.5h0" stroke="#0020ff"/><path d="M233.3 58.7h0M215.9 117.6h0M227.6 144.3h0" stroke="#0030ff"/><path d="M200.7 131.0h0M203.5 134.9h0M185.0 135.4h0M187.7 136.5h0M200.7 137.3h0M180.3 141.5h0M186.7 142.1h0M193.0 143.4h0" stroke="#0040ff"/><path d="M188.8 129.8h0M204.0 132.0h0M184.7 132.8h0M197.4 137.6h0M233.3 141.8h0M193.8 139.9h0M196.8 140.1h0M183.7 142.2h0M189.9 142.8h0" stroke="#0050ff"/><path d="M222.4 50.5h0M210.9 101.1h0M207.4 135.0h0M184.1 138.9h0M173.7 202.5h0" stroke="#0060ff"/><path d="M225.7 51.7h0M215.7 53.6h0M205.5 93.4h0M212.4 117.0h0M185.9 129.2h0M231.1 141.3h0M187.0 139.4h0M177.5 141.3h0" stroke="#0070ff"/><path d="M214.4 66.2h0M210.9 103.6h0M215.9 114.2h0M215.7 120.1h0M180.9 135.2h0M208.7 141.8h0M186.5 146.0h0" stroke="#0080ff"/><path d="M205.8 55.9h0M212.8 56.3h0M233.3 61.6h0M208.6 93.8h0M222.7 108.4h0M222.6 111.5h0M213.1 113.2h0M233.3 115.9h0M191.7 126.7h0M232.6 135.2h0M181.4 132.4h0M203.8 138.0h0M177.4 138.1h0M205.9 141.8h0M205.7 145.2h0M208.5 145.5h0M189.6 146.1h0M192.8 146.7h0" stroke="#008fff"/><path d="M218.5 53.6h0M212.5 58.9h0M231.1 61.7h0M228.6 83.8h0M231.6 84.2h0M211.6 97.5h0M219.6 114.5h0M228.5 115.8h0M190.2 114.4h0M218.3 117.3h0M233.3 119.1h0M189.9 117.0h0M186.8 119.8h0M214.8 123.3h0M217.7 123.3h0M220.9 124.6h0M214.4 126.8h0M220.7 127.7h0M185.6 126.2h0M207.8 131.8h0M210.3 132.1h0M222.8 133.9h0M233.3 135.4h0M210.4 135.7h0M222.7 136.9h0M175.0 135.0h0M206.6 138.2h0M210.0 138.4h0M180.9 138.1h0M203.3 141.0h0M176.9 144.1h0" stroke="#009fff"/><path d="M225.0 54.7h0M202.8 54.7h0M224.4 58.1h0M202.9 58.1h0M233.3 83.9h0M227.9 86.9h0M231.6 86.8h0M206.2 90.1h0M220.1 108.4h0M219.8 110.8h0M222.7 114.7h0M231.4 115.7h0M187.2 113.7h0M196.4 114.6h0M221.8 117.5h0M225.4 118.1h0M230.8 118.9h0M171.0 114.8h0M174.7 115.0h0M177.5 115.8h0M184.2 116.3h0M187.3 117.1h0M218.5 121.1h0M174.0 118.4h0M183.5 119.4h0M189.4 120.3h0M186.6 123.1h0M189.8 123.2h0M192.2 124.0h0M217.6 127.1h0M182.8 125.8h0M188.7 126.8h0M214.0 130.1h0M217.0 130.3h0M220.0 130.7h0M223.2 130.7h0M182.4 129.6h0M213.6 132.9h0M229.7 134.7h0M219.5 137.0h0M168.4 133.7h0M171.7 133.9h0M178.1 135.1h0M211.3 146.0h0M195.2 146.7h0M182.4 148.2h0" stroke="#00afff"/><path d="M206.3 52.7h0M196.4 54.2h0M199.4 54.4h0M209.2 55.8h0M199.0 57.5h0M209.3 90.9h0M225.8 108.9h0M225.5 112.4h0M225.3 115.5h0M228.4 118.7h0M180.9 115.9h0M221.2 121.2h0M170.9 117.8h0M177.3 118.8h0M180.1 119.3h0M170.5 121.5h0M179.9 122.4h0M182.9 123.2h0M170.5 124.2h0M176.5 125.2h0M216.6 133.1h0M220.1 134.0h0M226.2 134.7h0M169.0 130.5h0M175.4 131.6h0M178.4 131.8h0M221.9 140.5h0" stroke="#00bfff"/><path d="M200.5 51.8h0M203.5 52.2h0M195.9 57.2h0M181.2 113.6h0M184.6 113.8h0M174.2 122.0h0M177.0 122.3h0M173.5 124.9h0M179.4 125.9h0M170.1 128.0h0M172.6 127.9h0M172.1 131.7h0M183.0 145.1h0" stroke="#00cfff"/><path d="M201.1 45.7h0M207.1 48.7h0M209.9 52.9h0M222.0 53.7h0M215.5 59.6h0M211.1 65.9h0M232.9 68.3h0M233.3 68.2h0M233.3 87.3h0M180.7 84.0h0M177.8 87.6h0M196.6 89.2h0M174.2 89.5h0M195.8 92.5h0M202.4 92.9h0M174.2 93.0h0M195.8 95.9h0M208.1 96.7h0M214.2 97.7h0M201.5 99.5h0M198.2 105.5h0M210.4 109.8h0M233.3 112.6h0M176.2 128.2h0M179.9 148.2h0" stroke="#00dfff"/><path d="M201.4 38.7h0M197.6 41.7h0M204.2 42.3h0M207.0 43.0h0M197.4 45.1h0M200.1 48.1h0M203.9 49.3h0M209.4 50.0h0M218.9 56.5h0M221.8 57.6h0M218.2 60.6h0M215.0 62.9h0M218.0 63.4h0M224.0 64.5h0M220.8 67.0h0M224.3 67.1h0M230.5 67.4h0M211.4 68.6h0M223.4 70.1h0M226.6 70.5h0M229.5 71.1h0M207.1 75.2h0M204.3 77.8h0M199.9 83.3h0M219.0 85.9h0M224.7 86.0h0M187.7 85.0h0M190.4 85.6h0M174.5 86.4h0M184.2 87.6h0M187.4 88.4h0M189.8 88.2h0M224.8 92.5h0M176.8 90.0h0M180.9 91.1h0M183.7 90.8h0M193.2 91.6h0M215.0 94.4h0M230.4 97.1h0M233.3 97.1h0M186.8 94.4h0M198.7 96.1h0M205.1 96.8h0M230.5 99.5h0M173.1 96.5h0M176.3 96.6h0M205.2 100.4h0M207.9 100.0h0M232.5 102.9h0M173.0 99.8h0M176.7 99.9h0M179.1 100.3h0M207.4 103.9h0M233.3 106.3h0M175.7 103.3h0M185.3 104.4h0M188.5 104.0h0M194.7 105.3h0M201.1 106.2h0M210.7 106.6h0M232.4 109.8h0M233.3 109.7h0M173.0 105.3h0M175.4 105.5h0M185.4 106.7h0M188.6 107.6h0M191.4 108.2h0M197.4 108.2h0M232.3 113.2h0M191.3 111.3h0M197.3 111.5h0M171.9 111.6h0M174.7 112.0h0M209.1 116.8h0M200.0 118.2h0M232.7 132.2h0M178.9 128.3h0" stroke="#00efff"/><path d="M204.7 39.5h0M207.7 40.0h0M197.4 47.7h0M197.3 50.9h0M215.9 56.7h0M221.1 60.5h0M225.0 61.0h0M227.6 61.7h0M211.6 62.3h0M221.3 63.3h0M227.8 64.7h0M230.0 64.3h0M233.3 64.9h0M226.9 67.1h0M214.0 69.1h0M217.8 69.9h0M233.3 71.4h0M233.3 71.6h0M211.0 72.1h0M210.0 74.9h0M200.5 76.7h0M194.4 83.0h0M196.7 83.2h0M177.5 83.7h0M193.8 86.2h0M196.6 86.0h0M199.7 86.1h0M202.8 87.1h0M211.8 87.9h0M215.3 88.6h0M218.2 88.7h0M221.7 89.5h0M225.2 89.7h0M227.6 90.2h0M180.7 87.7h0M199.9 89.6h0M202.6 89.7h0M212.1 91.3h0M214.9 92.0h0M218.8 92.3h0M228.0 92.8h0M211.8 93.9h0M176.9 93.5h0M180.5 93.8h0M183.3 94.1h0M189.0 95.1h0M201.6 96.0h0M233.5 100.2h0M233.3 100.4h0M180.2 96.4h0M189.6 98.4h0M192.2 98.3h0M195.5 98.3h0M229.5 103.3h0M233.3 103.4h0M188.7 101.4h0M191.7 101.3h0M198.5 102.2h0M204.6 102.8h0M229.8 105.6h0M179.6 102.8h0M182.3 103.9h0M191.7 104.9h0M178.8 106.3h0M194.2 107.9h0M203.9 109.1h0M207.1 109.3h0M228.4 112.3h0M172.2 109.0h0M193.9 111.2h0M209.3 113.2h0M178.1 112.5h0M208.5 119.7h0M233.3 132.1h0M228.7 140.9h0M180.0 145.2h0" stroke="#00ffff"/><path d="M207.8 71.2h0M213.6 72.0h0M232.9 75.0h0M233.3 74.6h0M206.9 77.9h0M206.2 84.1h0M215.6 85.7h0M221.8 86.4h0M184.1 84.3h0M206.5 87.6h0M193.0 89.1h0M186.8 91.6h0M189.7 91.9h0M198.8 92.8h0M227.6 96.5h0M193.0 95.5h0M198.1 99.6h0M183.0 100.4h0M185.3 100.6h0M194.9 102.1h0M201.5 103.1h0M214.0 103.8h0M226.2 105.4h0M232.4 106.7h0M172.7 102.5h0M207.8 106.3h0M229.2 108.7h0M181.9 106.5h0M200.6 109.1h0M174.9 108.9h0M207.2 113.0h0M205.6 118.7h0M233.3 122.4h0M224.3 124.3h0M226.8 131.6h0" stroke="#10ffef"/><path d="M220.2 69.8h0M229.6 74.4h0M210.1 78.0h0M197.3 79.9h0M207.0 80.9h0M209.4 87.8h0M221.5 91.9h0M227.4 99.3h0M182.7 97.1h0M214.6 100.7h0M178.9 109.2h0M200.4 112.6h0M224.8 121.9h0M224.3 127.6h0" stroke="#20ffdf"/><path d="M217.3 72.7h0M213.2 75.6h0M231.8 81.2h0M181.6 109.7h0M184.7 109.9h0M187.4 111.2h0M231.0 121.8h0" stroke="#30ffcf"/><path d="M228.6 80.3h0M233.3 81.0h0M203.9 80.4h0M203.3 83.6h0M204.4 106.2h0M199.8 115.2h0M202.5 118.7h0M230.0 131.7h0" stroke="#40ffbf"/><path d="M216.1 78.5h0M200.9 80.4h0M209.7 84.3h0M212.3 85.1h0" stroke="#50ffaf"/><path d="M213.8 78.8h0M213.3 81.5h0M222.8 105.4h0M203.4 112.4h0M206.0 115.9h0M233.4 129.0h0M225.1 140.5h0" stroke="#60ff9f"/><path d="M217.0 75.5h0M210.2 81.0h0M216.1 82.2h0M218.4 95.2h0M185.9 97.2h0M203.6 115.9h0M227.5 124.6h0M230.4 125.4h0M226.8 128.5h0M233.3 129.1h0" stroke="#70ff8f"/><path d="M201.4 42.5h0M224.3 96.0h0M229.9 128.7h0" stroke="#80ff80"/><path d="M207.4 45.7h0M228.9 77.0h0M232.1 77.9h0M228.1 121.5h0M233.3 125.9h0" stroke="#8fff70"/><path d="M233.3 77.9h0M221.0 95.4h0M226.4 102.7h0M226.1 137.9h0" stroke="#9fff60"/><path d="M187.6 46.5h0M230.8 93.8h0" stroke="#afff50"/><path d="M217.5 98.0h0M233.3 138.2h0" stroke="#bfff40"/><path d="M198.1 76.7h0" stroke="#cfff30"/><path d="M220.2 105.0h0M232.3 138.5h0" stroke="#efff10"/><path d="M231.5 90.3h0M224.4 99.2h0M229.3 137.9h0" stroke="#ffff00"/><path d="M220.4 72.9h0M226.6 73.8h0" stroke="#ffef00"/><path d="M218.1 66.2h0M233.3 93.6h0" stroke="#ffdf00"/><path d="M219.4 76.2h0" stroke="#ffcf00"/><path d="M223.1 73.9h0M233.3 90.5h0" stroke="#ffbf00"/><path d="M203.7 45.4h0M223.0 77.0h0M225.6 76.6h0M220.4 101.4h0M224.0 102.6h0" stroke="#ffaf00"/><path d="M220.3 99.0h0M217.7 101.3h0" stroke="#ff9f00"/></g>
</g>
<g transform="translate(617.20,486.60) scale(1.0000,1.0000)"><use href="#map"/></g>
<rect x="862.6" y="485.4" width="22.9" height="215.3" fill="url(#jet)" stroke="#1a1a1a" stroke-width="0.9"/>
<path d="M885.5 593.3h-2.4" stroke="#1a1a1a" stroke-width="0.9"/>
<text class="b" x="894.0" y="492.8" font-size="21.2">100</text>
<text class="b" x="894.0" y="599.9" font-size="21.2">50</text>
<text class="b" x="894.0" y="707.3" font-size="21.2">0</text>
<text class="b" x="661.4" y="466.6" font-size="12.3" text-anchor="end">100</text>
<circle class="d" cx="665.7" cy="453.8" r="1.4"/>
<text class="b" x="673.9" y="466.6" font-size="12.3">W</text>
<text class="b" x="722.1" y="466.6" font-size="12.3" text-anchor="end">90</text>
<circle class="d" cx="726.4" cy="453.8" r="1.4"/>
<text class="b" x="734.6" y="466.6" font-size="12.3">W</text>
<text class="b" x="786.5" y="466.6" font-size="12.3" text-anchor="end">80</text>
<circle class="d" cx="790.8" cy="453.8" r="1.4"/>
<text class="b" x="799.0" y="466.6" font-size="12.3">W</text>
<text class="b" x="848.9" y="466.6" font-size="12.3" text-anchor="end">70</text>
<circle class="d" cx="853.2" cy="453.8" r="1.4"/>
<text class="b" x="861.4" y="466.6" font-size="12.3">W</text>
<text class="b" x="584.8" y="503.1" font-size="12.3" text-anchor="end">48</text>
<circle class="d" cx="588.9" cy="490.3" r="1.45"/>
<text class="b" x="596.2" y="503.1" font-size="12.3">N</text>
<text class="b" x="584.8" y="521.0" font-size="12.3" text-anchor="end">46</text>
<circle class="d" cx="588.9" cy="508.2" r="1.45"/>
<text class="b" x="596.2" y="521.0" font-size="12.3">N</text>
<text class="b" x="584.8" y="538.1" font-size="12.3" text-anchor="end">44</text>
<circle class="d" cx="588.9" cy="525.3" r="1.45"/>
<text class="b" x="596.2" y="538.1" font-size="12.3">N</text>
<text class="b" x="584.8" y="557.0" font-size="12.3" text-anchor="end">42</text>
<circle class="d" cx="588.9" cy="544.2" r="1.45"/>
<text class="b" x="596.2" y="557.0" font-size="12.3">N</text>
<text class="b" x="584.8" y="573.1" font-size="12.3" text-anchor="end">40</text>
<circle class="d" cx="588.9" cy="560.3" r="1.45"/>
<text class="b" x="596.2" y="573.1" font-size="12.3">N</text>
<text class="b" x="584.8" y="587.9" font-size="12.3" text-anchor="end">38</text>
<circle class="d" cx="588.9" cy="575.1" r="1.45"/>
<text class="b" x="596.2" y="587.9" font-size="12.3">N</text>
<text class="b" x="584.8" y="605.1" font-size="12.3" text-anchor="end">36</text>
<circle class="d" cx="588.9" cy="592.3" r="1.45"/>
<text class="b" x="596.2" y="605.1" font-size="12.3">N</text>
<text class="b" x="584.8" y="618.8" font-size="12.3" text-anchor="end">34</text>
<circle class="d" cx="588.9" cy="606.0" r="1.45"/>
<text class="b" x="596.2" y="618.8" font-size="12.3">N</text>
<text class="b" x="584.8" y="636.2" font-size="12.3" text-anchor="end">32</text>
<circle class="d" cx="588.9" cy="623.4" r="1.45"/>
<text class="b" x="596.2" y="636.2" font-size="12.3">N</text>
<text class="b" x="584.8" y="650.0" font-size="12.3" text-anchor="end">30</text>
<circle class="d" cx="588.9" cy="637.2" r="1.45"/>
<text class="b" x="596.2" y="650.0" font-size="12.3">N</text>
<text class="b" x="584.8" y="662.7" font-size="12.3" text-anchor="end">28</text>
<circle class="d" cx="588.9" cy="649.9" r="1.45"/>
<text class="b" x="596.2" y="662.7" font-size="12.3">N</text>
<text class="b" x="584.8" y="677.7" font-size="12.3" text-anchor="end">26</text>
<circle class="d" cx="588.9" cy="664.9" r="1.45"/>
<text class="b" x="596.2" y="677.7" font-size="12.3">N</text>
<text class="b" x="584.8" y="691.8" font-size="12.3" text-anchor="end">24</text>
<circle class="d" cx="588.9" cy="679.0" r="1.45"/>
<text class="b" x="596.2" y="691.8" font-size="12.3">N</text>
<text class="b" x="584.8" y="704.9" font-size="12.3" text-anchor="end">22</text>
<circle class="d" cx="588.9" cy="692.1" r="1.45"/>
<text class="b" x="596.2" y="704.9" font-size="12.3">N</text>
<text class="b" x="560.2" y="730.9" font-size="23.1">SAT 350 hPa RH (Percent)</text>
<g transform="translate(1037.90,485.70) scale(1.0058,1.0092)"><rect x="0" y="0" width="233.25" height="212.50" fill="#fff" stroke="#111" stroke-width="1"/></g>
<g transform="translate(1038.80,485.70) scale(1.0058)">
<g fill="none" stroke-width="5.8" stroke-linecap="round"><path d="M191.5 9.4h0M202.8 22.8h0M183.7 23.7h0M223.0 41.7h0M232.5 176.4h0M230.5 186.2h0M229.7 192.7h0" stroke="#0000af"/><path d="M185.6 8.0h0M195.0 9.6h0M206.9 11.3h0M226.6 13.7h0M232.0 13.8h0M201.2 13.9h0M210.3 14.1h0M223.0 15.9h0M228.8 16.6h0M181.4 14.5h0M187.8 15.2h0M193.9 15.6h0M197.3 16.6h0M200.4 17.0h0M216.4 18.2h0M181.5 17.2h0M191.2 19.0h0M209.3 21.0h0M216.2 21.5h0M218.6 21.8h0M222.5 22.3h0M231.3 23.5h0M233.3 23.9h0M205.9 23.4h0M215.1 24.7h0M227.6 25.8h0M180.9 24.2h0M199.0 25.8h0M209.3 27.1h0M227.7 29.6h0M183.7 27.1h0M189.8 27.9h0M192.7 28.0h0M205.9 30.0h0M227.2 32.4h0M179.8 29.8h0M183.0 30.9h0M186.4 30.3h0M196.0 31.7h0M202.3 32.4h0M205.5 32.5h0M220.6 35.2h0M224.0 34.9h0M186.0 34.0h0M195.8 35.2h0M204.9 36.4h0M216.8 37.4h0M220.1 38.2h0M223.7 38.9h0M227.2 39.0h0M230.3 38.7h0M232.7 39.9h0M201.8 39.1h0M216.9 41.2h0M220.6 41.2h0M201.6 41.9h0M204.2 42.4h0M219.7 44.5h0M226.1 48.1h0M229.4 49.0h0M221.9 53.9h0M224.7 54.1h0M228.3 57.9h0M231.5 58.0h0M221.4 60.6h0M227.9 61.7h0M231.1 61.7h0M214.5 62.6h0M230.5 64.4h0M233.3 68.0h0M222.6 156.2h0M233.3 157.5h0M205.4 164.2h0M230.8 167.2h0M173.7 166.4h0M210.7 170.9h0M217.0 171.6h0M219.9 172.6h0M229.4 176.0h0M233.3 177.1h0M166.0 172.4h0M225.9 179.7h0M221.9 181.7h0M227.9 182.9h0M231.1 182.8h0M168.6 179.1h0M217.9 184.7h0M224.8 185.2h0M177.4 183.5h0M230.3 189.8h0M233.3 189.8h0M201.6 188.8h0M211.2 190.8h0M175.7 189.5h0M179.6 190.1h0M210.9 193.7h0M169.3 191.7h0M175.7 192.7h0M182.1 193.3h0M229.2 198.6h0M178.5 196.3h0M200.4 199.1h0M219.0 200.8h0M222.1 201.8h0M168.2 198.0h0M175.0 198.7h0M214.8 203.6h0M225.1 204.3h0M227.4 205.4h0M158.1 200.1h0M171.2 202.1h0M176.8 202.1h0M186.3 203.7h0M196.1 204.6h0M202.2 205.6h0M221.3 207.7h0M167.5 204.8h0M213.8 210.4h0M230.0 211.4h0M170.3 208.3h0M176.7 208.8h0M201.3 211.4h0M159.9 210.3h0M166.7 211.1h0" stroke="#0000bf"/><path d="M182.3 8.2h0M188.1 8.6h0M200.7 10.2h0M203.9 11.0h0M213.4 11.6h0M219.4 12.9h0M223.0 12.4h0M228.8 13.5h0M233.3 14.1h0M181.7 11.3h0M184.7 11.2h0M191.3 12.4h0M197.2 13.2h0M204.0 13.6h0M213.0 14.7h0M216.4 15.5h0M219.5 15.1h0M233.3 17.3h0M184.3 14.4h0M190.6 15.4h0M203.2 17.3h0M210.1 18.1h0M219.0 18.3h0M221.9 19.3h0M225.9 20.0h0M228.6 19.4h0M231.5 20.5h0M233.3 20.6h0M184.5 17.8h0M193.5 18.7h0M197.4 19.1h0M200.6 19.7h0M203.5 20.3h0M206.1 20.2h0M212.8 20.8h0M225.3 23.1h0M228.7 23.3h0M181.3 20.7h0M184.0 20.8h0M187.5 21.4h0M194.0 22.4h0M197.1 22.9h0M199.9 23.1h0M209.6 24.1h0M212.4 24.4h0M218.8 25.0h0M221.5 25.3h0M224.7 26.0h0M230.9 26.7h0M233.3 27.0h0M187.0 24.4h0M193.1 25.0h0M202.4 26.1h0M205.7 26.4h0M212.2 27.1h0M215.1 27.9h0M218.6 28.0h0M224.9 28.7h0M233.3 30.1h0M186.9 27.5h0M195.8 28.8h0M198.9 28.7h0M212.1 30.4h0M214.5 31.1h0M218.3 31.5h0M221.4 31.6h0M224.3 31.9h0M230.4 32.7h0M233.3 33.4h0M192.9 31.4h0M198.5 32.6h0M208.1 32.9h0M211.1 33.4h0M214.7 33.9h0M217.3 34.2h0M227.2 35.7h0M230.1 36.0h0M233.4 36.7h0M233.3 36.4h0M179.9 33.2h0M189.4 34.1h0M192.7 34.7h0M199.0 35.6h0M201.6 35.7h0M208.3 36.2h0M210.6 36.5h0M233.3 39.5h0M192.4 38.3h0M195.4 38.6h0M198.1 38.4h0M204.7 38.8h0M207.4 39.7h0M214.1 40.3h0M229.3 42.2h0M233.3 42.8h0M197.7 41.6h0M207.0 42.7h0M210.2 43.0h0M213.4 43.4h0M217.1 43.8h0M226.2 44.6h0M229.4 45.0h0M232.1 46.1h0M233.3 46.2h0M213.3 46.9h0M219.4 47.3h0M222.2 48.2h0M231.7 49.3h0M233.3 49.1h0M216.1 50.6h0M222.7 50.6h0M225.6 51.1h0M228.9 52.1h0M231.9 52.1h0M233.3 52.0h0M216.0 53.6h0M227.8 55.4h0M231.0 55.4h0M218.6 57.0h0M225.2 57.5h0M233.3 58.6h0M218.7 60.5h0M224.5 61.1h0M233.3 61.9h0M218.2 63.2h0M221.5 63.3h0M223.8 64.4h0M227.4 64.5h0M233.3 65.3h0M217.3 66.2h0M220.5 66.7h0M224.3 67.5h0M227.1 67.1h0M229.8 67.7h0M233.3 151.5h0M211.1 152.3h0M233.3 154.4h0M222.1 159.3h0M228.4 160.1h0M233.3 160.7h0M205.9 160.6h0M209.5 161.6h0M218.3 162.9h0M225.2 163.5h0M228.4 163.8h0M233.3 164.0h0M164.8 159.5h0M167.6 159.8h0M177.6 160.4h0M186.5 161.7h0M202.8 163.5h0M220.9 165.6h0M233.3 167.5h0M186.0 164.5h0M211.2 168.3h0M214.8 168.0h0M220.6 169.4h0M223.9 169.5h0M227.4 169.6h0M229.9 169.8h0M233.0 170.7h0M233.3 170.3h0M204.9 170.1h0M207.9 170.9h0M226.1 172.8h0M229.2 173.0h0M169.8 169.1h0M172.3 170.1h0M176.1 170.4h0M178.9 170.2h0M210.1 173.9h0M213.8 174.6h0M216.1 174.7h0M222.5 175.6h0M225.6 176.6h0M175.6 173.7h0M197.0 176.0h0M209.7 177.1h0M219.7 178.2h0M222.7 179.1h0M228.8 179.8h0M232.1 180.4h0M233.3 180.1h0M162.8 175.0h0M168.8 175.6h0M174.7 176.4h0M206.7 180.2h0M215.7 181.6h0M218.6 181.5h0M225.3 182.6h0M233.3 183.1h0M165.4 178.5h0M171.1 179.1h0M174.8 179.3h0M186.7 181.5h0M189.9 181.3h0M193.1 182.2h0M203.0 182.9h0M205.9 183.6h0M208.6 183.8h0M214.7 184.5h0M221.5 185.0h0M227.9 186.1h0M233.3 186.3h0M173.9 182.9h0M186.1 183.8h0M189.2 184.8h0M208.3 186.5h0M211.7 187.7h0M218.1 187.5h0M221.1 188.8h0M227.2 189.5h0M160.5 184.4h0M167.0 184.8h0M179.9 187.1h0M189.4 187.5h0M195.7 188.9h0M198.8 188.5h0M204.5 189.2h0M214.3 191.1h0M217.4 191.1h0M227.0 192.0h0M160.8 187.2h0M163.7 188.2h0M166.5 187.9h0M169.9 188.6h0M172.9 189.2h0M185.3 190.4h0M189.1 191.2h0M191.8 191.0h0M195.1 192.1h0M198.5 192.4h0M200.9 192.9h0M204.4 193.1h0M220.1 194.8h0M223.1 195.3h0M226.1 195.6h0M229.5 196.1h0M233.3 196.0h0M160.0 190.7h0M163.5 191.2h0M166.0 191.1h0M178.3 192.5h0M188.5 194.3h0M191.4 194.8h0M194.0 194.9h0M198.0 194.8h0M210.1 196.4h0M213.4 197.2h0M216.3 196.9h0M222.5 197.9h0M225.4 198.3h0M232.2 198.9h0M159.4 193.8h0M162.3 194.4h0M168.7 195.0h0M171.7 195.0h0M175.4 195.8h0M181.1 196.9h0M184.5 196.3h0M187.7 197.5h0M193.7 197.6h0M203.2 198.7h0M206.6 199.3h0M209.6 199.9h0M212.6 200.3h0M216.0 201.0h0M225.0 201.2h0M227.8 202.3h0M231.9 202.4h0M233.3 202.4h0M162.3 197.5h0M165.6 198.2h0M171.0 199.0h0M178.2 199.5h0M181.1 199.8h0M184.2 200.0h0M186.9 200.3h0M190.1 200.8h0M193.1 201.4h0M205.5 202.1h0M208.6 203.3h0M161.7 200.5h0M164.2 200.7h0M168.0 201.1h0M174.0 202.5h0M183.4 202.9h0M189.3 204.1h0M192.5 204.7h0M198.7 204.5h0M205.6 205.8h0M211.8 206.8h0M215.1 207.2h0M217.6 207.4h0M226.9 208.5h0M233.3 209.0h0M161.5 204.0h0M164.2 204.2h0M170.0 204.4h0M174.2 205.5h0M177.3 205.7h0M182.7 206.5h0M186.6 207.1h0M189.4 207.4h0M192.8 206.9h0M199.2 208.0h0M204.9 209.4h0M211.2 209.6h0M217.4 210.3h0M224.2 210.8h0M232.8 212.6h0M233.3 212.4h0M157.6 206.7h0M160.4 207.1h0M164.1 207.6h0M167.0 207.2h0M173.5 208.5h0M179.1 208.6h0M182.6 209.8h0M188.7 210.3h0M195.2 210.7h0M198.7 211.7h0M204.8 211.9h0M211.0 212.9h0M157.5 209.1h0M169.6 211.3h0M176.4 211.9h0M178.6 211.9h0M181.8 212.8h0" stroke="#0000cf"/><path d="M198.0 10.0h0M210.0 11.5h0M217.0 11.6h0M188.6 11.8h0M194.5 12.5h0M225.8 16.1h0M232.3 16.7h0M206.6 17.0h0M212.5 17.8h0M187.7 18.0h0M189.9 21.9h0M189.8 25.0h0M196.2 26.1h0M221.4 28.9h0M230.7 29.9h0M180.9 27.0h0M202.6 29.3h0M208.5 30.6h0M189.8 31.5h0M183.1 33.5h0M213.8 36.8h0M211.0 40.4h0M226.4 41.8h0M232.8 42.3h0M222.9 44.7h0M216.5 47.3h0M219.0 50.7h0M219.3 53.9h0M233.3 55.3h0M215.4 56.4h0M221.7 57.8h0M214.0 66.2h0M233.5 151.5h0M192.0 149.7h0M207.9 151.6h0M214.2 151.8h0M216.8 152.5h0M220.1 152.9h0M223.6 153.4h0M226.8 154.2h0M229.0 153.8h0M233.1 154.0h0M210.2 155.3h0M213.0 155.5h0M216.2 156.1h0M219.6 155.9h0M226.1 156.8h0M210.2 157.8h0M216.2 159.0h0M218.8 159.6h0M231.6 161.0h0M211.9 161.7h0M215.5 161.9h0M222.0 163.0h0M231.3 163.4h0M174.2 160.1h0M180.3 161.4h0M189.6 161.9h0M193.1 162.9h0M196.2 163.3h0M209.2 164.4h0M211.9 164.5h0M214.5 165.0h0M224.1 165.8h0M227.8 166.5h0M164.5 162.0h0M167.7 162.6h0M170.5 163.4h0M177.3 163.9h0M180.4 164.3h0M183.6 164.3h0M192.7 165.5h0M195.9 165.9h0M205.0 166.9h0M207.8 167.2h0M217.8 168.5h0M167.1 165.4h0M170.3 166.2h0M176.1 167.1h0M182.8 168.1h0M185.9 168.3h0M188.7 168.5h0M191.8 169.0h0M195.2 169.6h0M198.4 169.8h0M201.1 170.4h0M213.6 171.1h0M223.1 172.5h0M233.1 173.8h0M233.3 173.8h0M163.5 168.8h0M166.2 168.6h0M185.1 171.7h0M198.3 173.1h0M200.6 173.1h0M203.7 173.5h0M207.5 173.8h0M163.0 172.1h0M169.1 172.7h0M172.1 172.6h0M178.7 173.4h0M181.4 173.7h0M193.8 175.6h0M200.1 176.2h0M203.4 177.0h0M206.4 177.4h0M213.0 178.1h0M216.2 177.8h0M165.7 175.2h0M178.4 177.0h0M180.8 177.6h0M183.9 177.3h0M187.0 178.3h0M193.6 178.8h0M199.8 179.5h0M203.4 180.2h0M209.1 180.4h0M212.9 181.0h0M161.8 177.9h0M177.3 179.7h0M180.9 180.8h0M184.2 181.1h0M196.2 182.5h0M199.2 182.8h0M211.8 183.6h0M161.6 181.0h0M167.8 181.9h0M170.7 182.7h0M180.5 184.0h0M183.8 183.8h0M192.8 185.0h0M195.5 185.2h0M202.1 185.8h0M205.1 186.4h0M214.7 188.0h0M223.8 188.9h0M164.0 184.3h0M170.7 185.9h0M176.5 186.4h0M183.0 186.8h0M186.0 187.7h0M192.7 188.1h0M207.6 189.6h0M220.3 191.0h0M223.8 191.5h0M232.8 192.9h0M233.3 193.3h0M182.6 189.8h0M207.0 193.6h0M213.8 193.9h0M216.6 194.6h0M232.3 196.6h0M172.3 192.1h0M185.3 193.3h0M200.4 195.8h0M203.5 196.1h0M206.4 195.9h0M219.3 197.4h0M233.3 199.5h0M165.5 194.5h0M190.3 197.8h0M197.0 198.5h0M158.7 197.0h0M196.4 201.1h0M199.6 202.3h0M202.9 202.0h0M212.2 203.4h0M218.1 204.3h0M221.4 204.2h0M231.3 205.4h0M233.3 205.7h0M179.9 203.1h0M208.3 206.4h0M224.1 208.0h0M230.7 209.1h0M158.4 203.2h0M180.4 206.2h0M195.3 208.2h0M201.4 208.8h0M220.5 211.0h0M227.2 211.5h0M185.5 209.8h0M191.9 210.3h0M208.0 211.9h0M163.7 210.1h0M172.4 211.1h0M156.3 212.6h0" stroke="#0000df"/><path d="M206.9 14.3h0M213.4 50.2h0M230.3 150.5h0M194.7 150.2h0M228.6 157.0h0M232.0 157.3h0M212.6 158.6h0M225.6 159.7h0M187.1 158.2h0M171.1 159.5h0M199.2 162.9h0M217.8 165.6h0M189.3 165.8h0M198.9 166.7h0M202.2 166.9h0M163.9 165.2h0M179.4 167.8h0M182.5 170.6h0M188.6 171.9h0M191.9 171.6h0M194.3 172.1h0M219.3 175.3h0M184.8 174.3h0M187.8 174.9h0M191.0 174.9h0M171.6 176.2h0M190.4 177.9h0M196.7 178.6h0M165.0 181.2h0M198.8 185.3h0M173.5 186.3h0M208.4 208.9h0" stroke="#0000ef"/><path d="M197.6 45.3h0M200.6 45.2h0M203.7 45.8h0M210.2 46.6h0M200.1 48.1h0M212.9 53.1h0M211.5 62.6h0M233.6 68.7h0M204.6 151.4h0M179.4 151.2h0" stroke="#0000ff"/><path d="M207.3 45.7h0M197.4 48.5h0M203.9 49.2h0M196.9 51.6h0M185.3 151.5h0M188.4 152.0h0M200.0 160.4h0M202.7 160.1h0" stroke="#0010ff"/><path d="M199.6 51.8h0M196.7 57.4h0M201.4 151.1h0M182.0 152.1h0M165.9 156.1h0M184.6 157.8h0" stroke="#0020ff"/><path d="M207.1 49.2h0M203.3 52.0h0M196.9 54.7h0M180.8 157.6h0M197.0 159.9h0" stroke="#0030ff"/><path d="M209.7 49.2h0M200.1 54.5h0M202.2 58.7h0M176.8 93.0h0M191.0 153.1h0M168.9 156.4h0M171.6 156.9h0M190.5 159.4h0" stroke="#0040ff"/><path d="M203.2 55.0h0M211.9 56.2h0M199.9 57.7h0M174.3 93.2h0M180.2 93.5h0M184.4 110.0h0M229.2 134.6h0M207.2 155.1h0M181.4 154.3h0M184.3 155.3h0M188.2 155.8h0M206.3 157.3h0M174.4 156.9h0M177.6 157.2h0" stroke="#0050ff"/><path d="M205.7 55.0h0M211.7 58.9h0M177.4 90.5h0M188.3 110.4h0M225.9 134.2h0M200.6 134.7h0M203.4 135.3h0M206.5 135.8h0M222.1 136.8h0M225.5 137.4h0M229.0 138.4h0M232.1 138.1h0M196.9 137.6h0M200.4 138.1h0M203.2 138.4h0M225.4 140.4h0M178.8 154.0h0" stroke="#0060ff"/><path d="M206.9 52.0h0M205.6 61.4h0M190.6 85.1h0M193.8 85.5h0M205.9 87.4h0M174.3 87.0h0M192.9 89.1h0M205.7 90.9h0M174.3 89.4h0M193.2 92.4h0M189.1 94.6h0M186.5 97.3h0M189.3 101.2h0M201.8 103.1h0M188.5 104.3h0M191.7 104.4h0M201.4 106.3h0M172.3 105.7h0M184.7 107.1h0M172.6 108.4h0M223.1 134.2h0M178.7 132.0h0M194.6 133.6h0M219.8 137.2h0M233.3 138.3h0M206.1 138.5h0M222.1 140.6h0M227.9 140.9h0M194.8 153.0h0M175.6 153.8h0M183.6 161.7h0" stroke="#0070ff"/><path d="M210.9 66.0h0M201.0 76.9h0M207.2 77.4h0M196.6 83.1h0M200.1 83.7h0M203.1 83.4h0M206.3 84.5h0M184.6 84.7h0M187.4 85.1h0M196.8 86.3h0M200.2 86.7h0M202.6 87.3h0M189.7 89.0h0M196.8 89.1h0M202.8 89.9h0M190.0 91.9h0M195.9 92.8h0M199.5 92.8h0M205.5 93.4h0M186.1 94.4h0M195.7 96.1h0M198.6 95.6h0M173.3 96.6h0M189.4 98.5h0M192.2 98.3h0M195.0 99.2h0M198.3 98.7h0M172.7 99.2h0M195.4 101.8h0M173.0 102.7h0M182.4 103.6h0M185.5 104.3h0M195.2 105.0h0M204.4 106.2h0M178.4 106.2h0M182.3 107.1h0M188.7 108.0h0M191.2 108.1h0M194.3 107.8h0M198.0 108.2h0M201.2 108.9h0M181.8 110.1h0M190.8 110.6h0M196.8 112.1h0M181.4 112.7h0M183.6 116.7h0M170.8 121.2h0M170.6 124.3h0M179.4 126.1h0M182.8 126.0h0M223.7 131.1h0M173.3 127.9h0M175.8 128.6h0M178.8 129.3h0M213.9 133.2h0M220.3 133.6h0M232.6 135.5h0M233.3 135.3h0M168.9 131.1h0M175.3 132.0h0M181.6 132.1h0M191.2 133.2h0M197.1 133.9h0M194.2 137.3h0M231.2 141.5h0M233.3 141.7h0" stroke="#0080ff"/><path d="M209.4 53.0h0M209.3 55.7h0M206.1 58.8h0M208.9 58.7h0M208.6 61.8h0M207.8 72.1h0M203.9 77.5h0M200.6 80.5h0M203.9 80.7h0M180.6 84.8h0M178.1 86.8h0M199.5 89.9h0M187.0 91.3h0M183.6 94.4h0M192.7 95.7h0M179.7 97.3h0M183.0 97.6h0M201.3 99.6h0M179.0 100.1h0M183.0 100.5h0M186.0 100.7h0M192.3 101.7h0M198.7 102.8h0M197.9 105.8h0M175.7 106.4h0M204.2 109.3h0M175.9 109.2h0M178.8 109.6h0M172.2 111.9h0M174.8 112.2h0M184.5 113.9h0M174.5 115.4h0M177.3 115.5h0M180.6 116.3h0M187.0 116.8h0M221.5 121.0h0M170.9 118.6h0M177.5 119.4h0M186.4 120.0h0M190.1 120.8h0M217.8 124.1h0M223.9 125.1h0M173.6 122.1h0M176.4 122.3h0M183.2 123.3h0M186.1 123.5h0M189.6 123.9h0M192.1 124.2h0M223.3 128.1h0M173.4 124.5h0M176.0 124.8h0M216.8 129.7h0M219.8 130.8h0M232.3 132.1h0M169.7 127.6h0M182.7 129.7h0M185.6 129.2h0M194.5 130.7h0M198.3 130.8h0M201.4 131.1h0M204.4 131.3h0M187.9 133.1h0M209.6 135.5h0M172.4 134.7h0M175.0 134.5h0M178.7 134.8h0M181.3 135.9h0M187.4 136.2h0M203.9 154.0h0M190.7 156.0h0M203.1 157.7h0" stroke="#008fff"/><path d="M206.7 80.7h0M177.0 96.8h0M176.5 99.7h0M176.4 102.5h0M179.2 103.0h0M194.4 111.7h0M177.8 112.7h0M187.7 113.6h0M190.8 113.8h0M197.1 115.0h0M190.6 117.6h0M217.9 120.5h0M174.4 118.8h0M180.4 119.1h0M183.8 120.2h0M214.4 123.5h0M221.0 124.0h0M180.2 122.5h0M217.6 127.2h0M220.6 127.3h0M185.5 126.5h0M214.3 129.8h0M207.1 131.7h0M210.2 132.6h0M217.1 133.0h0M172.8 131.7h0M184.9 132.8h0M168.5 133.6h0M184.1 135.7h0M197.8 149.9h0M198.1 153.2h0" stroke="#009fff"/><path d="M222.7 108.6h0M232.7 109.3h0M207.4 110.0h0M200.0 112.1h0M200.1 115.1h0M171.9 114.8h0M199.9 118.6h0M215.1 120.1h0M224.1 121.0h0M226.7 130.9h0M188.3 130.1h0M191.6 130.5h0M191.2 137.1h0M200.8 156.8h0" stroke="#00afff"/><path d="M226.1 108.7h0M229.0 108.8h0M233.3 109.6h0M206.6 116.3h0M188.6 126.3h0M233.3 131.7h0M200.4 153.4h0" stroke="#00bfff"/><path d="M222.4 111.7h0M203.6 112.3h0M206.5 112.9h0M209.2 116.7h0M202.2 118.5h0M206.4 119.2h0M209.0 119.2h0M212.4 120.3h0M196.8 157.0h0" stroke="#00cfff"/><path d="M216.9 72.3h0M232.2 106.3h0M231.9 113.1h0M233.3 116.0h0M203.5 115.7h0M224.8 117.9h0M228.2 118.6h0M231.5 118.7h0M233.3 119.3h0M227.5 122.1h0M208.6 142.3h0M226.5 150.3h0M194.2 156.0h0M174.2 163.8h0" stroke="#00dfff"/><path d="M214.0 69.4h0M217.3 69.0h0M230.3 70.9h0M233.3 71.5h0M230.0 74.5h0M229.6 76.9h0M233.3 81.1h0M209.5 81.8h0M233.3 84.3h0M215.5 85.3h0M221.8 85.5h0M233.3 87.6h0M209.5 88.2h0M225.1 89.7h0M215.2 92.0h0M224.1 92.3h0M208.5 93.8h0M214.9 94.8h0M229.2 106.5h0M233.3 106.6h0M225.5 112.3h0M228.7 112.2h0M233.3 112.6h0M225.8 114.9h0M228.4 115.0h0M231.3 116.0h0M227.3 128.3h0M191.9 126.9h0M180.8 139.0h0M223.4 150.3h0M179.9 147.9h0M193.6 159.3h0" stroke="#00efff"/><path d="M223.3 70.7h0M226.9 71.0h0M233.2 71.5h0M210.3 71.9h0M213.7 72.1h0M232.9 74.3h0M233.3 74.4h0M210.1 74.7h0M232.8 77.9h0M233.3 78.1h0M209.8 77.9h0M229.1 80.3h0M231.3 84.2h0M209.5 84.7h0M212.2 84.6h0M218.5 86.1h0M224.9 86.4h0M228.4 87.1h0M231.0 87.6h0M211.9 88.0h0M215.3 88.8h0M218.5 89.2h0M222.0 89.1h0M227.6 89.7h0M230.7 90.6h0M233.3 90.5h0M209.1 90.5h0M212.2 91.6h0M218.0 91.7h0M221.8 92.1h0M233.3 93.6h0M212.1 94.5h0M233.3 103.4h0M222.9 105.1h0M226.7 105.7h0M229.7 131.1h0M183.6 139.0h0" stroke="#00ffff"/><path d="M211.3 69.2h0M220.0 69.4h0M226.8 74.0h0M213.5 75.0h0M232.5 80.8h0M212.5 82.2h0M228.0 93.4h0M230.5 93.7h0M217.9 94.8h0M196.3 140.6h0M185.9 149.1h0M188.6 149.4h0" stroke="#10ffef"/><path d="M220.1 72.8h0M233.3 96.7h0M233.3 100.1h0M233.0 103.1h0M219.9 105.0h0M233.3 122.4h0M227.6 125.1h0M193.6 140.1h0M204.5 148.4h0M220.6 150.2h0M182.2 148.2h0" stroke="#20ffdf"/><path d="M216.9 76.1h0M215.7 82.0h0M233.0 99.8h0M231.3 122.5h0M233.3 144.6h0M180.2 141.5h0M198.8 147.2h0M202.1 147.4h0" stroke="#30ffcf"/><path d="M214.7 59.7h0M222.8 73.1h0M226.0 76.5h0M221.2 95.4h0M230.7 96.5h0M217.3 98.6h0M217.7 101.6h0M230.2 125.3h0M233.3 125.8h0M187.4 139.5h0M221.7 143.2h0M205.9 144.7h0M233.3 147.8h0M218.0 149.4h0" stroke="#40ffbf"/><path d="M229.8 102.7h0M190.2 139.9h0M224.8 143.4h0M195.9 147.2h0M211.6 149.1h0M214.3 149.3h0" stroke="#50ffaf"/><path d="M213.4 78.3h0M216.4 79.4h0M219.4 79.1h0M227.0 96.4h0M229.8 128.6h0M233.4 128.6h0M230.6 144.9h0M230.8 147.5h0" stroke="#60ff9f"/><path d="M220.0 76.7h0M197.5 79.4h0M224.0 95.9h0M220.7 98.7h0M224.3 98.6h0M230.3 99.5h0M220.7 101.3h0M233.3 128.8h0M183.9 142.1h0M186.3 142.5h0M196.3 144.0h0M221.5 146.6h0M224.1 147.4h0M227.5 147.3h0M180.4 144.8h0M208.0 148.1h0" stroke="#70ff8f"/><path d="M222.6 76.5h0M227.0 99.3h0M224.1 101.7h0M226.6 102.6h0M228.1 144.6h0M189.5 143.0h0M192.8 142.9h0M211.4 145.3h0M214.9 146.3h0M182.7 145.0h0M186.4 145.7h0M189.7 146.5h0M192.4 146.0h0" stroke="#80ff80"/><path d="M208.1 144.8h0M217.9 146.3h0" stroke="#8fff70"/></g>
</g>
<g transform="translate(1037.90,485.70) scale(1.0058,1.0092)"><use href="#map"/></g>
<rect x="1285.7" y="485.4" width="22.9" height="215.3" fill="url(#jet)" stroke="#1a1a1a" stroke-width="0.9"/>
<path d="M1308.6 593.3h-2.4" stroke="#1a1a1a" stroke-width="0.9"/>
<text class="b" x="1317.1" y="492.8" font-size="21.2">100</text>
<text class="b" x="1317.1" y="599.9" font-size="21.2">50</text>
<text class="b" x="1317.1" y="707.3" font-size="21.2">0</text>
<text class="b" x="1084.3" y="464.8" font-size="12.3" text-anchor="end">100</text>
<circle class="d" cx="1088.6" cy="451.9" r="1.4"/>
<text class="b" x="1096.8" y="464.8" font-size="12.3">W</text>
<text class="b" x="1144.2" y="464.8" font-size="12.3" text-anchor="end">90</text>
<circle class="d" cx="1148.5" cy="451.9" r="1.4"/>
<text class="b" x="1156.7" y="464.8" font-size="12.3">W</text>
<text class="b" x="1206.7" y="464.8" font-size="12.3" text-anchor="end">80</text>
<circle class="d" cx="1211.0" cy="451.9" r="1.4"/>
<text class="b" x="1219.2" y="464.8" font-size="12.3">W</text>
<text class="b" x="1270.9" y="464.8" font-size="12.3" text-anchor="end">70</text>
<circle class="d" cx="1275.2" cy="451.9" r="1.4"/>
<text class="b" x="1283.4" y="464.8" font-size="12.3">W</text>
<text class="b" x="1005.3" y="502.9" font-size="12.3" text-anchor="end">48</text>
<circle class="d" cx="1009.4" cy="490.1" r="1.45"/>
<text class="b" x="1016.7" y="502.9" font-size="12.3">N</text>
<text class="b" x="1005.3" y="520.7" font-size="12.3" text-anchor="end">46</text>
<circle class="d" cx="1009.4" cy="507.9" r="1.45"/>
<text class="b" x="1016.7" y="520.7" font-size="12.3">N</text>
<text class="b" x="1005.3" y="538.2" font-size="12.3" text-anchor="end">44</text>
<circle class="d" cx="1009.4" cy="525.4" r="1.45"/>
<text class="b" x="1016.7" y="538.2" font-size="12.3">N</text>
<text class="b" x="1005.3" y="556.7" font-size="12.3" text-anchor="end">42</text>
<circle class="d" cx="1009.4" cy="543.9" r="1.45"/>
<text class="b" x="1016.7" y="556.7" font-size="12.3">N</text>
<text class="b" x="1005.3" y="573.1" font-size="12.3" text-anchor="end">40</text>
<circle class="d" cx="1009.4" cy="560.3" r="1.45"/>
<text class="b" x="1016.7" y="573.1" font-size="12.3">N</text>
<text class="b" x="1005.3" y="588.2" font-size="12.3" text-anchor="end">38</text>
<circle class="d" cx="1009.4" cy="575.4" r="1.45"/>
<text class="b" x="1016.7" y="588.2" font-size="12.3">N</text>
<text class="b" x="1005.3" y="604.8" font-size="12.3" text-anchor="end">36</text>
<circle class="d" cx="1009.4" cy="592.0" r="1.45"/>
<text class="b" x="1016.7" y="604.8" font-size="12.3">N</text>
<text class="b" x="1005.3" y="619.6" font-size="12.3" text-anchor="end">34</text>
<circle class="d" cx="1009.4" cy="606.8" r="1.45"/>
<text class="b" x="1016.7" y="619.6" font-size="12.3">N</text>
<text class="b" x="1005.3" y="636.0" font-size="12.3" text-anchor="end">32</text>
<circle class="d" cx="1009.4" cy="623.2" r="1.45"/>
<text class="b" x="1016.7" y="636.0" font-size="12.3">N</text>
<text class="b" x="1005.3" y="650.8" font-size="12.3" text-anchor="end">30</text>
<circle class="d" cx="1009.4" cy="638.0" r="1.45"/>
<text class="b" x="1016.7" y="650.8" font-size="12.3">N</text>
<text class="b" x="1005.3" y="665.3" font-size="12.3" text-anchor="end">28</text>
<circle class="d" cx="1009.4" cy="652.5" r="1.45"/>
<text class="b" x="1016.7" y="665.3" font-size="12.3">N</text>
<text class="b" x="1005.3" y="679.4" font-size="12.3" text-anchor="end">26</text>
<circle class="d" cx="1009.4" cy="666.6" r="1.45"/>
<text class="b" x="1016.7" y="679.4" font-size="12.3">N</text>
<text class="b" x="1005.3" y="691.8" font-size="12.3" text-anchor="end">24</text>
<circle class="d" cx="1009.4" cy="679.0" r="1.45"/>
<text class="b" x="1016.7" y="691.8" font-size="12.3">N</text>
<text class="b" x="1005.3" y="707.2" font-size="12.3" text-anchor="end">22</text>
<circle class="d" cx="1009.4" cy="694.4" r="1.45"/>
<text class="b" x="1016.7" y="707.2" font-size="12.3">N</text>
<text class="b" x="982.8" y="731.9" font-size="23.1">SAT 400 hPa RH (Percent)</text>
</svg></body></html>
